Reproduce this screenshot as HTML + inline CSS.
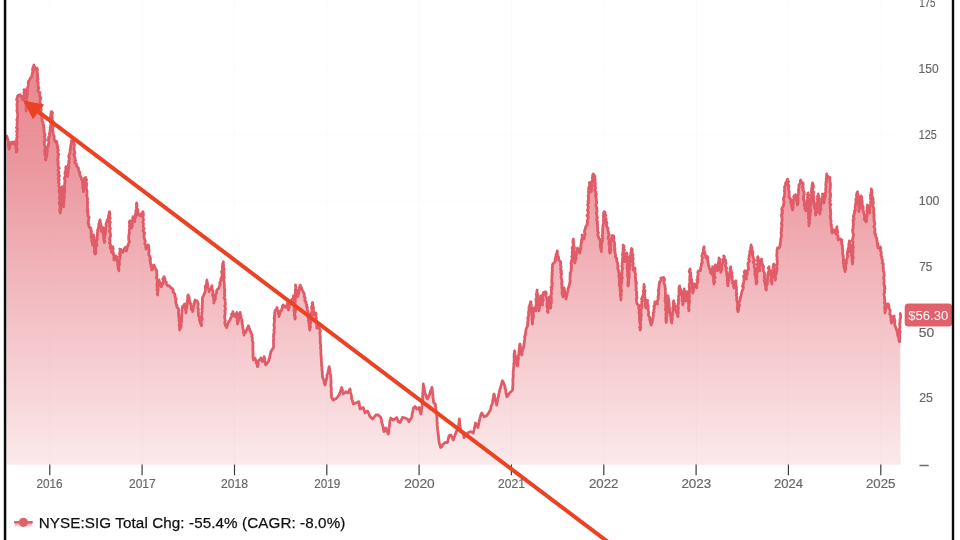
<!DOCTYPE html>
<html lang="en">
<head>
<meta charset="utf-8">
<title>NYSE:SIG Total Change</title>
<style>
html,body{margin:0;padding:0;background:#fff;}
body{width:960px;height:540px;overflow:hidden;position:relative;font-family:"Liberation Sans",sans-serif;}
svg{position:absolute;left:0;top:0;display:block;}
.grid line{stroke:#fbfbfb;stroke-width:1;}
.grid line.h{stroke:#fcfcfc;}
.ticks line{stroke:#3c3c3c;stroke-width:1.2;}
.ax text{font-family:"Liberation Sans",sans-serif;font-size:13px;fill:#686868;letter-spacing:0;stroke:#686868;stroke-width:0.2px;}
.legend{font-family:"Liberation Sans",sans-serif;font-size:15.2px;fill:#111;letter-spacing:0.1px;stroke:#111;stroke-width:0.25px;}
.tag{font-family:"Liberation Sans",sans-serif;font-size:12px;fill:#fff;}
</style>
</head>
<body>
<svg width="960" height="540" viewBox="0 0 960 540">
<defs>
<linearGradient id="g" gradientUnits="userSpaceOnUse" x1="0" y1="0" x2="0" y2="465">
<stop offset="0" stop-color="#e05a66" stop-opacity="0.72"/>
<stop offset="0.2" stop-color="#e05a66" stop-opacity="0.70"/>
<stop offset="0.344" stop-color="#e05a66" stop-opacity="0.64"/>
<stop offset="1" stop-color="#e05a66" stop-opacity="0.13"/>
</linearGradient>
<linearGradient id="lg" x1="0" y1="0" x2="0" y2="1">
<stop offset="0" stop-color="#e9828b"/>
<stop offset="1" stop-color="#fbeced"/>
</linearGradient>
</defs>
<rect x="0" y="0" width="960" height="540" fill="#ffffff"/>
<g class="grid"><line class="h" x1="6" y1="3.1" x2="900" y2="3.1" /><line class="h" x1="6" y1="69.1" x2="900" y2="69.1" /><line class="h" x1="6" y1="135.0" x2="900" y2="135.0" /><line class="h" x1="6" y1="200.9" x2="900" y2="200.9" /><line class="h" x1="6" y1="266.8" x2="900" y2="266.8" /><line class="h" x1="6" y1="332.8" x2="900" y2="332.8" /><line class="h" x1="6" y1="398.7" x2="900" y2="398.7" /><line x1="50" y1="0" x2="50" y2="465" /><line x1="142.3" y1="0" x2="142.3" y2="465" /><line x1="234.7" y1="0" x2="234.7" y2="465" /><line x1="327" y1="0" x2="327" y2="465" /><line x1="419.3" y1="0" x2="419.3" y2="465" /><line x1="511.6" y1="0" x2="511.6" y2="465" /><line x1="604" y1="0" x2="604" y2="465" /><line x1="696.3" y1="0" x2="696.3" y2="465" /><line x1="788.6" y1="0" x2="788.6" y2="465" /><line x1="881" y1="0" x2="881" y2="465" /></g>
<g style="filter:blur(0.5px)">
<path d="M6.7,136.0 L7.2,137.3 L7.4,138.7 L8.0,140.0 L8.3,141.3 L8.7,142.5 L8.6,143.8 L8.3,145.2 L8.7,146.4 L8.6,147.8 L9.2,149.0 L9.6,147.8 L9.8,146.6 L9.4,145.3 L10.6,144.3 L10.6,143.0 L11.7,142.1 L12.9,142.6 L13.2,143.9 L13.5,142.7 L14.4,141.7 L14.8,143.2 L15.4,144.6 L15.7,146.0 L16.2,147.2 L16.0,148.4 L16.2,149.6 L16.8,150.8 L16.4,152.0 L16.9,150.7 L17.2,149.4 L16.5,148.1 L16.5,146.9 L16.7,145.6 L16.8,144.3 L17.1,143.0 L17.0,141.7 L16.7,140.4 L16.6,139.1 L16.8,137.9 L17.4,136.6 L16.7,135.3 L17.1,134.0 L17.2,132.7 L16.5,131.4 L17.1,130.1 L17.6,128.9 L16.4,127.6 L17.1,126.3 L17.2,125.0 L16.9,123.7 L17.4,122.4 L17.2,121.0 L16.7,119.7 L17.6,118.4 L17.5,117.1 L17.6,115.8 L17.8,114.5 L17.4,113.1 L17.3,111.8 L16.8,110.5 L17.5,109.2 L17.1,107.9 L17.2,106.5 L16.9,105.2 L17.0,103.9 L17.2,102.6 L17.9,101.3 L16.6,99.9 L16.8,98.6 L17.5,97.3 L17.6,96.0 L18.3,95.1 L19.4,95.8 L20.2,94.7 L20.9,95.9 L21.8,96.6 L22.5,97.6 L22.2,99.0 L22.8,100.1 L23.2,98.7 L23.4,97.4 L23.6,96.1 L24.2,94.9 L24.0,93.5 L24.1,92.2 L24.3,90.9 L24.0,89.6 L25.0,89.8 L24.8,90.9 L25.0,92.2 L26.1,93.4 L25.7,94.8 L25.2,96.1 L26.4,97.3 L25.9,98.7 L25.7,100.0 L26.4,101.4 L25.4,102.8 L25.8,104.1 L26.2,105.5 L26.0,106.9 L26.0,108.3 L26.2,109.6 L26.1,111.0 L26.1,109.7 L26.2,108.4 L26.8,107.1 L26.5,105.8 L26.2,104.5 L27.0,103.2 L27.2,101.9 L26.5,100.6 L26.2,99.3 L26.8,98.0 L26.8,96.6 L26.9,95.2 L27.6,93.9 L26.8,92.4 L27.8,91.1 L26.9,89.7 L27.4,88.3 L27.9,87.0 L28.2,85.7 L28.3,84.4 L28.3,83.0 L28.3,81.7 L28.9,80.9 L29.6,80.1 L29.9,79.0 L30.5,78.0 L31.8,76.8 L31.9,75.4 L32.3,74.1 L32.4,72.7 L33.1,71.4 L32.5,70.0 L32.7,68.7 L33.0,67.5 L33.5,66.2 L33.9,65.0 L34.4,66.3 L34.7,67.7 L35.0,69.1 L36.9,68.0 L37.5,69.7 L37.1,71.1 L37.2,72.5 L37.4,73.9 L37.7,75.2 L37.4,76.6 L37.8,78.0 L38.0,79.2 L37.1,80.5 L37.8,81.7 L38.2,83.0 L38.1,84.2 L38.2,85.5 L38.1,86.7 L39.0,87.9 L38.4,89.2 L37.9,90.5 L38.5,91.7 L40.0,92.5 L39.7,93.8 L39.7,95.1 L39.5,96.3 L40.8,97.6 L40.3,98.9 L40.3,100.2 L40.0,101.5 L39.9,102.7 L40.6,104.0 L40.0,105.4 L41.0,106.8 L40.3,108.2 L41.3,109.6 L40.8,111.0 L40.6,112.3 L41.3,113.4 L41.4,114.6 L41.5,115.9 L42.0,117.0 L42.3,118.4 L41.9,119.9 L42.4,121.3 L43.1,122.6 L43.0,124.1 L43.9,125.1 L43.3,126.5 L43.9,127.6 L44.0,128.8 L44.1,130.0 L44.2,131.3 L44.1,132.7 L44.9,134.0 L45.0,135.3 L44.2,136.7 L44.9,138.0 L45.0,139.3 L45.2,140.6 L44.2,142.0 L44.4,143.3 L44.2,144.7 L45.2,146.0 L44.9,147.3 L45.4,148.6 L44.9,150.0 L44.5,151.3 L45.5,152.5 L44.7,153.8 L45.0,155.0 L45.6,156.2 L46.3,157.4 L45.2,158.8 L45.8,160.0 L45.7,158.7 L46.3,157.5 L46.4,156.3 L47.0,155.1 L46.2,153.7 L47.1,152.6 L47.4,151.3 L47.2,150.0 L47.3,148.7 L47.4,147.4 L48.3,146.3 L48.3,145.0 L48.5,143.8 L49.1,142.6 L48.7,141.2 L48.1,139.9 L48.9,138.7 L48.5,137.4 L49.7,136.3 L49.5,135.0 L49.4,133.7 L49.7,132.5 L50.2,131.3 L50.0,130.0 L50.6,128.8 L50.2,127.5 L50.8,126.3 L50.7,125.0 L51.2,123.7 L50.4,122.3 L51.1,121.0 L50.1,119.6 L50.5,118.3 L50.2,117.0 L51.5,115.7 L50.7,114.3 L51.2,113.0 L51.3,111.7 L52.2,112.0 L52.5,113.3 L52.2,114.6 L51.7,115.9 L52.4,117.1 L52.3,118.4 L52.2,119.7 L52.7,120.9 L53.2,122.2 L53.0,123.5 L52.4,124.8 L53.5,126.0 L53.2,127.3 L52.6,128.6 L52.8,129.9 L53.1,131.2 L52.9,132.5 L53.2,133.7 L53.5,135.0 L54.2,136.2 L54.2,137.6 L54.0,139.1 L54.9,140.3 L55.1,141.7 L55.9,140.9 L56.9,142.0 L56.6,143.3 L57.3,144.3 L57.1,145.6 L57.8,146.6 L57.4,148.0 L57.9,149.2 L58.4,150.4 L57.5,151.7 L57.9,153.0 L58.7,154.2 L58.3,155.5 L57.9,156.7 L58.2,158.0 L57.8,159.3 L57.9,160.5 L58.0,161.8 L58.3,163.0 L57.8,164.3 L58.2,165.6 L58.3,166.9 L59.3,168.1 L58.2,169.5 L58.1,170.8 L58.8,172.1 L58.9,173.3 L58.0,174.7 L59.5,175.9 L58.7,177.2 L58.1,178.6 L59.3,179.8 L58.8,181.1 L58.4,182.4 L59.2,183.7 L59.1,185.0 L58.9,186.3 L59.6,187.5 L59.4,188.8 L59.3,190.1 L59.1,191.4 L59.5,192.6 L59.6,193.9 L60.0,195.2 L59.8,196.4 L59.4,197.7 L59.7,199.0 L60.1,200.3 L60.2,201.5 L59.1,202.9 L59.5,204.1 L59.8,205.4 L60.9,206.6 L59.9,207.9 L60.0,209.2 L59.6,210.5 L60.1,211.7 L60.3,213.0 L60.6,211.7 L59.7,210.3 L61.0,209.1 L60.8,207.8 L60.5,206.5 L61.3,205.2 L61.6,203.9 L60.5,202.6 L60.9,201.3 L61.2,200.0 L61.3,198.7 L61.2,197.3 L61.1,196.0 L62.3,194.7 L62.0,193.4 L61.2,192.0 L61.2,190.7 L62.5,189.4 L62.3,188.1 L62.3,186.7 L61.8,188.1 L62.6,189.3 L62.2,190.7 L63.3,192.0 L62.8,193.3 L62.7,194.7 L62.6,196.1 L63.2,197.3 L63.1,198.7 L63.0,200.0 L63.1,201.4 L63.1,202.7 L63.4,204.0 L63.7,205.4 L63.6,206.7 L63.8,205.4 L63.5,204.1 L63.7,202.9 L64.0,201.6 L64.0,200.3 L64.1,199.0 L64.2,197.8 L64.3,196.5 L64.2,195.2 L63.9,193.9 L64.6,192.7 L64.9,191.4 L64.7,190.1 L64.5,188.8 L64.8,187.6 L64.4,186.3 L64.5,185.0 L64.9,183.7 L64.6,182.4 L65.3,181.1 L64.7,179.7 L64.3,178.4 L64.8,177.1 L65.9,175.9 L65.2,174.5 L64.9,173.2 L65.2,171.9 L65.8,170.6 L65.8,169.3 L65.8,168.0 L66.0,166.7 L65.7,168.0 L66.2,169.2 L66.2,170.5 L66.0,171.8 L66.5,173.0 L66.7,174.3 L67.7,175.4 L67.5,176.7 L67.9,175.4 L67.6,174.1 L68.2,172.9 L68.1,171.6 L68.3,170.3 L68.0,169.0 L69.0,167.8 L68.8,166.5 L68.3,165.2 L68.5,163.9 L69.4,162.7 L68.6,161.4 L69.1,160.1 L69.3,158.9 L69.0,157.6 L68.7,156.2 L69.2,155.0 L69.6,153.7 L70.1,152.4 L70.1,151.0 L70.1,149.7 L70.6,148.4 L70.6,147.0 L70.8,145.8 L71.0,144.7 L71.2,143.5 L71.8,142.4 L71.4,141.1 L71.9,140.0 L73.0,141.0 L73.8,142.3 L73.6,143.8 L74.5,145.1 L74.2,146.6 L74.1,148.0 L74.1,149.3 L74.4,150.5 L74.5,151.7 L75.0,153.0 L73.8,154.3 L74.4,155.5 L74.3,156.8 L75.1,158.0 L74.9,159.2 L75.6,160.5 L74.6,161.8 L74.9,163.0 L76.3,163.6 L76.5,165.0 L76.7,166.3 L78.0,167.3 L78.5,168.5 L78.5,169.9 L79.0,171.2 L79.7,172.3 L79.6,173.8 L80.0,175.0 L80.4,176.1 L80.9,177.1 L81.5,178.1 L81.4,179.3 L82.5,180.4 L82.3,181.7 L82.7,182.9 L82.8,184.2 L82.6,185.5 L82.7,186.7 L82.7,188.0 L83.6,189.1 L83.6,190.4 L83.3,191.7 L83.4,190.4 L83.4,189.1 L83.7,187.8 L83.5,186.5 L84.2,185.2 L84.2,183.9 L84.2,182.6 L84.1,181.3 L84.5,180.0 L84.4,178.4 L85.7,177.4 L85.9,178.8 L86.6,180.0 L86.0,181.3 L86.1,182.5 L86.8,183.7 L86.4,185.0 L86.5,186.2 L86.3,187.5 L86.4,188.8 L86.7,190.0 L87.1,191.3 L86.9,192.6 L86.9,193.9 L86.7,195.2 L86.9,196.4 L87.3,197.7 L87.6,199.0 L87.3,200.3 L87.5,201.5 L87.7,202.8 L87.4,204.1 L87.6,205.4 L87.5,206.7 L87.4,208.1 L87.9,209.4 L87.0,210.8 L88.1,212.0 L87.6,213.4 L88.1,214.7 L87.9,216.1 L89.2,217.3 L88.8,218.7 L88.5,220.0 L88.5,221.4 L88.0,222.8 L88.9,224.0 L88.6,225.4 L89.1,226.7 L89.8,227.6 L90.8,228.1 L91.0,229.3 L90.9,230.6 L91.6,231.9 L90.9,233.3 L91.8,234.5 L91.5,235.9 L90.9,237.2 L91.9,238.5 L92.0,239.8 L91.7,241.1 L92.2,242.4 L92.7,243.7 L92.5,245.0 L92.9,243.8 L93.1,242.5 L92.7,241.2 L93.8,240.1 L93.9,238.8 L93.4,237.5 L93.7,236.3 L93.6,235.0 L93.3,236.3 L94.1,237.5 L93.7,238.8 L94.2,240.1 L94.4,241.3 L93.9,242.6 L93.8,243.9 L94.4,245.1 L94.7,246.4 L94.3,247.7 L94.7,248.9 L94.6,250.2 L94.2,251.5 L94.5,252.8 L95.1,254.0 L96.0,252.9 L95.3,251.5 L95.8,250.4 L95.4,249.0 L95.8,247.8 L95.4,246.5 L96.9,245.5 L96.9,244.2 L96.1,242.9 L96.5,241.7 L96.2,240.4 L97.4,239.3 L97.0,237.9 L97.3,236.7 L97.3,235.5 L97.5,234.2 L97.3,232.9 L97.9,231.7 L97.5,230.4 L98.1,229.2 L98.3,228.0 L98.8,226.7 L98.8,225.3 L98.8,223.9 L99.5,222.7 L99.5,221.3 L100.2,220.0 L99.9,221.3 L100.4,222.6 L100.7,223.9 L101.0,225.2 L101.3,226.4 L101.3,227.8 L101.2,229.1 L101.3,230.4 L101.6,231.7 L102.8,230.5 L102.2,228.8 L102.8,227.5 L102.1,228.8 L103.7,229.9 L103.3,231.2 L103.2,232.5 L103.3,233.8 L103.3,235.0 L103.7,236.2 L103.6,237.5 L103.8,238.8 L103.7,240.0 L104.8,241.2 L104.3,242.5 L104.3,241.2 L104.1,239.9 L104.2,238.6 L105.0,237.3 L104.7,236.0 L105.3,234.7 L105.5,233.4 L105.4,232.1 L105.7,230.8 L105.6,229.5 L105.2,228.1 L105.9,226.9 L106.2,225.6 L106.0,224.3 L106.3,223.0 L107.1,221.8 L107.1,220.2 L108.1,219.0 L108.9,217.9 L108.3,216.5 L108.8,215.4 L108.9,214.1 L109.8,213.0 L109.5,211.7 L109.2,213.0 L109.8,214.3 L109.6,215.6 L109.6,216.9 L110.3,218.2 L109.1,219.5 L109.4,220.8 L110.4,222.1 L109.5,223.4 L109.8,224.7 L109.6,226.0 L109.7,227.3 L110.4,228.5 L110.0,229.8 L109.4,231.2 L110.2,232.4 L110.4,233.7 L110.5,235.0 L110.5,236.3 L109.9,237.6 L109.5,238.9 L110.0,240.2 L110.1,241.5 L109.3,242.8 L110.4,244.1 L110.5,245.4 L110.1,246.7 L110.2,248.0 L111.0,249.0 L111.4,250.1 L111.2,251.4 L111.7,252.5 L111.4,251.2 L112.1,250.2 L112.2,249.0 L112.8,247.9 L112.8,246.7 L113.0,248.0 L113.2,249.3 L112.8,250.7 L112.8,252.1 L113.6,253.3 L113.3,254.7 L114.1,256.0 L113.9,257.3 L113.8,258.7 L114.0,260.0 L114.6,258.5 L115.2,257.2 L115.8,255.8 L116.6,256.9 L116.4,258.2 L116.9,259.3 L116.8,260.6 L117.6,261.7 L117.8,262.9 L117.7,264.3 L117.8,265.6 L118.3,266.9 L118.1,268.3 L118.7,269.5 L118.9,270.8 L119.0,269.5 L118.4,268.2 L118.8,266.9 L119.1,265.7 L119.5,264.4 L119.2,263.1 L119.4,261.8 L119.1,260.5 L119.5,259.3 L120.1,258.0 L119.3,256.7 L120.5,255.5 L119.5,254.1 L119.8,252.8 L119.9,251.6 L120.3,250.3 L119.8,249.0 L121.5,249.7 L121.5,251.5 L122.4,252.6 L123.3,251.4 L124.5,250.4 L124.4,248.8 L125.0,247.5 L125.3,248.8 L126.0,249.8 L126.5,250.9 L126.6,249.4 L127.2,248.2 L126.9,246.7 L128.3,245.7 L128.2,244.3 L128.8,243.0 L129.6,241.7 L128.8,240.4 L128.8,239.1 L128.7,237.8 L128.7,236.5 L128.8,235.2 L129.4,233.9 L129.2,232.6 L129.3,231.2 L129.2,229.9 L129.7,228.7 L129.6,227.3 L129.4,226.0 L129.8,224.7 L129.5,223.4 L129.2,222.1 L129.9,220.8 L129.9,222.0 L130.7,223.1 L130.3,224.5 L130.9,225.6 L131.9,226.6 L131.5,228.1 L132.0,226.8 L132.3,225.5 L132.2,224.2 L132.2,223.0 L131.8,221.7 L132.9,220.5 L132.7,219.2 L132.7,217.9 L133.1,216.7 L133.4,218.0 L133.6,219.3 L134.4,220.4 L134.7,221.7 L134.0,220.3 L134.8,219.0 L135.4,217.7 L135.8,216.4 L135.3,215.0 L135.5,213.7 L136.3,212.4 L135.7,211.0 L136.3,209.7 L136.8,208.4 L136.3,207.0 L136.9,205.7 L136.3,204.3 L136.7,203.0 L136.9,204.3 L137.0,205.7 L136.8,207.1 L136.6,208.4 L137.8,209.6 L138.0,211.0 L137.8,212.4 L138.5,213.6 L138.2,215.0 L139.5,215.6 L140.8,215.8 L141.5,214.9 L141.4,213.5 L142.7,212.9 L142.8,211.6 L143.3,213.0 L143.3,214.4 L143.3,215.7 L142.9,217.0 L143.2,218.4 L143.5,219.7 L143.2,221.0 L142.8,222.4 L143.5,223.7 L143.4,225.0 L143.1,226.4 L143.5,227.7 L144.2,229.0 L142.9,230.4 L143.5,231.7 L144.7,232.9 L144.1,234.4 L144.1,235.7 L144.1,237.1 L144.3,238.4 L144.8,239.7 L145.3,241.0 L145.0,242.4 L144.8,243.7 L145.7,245.0 L145.9,246.3 L145.7,247.7 L146.1,249.0 L146.3,247.9 L146.9,246.9 L147.8,246.1 L148.2,244.9 L148.8,246.2 L148.7,247.5 L148.7,248.7 L149.1,250.0 L149.0,251.3 L148.9,252.5 L148.8,253.8 L148.8,255.1 L149.9,256.2 L149.9,257.5 L150.7,258.7 L149.7,260.0 L150.5,261.2 L150.4,262.5 L150.5,263.8 L151.3,264.9 L150.9,266.3 L151.3,267.5 L152.1,268.6 L151.7,270.0 L152.7,268.9 L152.2,267.2 L153.7,266.4 L154.0,265.0 L154.4,266.2 L154.9,267.4 L155.2,268.7 L156.2,269.6 L156.6,270.9 L156.9,272.1 L156.5,273.4 L157.1,274.6 L156.9,275.9 L156.3,277.2 L156.8,278.4 L157.0,279.7 L157.4,281.0 L157.3,282.3 L157.1,283.5 L156.9,284.8 L157.1,286.1 L157.1,287.4 L157.3,288.6 L156.9,289.9 L157.5,291.2 L157.6,292.4 L157.2,293.7 L157.5,295.0 L157.5,293.7 L157.6,292.5 L157.8,291.2 L158.2,290.0 L158.2,288.8 L157.9,287.5 L158.5,286.3 L158.6,285.0 L158.3,283.7 L159.0,282.5 L158.8,281.2 L159.0,280.0 L159.2,281.2 L159.5,282.4 L160.6,283.3 L160.7,284.5 L161.5,285.5 L161.4,286.8 L161.8,285.4 L162.7,284.3 L162.4,282.9 L163.1,281.8 L163.8,280.6 L162.7,279.0 L163.6,277.9 L164.1,276.7 L164.4,277.9 L165.0,279.0 L164.5,280.5 L165.5,281.5 L166.4,282.5 L166.0,283.9 L166.9,284.9 L167.7,285.8 L169.0,285.7 L169.9,286.6 L170.5,287.6 L171.7,288.0 L172.6,289.0 L173.3,290.1 L173.0,291.7 L173.7,292.8 L174.7,293.7 L174.9,295.0 L175.0,296.3 L175.2,297.6 L176.2,298.8 L175.8,300.2 L175.7,301.5 L175.9,302.8 L176.1,304.1 L177.1,305.3 L176.7,306.7 L177.4,307.5 L178.1,308.2 L178.6,309.3 L178.6,310.6 L178.5,311.9 L178.4,313.2 L178.8,314.5 L178.5,315.8 L179.1,317.0 L178.9,318.4 L179.2,319.6 L179.1,320.9 L179.4,322.2 L179.7,323.5 L179.1,324.8 L179.4,326.1 L179.7,327.4 L179.6,328.7 L179.6,330.0 L179.9,328.9 L180.5,328.0 L181.0,327.0 L181.2,325.7 L181.1,324.5 L180.7,323.2 L181.7,321.9 L181.6,320.7 L181.6,319.4 L181.6,318.1 L181.8,316.9 L181.7,315.6 L181.7,314.3 L181.8,313.0 L182.0,311.8 L182.0,310.5 L182.0,309.2 L182.6,308.0 L182.4,306.7 L183.5,305.9 L184.0,304.7 L185.0,304.0 L184.7,305.3 L185.2,306.6 L185.5,307.8 L185.4,309.1 L185.5,310.4 L186.2,311.7 L185.9,313.0 L186.0,311.7 L186.0,310.4 L186.4,309.1 L186.7,307.9 L186.9,306.6 L187.1,305.3 L187.2,304.0 L187.1,302.7 L187.4,301.4 L187.5,300.1 L187.7,298.8 L187.9,297.6 L187.6,296.2 L188.3,295.0 L188.6,296.2 L189.2,297.4 L189.2,298.7 L189.4,300.0 L189.9,301.2 L189.6,302.6 L191.1,303.6 L190.8,305.0 L191.6,306.2 L191.2,307.7 L191.2,309.2 L192.8,310.2 L192.5,311.7 L192.9,310.4 L193.0,309.1 L193.5,307.8 L193.0,306.4 L194.1,305.3 L194.3,303.9 L194.5,302.6 L194.6,301.3 L195.1,300.0 L196.3,300.7 L197.5,301.7 L197.8,302.9 L198.4,304.1 L197.9,305.4 L197.9,306.7 L197.9,308.0 L198.5,309.2 L198.4,310.4 L198.3,311.7 L198.6,313.0 L198.4,314.2 L198.3,315.5 L199.1,316.7 L199.8,317.9 L199.4,319.4 L199.6,320.7 L200.1,322.0 L200.4,323.3 L201.1,324.5 L201.4,325.8 L201.6,324.5 L201.2,323.2 L201.0,321.9 L201.3,320.6 L202.2,319.4 L202.2,318.1 L201.5,316.8 L201.6,315.5 L201.9,314.2 L201.7,312.9 L202.3,311.6 L202.0,310.3 L201.8,309.0 L202.5,307.8 L202.0,306.4 L202.3,305.2 L202.3,303.9 L202.3,302.6 L202.5,301.3 L202.4,300.0 L202.3,298.7 L202.6,297.4 L203.2,296.3 L203.7,295.2 L204.3,294.1 L204.7,292.9 L205.1,291.7 L205.3,290.4 L205.2,289.1 L205.4,287.8 L205.2,286.4 L206.1,285.2 L206.5,283.9 L206.7,282.6 L206.7,281.3 L207.0,280.0 L206.9,281.4 L207.4,282.6 L207.4,283.9 L207.7,285.2 L208.0,286.5 L207.9,287.9 L208.7,289.1 L208.9,290.4 L209.1,291.7 L209.4,290.4 L210.6,289.6 L211.3,288.4 L211.4,287.0 L212.1,285.8 L211.8,287.2 L212.1,288.5 L212.1,289.8 L213.0,291.0 L213.0,292.4 L212.8,293.8 L212.6,295.1 L213.2,296.4 L213.6,297.7 L213.6,299.0 L213.9,300.3 L214.1,301.6 L213.8,303.0 L214.1,301.7 L214.5,300.4 L215.4,299.2 L215.4,297.9 L215.4,296.5 L215.4,295.2 L216.0,293.9 L216.7,292.7 L216.6,291.3 L216.9,290.0 L217.9,289.0 L219.0,288.0 L219.2,286.7 L219.7,285.5 L220.3,284.3 L219.7,282.9 L220.4,281.7 L220.8,280.5 L220.8,279.2 L221.3,278.0 L221.7,276.8 L222.3,275.6 L222.0,274.3 L222.0,273.0 L221.5,271.7 L222.9,270.6 L222.4,269.2 L222.5,268.0 L222.3,266.7 L222.8,265.5 L222.6,264.2 L223.2,263.0 L223.4,261.7 L223.3,263.0 L223.3,264.3 L223.8,265.5 L223.0,266.9 L223.8,268.1 L224.3,269.4 L223.7,270.7 L224.0,272.0 L224.1,273.3 L224.0,274.6 L223.8,275.9 L224.4,277.1 L224.1,278.4 L223.6,279.7 L223.9,281.0 L224.2,282.3 L224.2,283.6 L224.3,284.9 L224.4,286.1 L224.2,287.4 L224.5,288.7 L224.8,290.0 L224.5,291.3 L224.8,292.6 L224.4,293.9 L224.8,295.2 L224.6,296.5 L224.0,297.8 L225.0,299.1 L225.1,300.4 L225.2,301.7 L225.4,302.9 L225.4,304.2 L224.8,305.6 L225.1,306.8 L225.4,308.1 L225.4,309.4 L224.8,310.7 L225.2,312.0 L225.1,313.3 L225.0,314.6 L224.7,315.9 L224.6,317.2 L224.9,318.5 L225.1,319.8 L225.2,321.1 L224.8,322.4 L224.9,323.7 L225.3,325.0 L225.9,326.3 L226.7,327.5 L227.1,326.4 L227.4,325.2 L227.6,324.0 L228.2,323.0 L228.6,321.6 L229.8,320.6 L230.3,319.3 L230.7,317.9 L231.6,316.9 L231.8,315.6 L231.5,314.1 L232.9,313.1 L232.9,311.7 L232.8,313.2 L234.2,314.1 L234.3,315.5 L235.0,316.7 L235.6,315.3 L236.2,313.9 L236.8,312.5 L237.2,313.7 L237.2,315.0 L237.3,316.3 L237.2,317.6 L237.3,318.9 L237.1,320.2 L237.3,321.4 L237.4,322.7 L237.6,324.0 L237.7,322.7 L238.3,321.5 L238.5,320.2 L238.6,318.9 L238.8,317.6 L239.6,316.4 L239.3,315.0 L239.9,313.8 L240.1,312.5 L240.4,313.7 L240.3,315.0 L241.1,316.2 L240.9,317.6 L241.4,318.8 L241.9,320.0 L241.7,321.3 L242.3,322.5 L242.0,323.8 L242.6,325.0 L242.7,326.2 L242.8,327.5 L243.1,328.7 L243.2,330.0 L243.6,331.2 L243.5,332.5 L243.8,333.8 L244.0,335.0 L244.2,333.5 L245.6,332.6 L246.0,331.3 L246.5,329.9 L247.3,328.6 L247.9,327.2 L248.4,325.8 L249.0,326.9 L248.9,328.3 L249.8,329.3 L249.8,330.7 L250.8,331.7 L251.0,333.0 L251.6,334.2 L252.1,335.4 L251.9,336.8 L252.4,338.0 L252.2,339.3 L252.4,340.6 L252.8,341.9 L253.1,343.2 L252.9,344.5 L252.9,345.8 L253.0,347.1 L252.8,348.4 L252.9,349.6 L253.0,350.9 L253.0,352.2 L253.1,353.5 L253.1,354.8 L253.0,356.1 L253.0,357.4 L253.4,358.7 L253.4,360.0 L254.4,359.2 L255.0,358.0 L255.2,359.3 L256.0,360.4 L256.1,361.7 L256.4,363.0 L257.0,364.1 L257.2,365.4 L257.5,366.7 L257.9,365.3 L258.3,363.9 L258.1,362.4 L258.4,361.0 L259.3,360.1 L260.2,359.1 L260.8,358.0 L261.6,359.1 L261.8,360.5 L262.4,361.7 L263.0,360.5 L263.2,359.2 L263.7,358.0 L264.1,356.7 L264.4,357.9 L264.9,359.0 L264.7,360.3 L264.9,361.5 L265.3,362.6 L265.4,363.8 L265.8,365.0 L266.6,363.9 L267.4,362.8 L268.3,361.7 L268.9,360.5 L268.9,359.2 L269.6,358.0 L269.8,356.8 L270.0,355.5 L270.3,354.2 L270.8,353.0 L270.8,351.7 L271.6,350.5 L272.3,349.1 L273.3,348.0 L273.6,346.7 L273.5,345.4 L273.5,344.1 L273.5,342.9 L273.6,341.6 L273.3,340.3 L273.9,339.0 L273.6,337.7 L273.5,336.4 L273.6,335.1 L273.7,333.8 L274.1,332.6 L274.2,331.3 L273.9,330.0 L274.3,328.7 L274.4,327.4 L274.1,326.1 L273.9,324.8 L274.2,323.5 L274.3,322.1 L274.6,320.9 L274.5,319.5 L274.1,318.2 L274.8,316.9 L274.4,315.6 L275.1,314.3 L274.6,313.0 L274.9,311.7 L275.3,310.5 L275.9,309.5 L276.8,308.7 L277.1,307.5 L277.1,308.9 L277.5,310.1 L278.3,311.4 L278.3,312.7 L278.6,314.0 L279.0,315.3 L278.9,316.7 L279.3,315.4 L279.7,314.1 L280.1,312.8 L280.3,311.4 L281.4,310.3 L281.8,309.0 L282.3,307.7 L282.5,306.2 L283.1,304.9 L284.1,305.9 L284.7,306.9 L285.8,307.5 L286.5,306.5 L287.0,305.4 L287.4,304.2 L287.5,303.0 L287.4,304.4 L287.6,305.8 L288.4,307.2 L288.3,308.6 L288.5,310.0 L288.6,308.8 L289.2,307.7 L289.1,306.4 L289.2,305.1 L290.4,304.2 L290.5,302.9 L291.0,301.7 L290.9,300.4 L292.1,299.5 L292.9,298.4 L293.4,297.2 L293.3,295.8 L293.3,297.1 L293.5,298.4 L293.3,299.7 L293.4,301.0 L293.7,302.2 L294.3,303.5 L293.7,304.8 L294.2,306.1 L294.0,307.4 L294.2,308.7 L293.9,310.0 L294.1,311.3 L294.7,312.5 L294.5,313.9 L294.2,315.2 L295.0,316.4 L294.8,317.7 L294.9,319.0 L295.4,317.7 L295.2,316.4 L294.7,315.1 L294.7,313.8 L295.2,312.5 L295.2,311.2 L295.7,309.9 L294.9,308.5 L295.5,307.2 L295.4,305.9 L294.7,304.6 L295.0,303.3 L295.3,302.0 L295.1,300.7 L295.2,299.4 L295.4,298.1 L295.1,296.8 L295.5,295.5 L295.2,294.2 L295.2,292.8 L295.6,291.5 L295.2,290.2 L295.5,288.9 L296.0,287.6 L295.5,286.3 L295.5,285.0 L295.5,286.3 L296.1,287.6 L295.8,289.0 L296.8,290.1 L296.4,291.5 L297.0,292.8 L297.3,294.1 L296.7,295.5 L297.6,296.7 L298.3,295.5 L298.3,294.1 L298.8,292.9 L298.3,291.4 L299.3,290.3 L299.6,289.0 L299.4,287.6 L299.7,286.3 L300.3,285.1 L300.4,286.2 L301.1,287.3 L301.7,288.4 L301.9,289.7 L302.5,290.8 L303.2,291.9 L303.8,293.1 L304.3,294.2 L304.3,295.5 L304.2,296.8 L305.2,297.9 L304.8,299.3 L304.8,300.6 L306.0,301.7 L305.9,303.0 L306.4,304.1 L306.9,305.2 L306.5,306.5 L307.4,307.5 L307.1,308.9 L307.3,310.0 L308.1,311.3 L307.9,312.7 L308.5,313.9 L307.9,315.4 L308.4,316.6 L308.4,318.0 L308.5,319.3 L308.5,320.7 L308.9,322.0 L309.0,323.3 L309.3,324.7 L309.2,326.0 L309.7,327.3 L309.5,328.7 L309.9,330.0 L309.8,328.6 L310.5,327.3 L310.3,325.9 L310.1,324.4 L310.7,323.1 L310.7,321.7 L310.5,320.4 L310.8,319.1 L311.3,317.9 L311.4,316.6 L311.3,315.3 L311.2,314.0 L311.3,312.7 L312.1,311.5 L311.9,310.2 L311.7,308.9 L311.5,307.6 L311.8,306.3 L312.9,305.1 L312.1,303.8 L312.5,302.5 L312.6,303.8 L312.8,305.0 L313.0,306.2 L313.5,307.5 L313.5,308.7 L312.9,310.1 L313.8,311.2 L313.5,312.5 L314.3,313.7 L314.0,315.0 L315.0,314.0 L315.9,313.1 L316.2,314.2 L315.8,315.5 L315.9,316.8 L316.3,318.0 L316.1,319.3 L316.5,320.5 L316.5,321.7 L316.4,323.0 L317.0,324.2 L316.6,325.5 L316.9,326.7 L316.8,328.0 L317.8,327.3 L319.0,326.8 L319.4,327.8 L319.4,329.0 L320.1,330.0 L320.4,331.3 L319.7,332.6 L320.0,333.8 L320.0,335.1 L320.4,336.4 L320.1,337.7 L320.3,338.9 L320.2,340.2 L320.4,341.5 L320.2,342.8 L320.6,344.1 L320.7,345.3 L320.9,346.6 L320.4,347.9 L320.8,349.2 L320.9,350.4 L320.9,351.7 L320.8,353.0 L321.1,354.2 L321.0,355.5 L321.2,356.7 L321.2,358.0 L321.4,359.2 L321.3,360.5 L321.5,361.7 L321.4,363.0 L321.5,364.2 L321.6,365.5 L321.9,366.7 L321.9,367.9 L322.0,369.2 L321.9,370.5 L322.4,371.7 L322.3,372.9 L322.3,374.2 L322.5,375.4 L322.4,376.7 L322.9,377.9 L323.1,379.1 L323.8,380.2 L324.2,381.4 L324.1,382.7 L324.6,383.8 L325.0,385.0 L325.3,383.8 L325.6,382.7 L325.7,381.5 L326.3,380.4 L326.3,379.1 L326.8,378.0 L327.0,376.7 L326.9,375.4 L327.3,374.2 L328.0,373.0 L328.1,371.7 L328.3,370.5 L328.7,369.2 L328.8,367.9 L329.2,366.7 L329.4,367.9 L329.6,369.1 L329.6,370.3 L330.1,371.4 L330.0,372.7 L330.3,373.9 L330.7,375.0 L330.7,376.3 L330.8,377.6 L330.9,378.8 L330.9,380.1 L331.1,381.4 L331.0,382.7 L331.1,383.9 L330.8,385.2 L331.0,386.5 L331.2,387.8 L331.4,389.0 L331.2,390.3 L331.2,391.6 L331.4,392.9 L331.4,394.1 L331.5,395.4 L331.3,396.7 L332.0,397.8 L332.4,399.0 L333.3,400.0 L334.4,399.3 L335.7,398.8 L336.7,398.0 L337.5,397.0 L338.2,396.0 L339.0,395.0 L339.6,393.8 L340.0,392.5 L340.6,391.3 L340.8,390.0 L341.3,388.8 L341.7,387.5 L341.9,388.8 L342.5,390.1 L342.6,391.4 L342.8,392.7 L343.2,394.0 L344.1,393.1 L345.1,392.6 L345.8,391.7 L346.7,392.3 L347.5,392.9 L348.3,392.1 L348.9,391.1 L349.3,390.0 L350.0,389.0 L350.3,390.3 L350.2,391.6 L350.6,392.9 L351.0,394.1 L351.4,395.4 L351.5,396.7 L351.6,398.0 L351.8,399.3 L352.4,400.4 L352.7,401.6 L353.0,402.8 L353.4,404.0 L354.6,403.6 L355.8,403.0 L356.8,402.7 L357.7,402.0 L358.8,401.6 L359.0,402.9 L359.3,404.1 L359.3,405.4 L359.6,406.6 L359.9,407.8 L360.0,409.0 L361.1,408.6 L362.1,407.8 L363.3,407.6 L363.7,408.9 L364.1,410.3 L364.7,411.6 L365.0,413.0 L366.2,412.0 L367.5,411.0 L368.1,412.1 L368.6,413.2 L369.2,414.3 L369.5,415.6 L370.0,416.7 L370.9,417.4 L371.7,418.2 L372.5,419.0 L373.4,418.1 L374.2,417.0 L375.0,416.0 L375.8,415.0 L377.1,414.9 L378.3,415.0 L379.1,415.8 L380.0,416.7 L380.8,417.5 L381.1,418.8 L381.5,420.0 L381.5,421.3 L381.9,422.5 L382.2,423.8 L382.5,425.0 L382.9,426.3 L383.2,427.7 L383.3,429.0 L383.7,430.3 L384.0,431.7 L384.6,430.5 L385.2,429.2 L385.8,428.0 L386.3,429.2 L386.7,430.4 L387.3,431.6 L387.7,432.8 L388.3,434.0 L388.5,432.7 L388.7,431.4 L388.8,430.0 L389.0,428.7 L389.1,427.4 L389.4,426.1 L389.6,424.8 L389.7,423.4 L389.8,422.1 L390.0,420.8 L390.4,419.4 L390.8,418.0 L392.1,419.0 L393.3,420.1 L394.5,419.2 L395.6,418.4 L396.7,417.5 L397.3,418.9 L397.8,420.3 L398.3,421.7 L400.0,422.5 L400.7,421.3 L401.2,420.0 L402.0,418.8 L402.4,417.5 L403.8,417.7 L405.0,418.0 L406.2,418.5 L407.5,419.0 L408.2,420.4 L409.0,421.7 L409.5,420.6 L410.3,419.6 L410.9,418.5 L411.7,417.5 L412.0,416.1 L412.1,414.8 L412.3,413.4 L412.6,412.1 L413.0,410.7 L413.2,409.4 L413.3,408.0 L414.2,407.5 L415.0,406.6 L416.0,407.7 L416.7,409.0 L417.8,408.2 L419.0,407.5 L419.3,408.8 L419.5,410.2 L420.1,411.4 L420.4,412.7 L420.8,414.0 L421.0,412.8 L421.3,411.6 L421.5,410.4 L421.4,409.1 L421.8,407.9 L421.9,406.7 L422.2,405.5 L422.1,404.2 L422.4,403.0 L422.3,401.7 L422.7,400.5 L422.7,399.2 L422.7,397.9 L422.5,396.7 L422.8,395.4 L422.8,394.1 L422.7,392.9 L422.9,391.6 L423.1,390.3 L423.2,389.1 L423.1,387.8 L423.3,386.5 L423.2,385.3 L423.3,384.0 L423.5,385.3 L423.7,386.6 L424.0,387.9 L424.3,389.1 L424.5,390.4 L424.8,391.7 L424.9,393.0 L425.4,394.2 L426.0,395.4 L426.2,396.7 L426.8,397.9 L427.6,399.0 L428.1,397.8 L428.6,396.6 L429.2,395.5 L429.7,394.3 L430.0,393.0 L430.3,391.8 L430.7,390.8 L431.2,389.7 L431.7,388.6 L431.9,387.5 L432.2,388.7 L432.3,390.0 L432.4,391.3 L432.5,392.5 L432.7,393.7 L433.0,395.0 L432.8,396.3 L432.9,397.5 L433.3,398.7 L433.3,400.0 L433.5,401.3 L433.7,402.5 L434.5,403.3 L435.3,404.0 L435.4,405.2 L435.5,406.5 L435.9,407.7 L435.7,408.9 L435.9,410.1 L436.1,411.4 L436.2,412.6 L436.5,413.8 L436.7,415.0 L436.8,416.3 L436.9,417.6 L436.9,418.9 L437.0,420.2 L437.0,421.5 L437.3,422.8 L437.1,424.1 L437.2,425.4 L437.4,426.7 L437.5,428.0 L437.6,429.2 L437.8,430.5 L437.9,431.7 L438.1,433.0 L438.2,434.2 L438.3,435.5 L438.5,436.7 L438.6,438.0 L438.8,439.2 L438.9,440.5 L439.0,441.7 L439.3,442.9 L439.6,444.0 L439.9,445.2 L440.2,446.3 L440.5,447.5 L441.7,446.7 L442.5,445.3 L443.3,444.0 L444.2,443.3 L445.0,442.5 L446.2,442.5 L447.5,442.5 L447.8,441.2 L448.1,439.8 L448.4,438.5 L448.7,437.1 L449.0,435.8 L449.9,435.4 L450.8,435.0 L451.4,436.0 L451.9,437.0 L452.5,438.0 L452.9,439.0 L453.3,440.0 L453.7,438.7 L454.1,437.5 L454.6,436.2 L455.0,435.0 L455.6,433.6 L456.1,432.2 L456.7,430.8 L457.4,429.3 L458.3,428.0 L458.4,426.7 L458.7,425.4 L458.7,424.1 L458.9,422.9 L459.0,421.6 L459.2,420.3 L459.4,419.0 L459.5,420.3 L459.6,421.6 L459.8,422.9 L459.8,424.2 L460.0,425.5 L460.2,426.8 L460.4,428.1 L460.5,429.4 L460.6,430.7 L460.8,432.0 L462.0,432.5 L463.3,433.0 L463.5,434.1 L463.6,435.3 L463.9,436.4 L464.0,437.5 L465.0,436.4 L465.8,435.2 L466.7,434.0 L467.5,433.2 L468.3,432.5 L469.5,432.1 L470.8,431.7 L472.1,432.3 L473.3,433.0 L473.6,431.7 L473.9,430.5 L474.2,429.3 L474.4,428.0 L474.8,426.8 L475.0,425.5 L475.2,424.3 L475.5,423.0 L476.2,424.1 L476.7,425.3 L477.4,426.4 L478.0,427.5 L478.2,426.2 L478.5,425.0 L478.7,423.7 L479.1,422.5 L479.2,421.2 L479.5,420.0 L479.8,418.8 L480.0,417.5 L480.4,416.4 L480.8,415.2 L481.3,414.1 L481.7,413.0 L482.4,414.2 L483.4,415.4 L484.0,416.7 L485.4,416.3 L486.7,415.8 L487.4,414.8 L488.0,413.8 L488.8,412.9 L489.2,411.7 L490.0,410.8 L490.4,409.6 L490.8,408.4 L491.0,407.2 L491.2,406.0 L491.9,404.9 L492.2,403.7 L492.5,402.5 L492.7,401.3 L493.0,400.1 L492.9,398.8 L493.5,397.7 L493.7,396.4 L493.5,395.2 L494.0,394.0 L494.5,395.2 L494.5,396.5 L494.9,397.7 L494.9,399.0 L495.6,400.1 L495.8,401.3 L496.0,402.6 L496.5,403.8 L496.7,405.0 L496.9,403.7 L497.2,402.3 L497.3,401.0 L497.8,399.7 L498.0,398.3 L498.2,397.0 L498.7,395.7 L498.7,394.3 L499.1,393.0 L499.3,391.8 L499.8,390.6 L499.8,389.3 L500.4,388.1 L500.7,386.9 L501.0,385.7 L501.4,384.4 L501.8,383.2 L502.0,382.0 L502.4,380.8 L503.1,381.9 L503.6,383.1 L504.1,384.3 L504.6,385.5 L505.0,386.7 L505.1,388.0 L505.5,389.2 L505.8,390.4 L505.8,391.7 L506.1,393.0 L506.4,394.2 L506.6,395.5 L507.0,396.7 L507.7,395.6 L508.6,394.7 L509.2,393.5 L510.0,392.5 L510.9,391.7 L511.7,390.9 L512.5,390.0 L512.7,388.7 L512.6,387.4 L512.8,386.1 L512.9,384.8 L512.9,383.5 L513.0,382.2 L512.8,380.8 L512.8,379.5 L513.0,378.2 L513.2,376.9 L513.4,375.6 L513.0,374.3 L513.3,373.0 L513.2,371.7 L513.3,370.5 L513.5,369.2 L513.7,368.0 L513.7,366.7 L514.0,365.5 L513.7,364.2 L514.1,363.0 L514.1,361.7 L514.1,360.3 L514.2,359.0 L514.1,357.6 L514.0,356.2 L514.2,354.9 L514.2,353.5 L514.9,352.2 L514.5,350.8 L514.4,352.2 L514.9,353.5 L515.1,354.9 L515.3,356.3 L515.8,357.6 L515.7,359.0 L516.0,360.3 L516.4,361.7 L516.6,363.2 L517.0,364.6 L517.5,366.0 L517.9,364.7 L517.7,363.4 L518.0,362.1 L518.2,360.8 L518.1,359.5 L518.6,358.3 L518.2,356.9 L518.4,355.6 L518.9,354.4 L518.8,353.0 L519.1,351.8 L518.9,350.4 L519.4,349.2 L519.3,347.9 L519.8,346.6 L519.5,345.3 L520.0,344.0 L520.2,345.2 L520.4,346.4 L520.6,347.7 L520.7,348.9 L521.2,350.1 L521.6,351.3 L521.3,352.6 L521.7,353.7 L521.7,355.0 L522.1,353.8 L521.9,352.4 L522.4,351.2 L522.7,350.0 L522.9,348.7 L523.5,347.5 L523.7,346.2 L523.9,345.0 L523.9,343.7 L524.5,342.5 L524.3,341.2 L524.7,340.0 L524.9,338.8 L524.5,337.4 L524.8,336.2 L525.2,335.0 L525.4,333.8 L525.7,332.5 L525.8,331.3 L525.9,330.0 L526.3,328.6 L526.9,327.2 L527.6,325.8 L527.5,324.5 L528.0,323.2 L527.5,321.8 L528.2,320.5 L528.1,319.2 L527.7,317.9 L528.6,316.6 L528.6,315.3 L528.6,314.0 L528.5,312.6 L528.7,311.3 L529.2,310.0 L529.0,308.8 L528.9,307.5 L529.5,306.4 L529.7,305.2 L530.2,304.1 L530.4,302.9 L530.7,301.7 L531.1,303.0 L530.7,304.3 L531.5,305.6 L530.6,307.0 L531.5,308.2 L531.7,309.5 L531.3,310.9 L531.4,312.2 L532.0,313.5 L531.6,314.8 L532.4,316.1 L532.2,317.4 L531.8,318.8 L532.3,320.1 L532.6,321.4 L532.3,322.7 L532.4,324.0 L532.6,322.7 L532.2,321.3 L532.7,320.0 L533.0,318.7 L533.2,317.3 L533.6,316.0 L533.1,314.7 L533.2,313.3 L533.4,312.0 L533.8,310.7 L533.3,309.3 L533.8,308.0 L534.9,308.6 L534.9,310.0 L535.9,310.8 L536.0,309.5 L536.1,308.2 L535.7,306.9 L536.1,305.6 L536.2,304.3 L536.4,303.0 L536.1,301.7 L536.1,300.4 L535.9,299.1 L537.2,297.8 L536.6,296.5 L536.6,295.2 L536.3,293.9 L537.1,292.6 L536.8,291.3 L537.2,290.0 L536.9,291.3 L537.2,292.6 L537.2,293.9 L537.8,295.2 L537.7,296.5 L537.9,297.8 L538.3,299.1 L538.0,300.4 L538.2,301.7 L537.8,303.0 L539.0,304.2 L538.7,305.6 L538.9,306.9 L538.9,308.2 L538.8,309.5 L539.0,310.8 L539.2,309.6 L539.2,308.3 L539.6,307.1 L539.7,305.8 L539.2,304.5 L539.8,303.3 L539.6,302.0 L539.9,300.8 L540.4,299.6 L540.5,298.3 L540.7,297.1 L540.7,295.8 L541.1,297.1 L541.6,298.4 L541.4,299.8 L541.6,301.1 L541.5,302.5 L541.9,303.8 L542.6,305.0 L542.4,303.7 L542.4,302.5 L542.8,301.3 L543.4,300.0 L543.1,298.8 L542.3,297.5 L542.7,296.2 L542.7,295.0 L543.4,293.8 L543.3,292.5 L544.6,292.2 L545.9,291.9 L546.2,293.0 L546.3,294.3 L545.6,295.7 L546.2,296.9 L546.7,298.2 L547.2,299.4 L547.1,300.8 L547.4,302.0 L546.9,303.4 L547.0,304.7 L546.9,306.0 L547.3,307.3 L547.6,308.6 L547.8,309.9 L547.2,311.3 L548.0,312.5 L547.9,311.3 L548.0,310.0 L548.3,308.8 L548.1,307.5 L548.4,306.3 L548.6,305.0 L548.5,303.7 L548.5,302.5 L548.6,301.2 L548.5,300.0 L548.8,298.7 L549.0,297.5 L549.2,298.8 L549.1,300.2 L549.3,301.5 L550.0,302.7 L550.0,304.1 L550.3,305.4 L550.4,306.7 L550.8,308.0 L550.9,306.7 L550.8,305.4 L550.7,304.2 L551.3,302.9 L551.4,301.6 L551.3,300.3 L551.3,299.1 L551.3,297.8 L551.1,296.5 L550.8,295.2 L551.6,294.0 L551.5,292.7 L551.3,291.4 L551.2,290.1 L552.0,288.8 L551.0,287.5 L552.2,286.3 L551.8,285.0 L552.5,283.7 L551.6,282.3 L551.9,281.0 L551.7,279.7 L552.0,278.3 L551.9,277.0 L551.8,275.7 L552.5,274.3 L551.9,273.0 L552.1,271.7 L552.5,270.3 L552.2,269.0 L552.2,267.7 L552.6,266.3 L552.4,265.0 L553.0,263.6 L554.1,262.8 L555.0,261.7 L555.8,260.6 L555.0,259.2 L556.0,258.1 L555.6,256.8 L556.0,255.6 L556.2,254.4 L556.7,253.2 L557.1,252.1 L557.3,250.8 L557.5,252.1 L557.1,253.5 L557.5,254.8 L557.8,256.1 L558.7,257.3 L558.4,258.8 L559.0,260.0 L559.8,261.1 L560.8,262.0 L560.6,263.3 L560.5,264.6 L560.6,265.8 L561.1,267.1 L560.7,268.4 L560.6,269.7 L561.5,270.9 L560.7,272.2 L561.8,273.4 L561.2,274.7 L561.2,276.0 L561.0,277.3 L561.4,278.5 L561.7,279.8 L561.9,281.1 L562.1,282.3 L561.5,283.6 L561.9,284.9 L562.1,286.2 L561.7,287.5 L562.2,288.7 L562.1,290.0 L562.3,291.4 L561.9,292.9 L562.2,294.3 L562.8,295.6 L563.2,297.0 L563.2,295.7 L563.3,294.4 L563.5,293.2 L563.7,291.9 L563.6,290.6 L564.1,289.3 L564.1,288.0 L564.2,289.2 L564.6,290.4 L564.8,291.6 L564.7,292.9 L565.4,294.1 L565.4,295.3 L565.8,296.5 L566.2,297.7 L565.9,299.0 L566.3,297.7 L566.6,296.4 L567.1,295.2 L566.7,293.8 L567.4,292.6 L567.8,291.3 L568.1,290.0 L567.9,288.7 L568.7,287.5 L568.8,286.3 L569.4,285.1 L569.6,283.8 L569.7,282.5 L570.4,281.4 L570.0,280.0 L570.0,278.7 L570.1,277.4 L570.0,276.0 L570.5,274.8 L570.0,273.4 L570.7,272.2 L571.0,270.9 L571.3,269.6 L571.0,268.2 L571.7,267.0 L571.1,265.6 L571.4,264.3 L570.9,262.9 L571.6,261.7 L571.5,260.4 L572.4,259.2 L572.2,257.9 L571.7,256.6 L572.3,255.4 L572.4,254.1 L572.2,252.9 L572.4,251.6 L572.4,250.3 L572.4,249.1 L572.0,247.8 L572.7,246.6 L573.3,245.3 L573.5,244.1 L572.9,242.8 L572.8,241.5 L573.1,240.3 L573.4,239.0 L573.3,240.3 L573.7,241.5 L573.4,242.8 L573.7,244.0 L573.6,245.3 L574.0,246.6 L574.5,247.8 L574.0,249.1 L573.8,250.4 L574.6,251.6 L574.3,252.9 L574.0,254.2 L574.6,255.4 L574.8,256.7 L573.9,258.0 L574.4,259.2 L574.5,260.5 L575.2,261.7 L574.8,263.0 L574.6,261.7 L575.2,260.5 L575.9,259.3 L576.3,258.1 L575.7,256.7 L576.0,255.5 L576.5,254.3 L576.0,252.9 L577.1,251.8 L577.3,250.5 L577.1,249.2 L577.6,248.0 L577.9,249.4 L578.6,250.6 L579.2,251.8 L579.8,253.1 L580.0,251.7 L580.3,250.4 L580.2,249.1 L581.0,247.9 L580.6,246.6 L581.0,245.3 L581.1,244.0 L581.2,242.7 L581.9,241.5 L581.4,240.1 L582.1,238.9 L582.0,237.6 L582.3,236.3 L582.0,235.0 L582.4,236.5 L583.1,237.8 L584.1,239.0 L584.3,237.8 L584.3,236.5 L584.5,235.3 L585.2,234.1 L584.6,232.8 L584.5,231.5 L584.6,230.3 L585.3,229.1 L585.4,227.9 L585.8,226.7 L586.4,225.6 L587.3,224.6 L587.2,223.2 L587.6,222.0 L587.3,220.7 L587.8,219.4 L588.1,218.1 L588.2,216.8 L587.0,215.5 L588.1,214.2 L588.4,213.0 L588.2,211.7 L587.4,210.3 L587.9,209.1 L588.2,207.8 L588.2,206.5 L587.8,205.2 L587.8,203.9 L588.6,202.6 L587.8,201.3 L588.5,200.0 L588.4,198.7 L588.6,197.3 L588.1,195.9 L588.5,194.6 L589.0,193.3 L588.3,191.9 L589.7,190.6 L588.5,189.2 L588.7,187.9 L589.2,186.5 L589.5,185.2 L589.7,183.9 L589.4,182.5 L589.8,183.8 L590.1,185.1 L590.5,186.4 L591.3,187.6 L590.4,189.1 L591.0,190.4 L591.3,191.7 L591.2,190.4 L591.6,189.2 L591.7,187.9 L591.8,186.6 L592.3,185.4 L591.4,184.1 L592.2,182.9 L591.9,181.5 L592.3,180.3 L593.1,179.1 L592.2,177.8 L592.7,176.5 L592.7,175.2 L593.1,174.0 L594.2,175.2 L594.9,176.6 L594.6,178.0 L595.0,179.2 L595.1,180.5 L594.6,181.7 L595.4,182.9 L595.3,184.2 L595.2,185.5 L595.2,186.7 L595.6,188.0 L595.2,189.3 L594.8,190.5 L595.9,191.7 L595.5,193.0 L596.6,194.3 L595.4,195.7 L596.1,196.9 L596.0,198.3 L596.3,199.6 L596.4,200.9 L596.7,202.2 L596.5,203.5 L595.9,204.9 L596.1,206.2 L596.7,207.5 L596.8,208.8 L596.9,210.1 L597.2,211.4 L596.1,212.8 L596.6,214.1 L596.9,215.4 L597.1,216.7 L597.4,217.9 L596.6,219.2 L596.9,220.5 L597.6,221.7 L597.0,223.0 L597.8,224.2 L597.2,225.5 L597.6,226.7 L597.8,227.9 L597.6,229.2 L597.7,230.5 L597.7,231.8 L598.5,232.9 L597.7,234.3 L597.9,235.5 L598.6,236.7 L598.6,238.0 L599.6,238.8 L600.0,240.0 L600.6,241.2 L600.3,242.6 L600.4,243.9 L600.1,245.3 L600.4,246.5 L600.6,247.8 L601.1,249.1 L601.2,250.4 L601.3,251.7 L601.5,250.4 L600.8,249.0 L601.8,247.7 L601.1,246.3 L601.5,245.0 L601.8,243.7 L601.7,242.3 L602.6,241.1 L602.0,239.7 L602.7,238.4 L602.7,237.0 L602.1,235.7 L602.6,234.3 L602.7,233.0 L602.5,231.7 L602.7,230.3 L602.6,229.0 L602.9,227.7 L602.8,226.3 L603.1,225.0 L603.5,223.7 L603.8,222.4 L603.4,221.0 L603.5,219.7 L603.8,218.4 L603.5,217.0 L603.3,215.7 L604.2,214.4 L603.6,213.0 L604.1,211.7 L605.1,212.4 L604.5,213.9 L605.7,215.2 L605.2,216.6 L605.1,218.0 L606.2,219.2 L605.5,220.7 L606.5,221.9 L607.0,223.2 L606.3,224.7 L606.6,226.0 L607.1,227.2 L608.1,228.2 L607.7,229.6 L608.1,230.8 L608.4,232.0 L608.5,233.3 L609.2,234.6 L608.8,235.9 L608.1,237.3 L608.3,238.6 L609.1,239.9 L609.3,241.2 L609.0,242.5 L608.9,243.8 L609.1,245.1 L609.9,246.4 L609.5,247.8 L609.6,249.1 L609.3,250.4 L609.5,251.7 L609.9,253.0 L610.6,251.8 L610.1,250.5 L611.0,249.3 L610.4,248.0 L610.8,246.7 L611.1,245.5 L610.6,244.2 L610.8,242.9 L610.5,241.6 L611.4,240.5 L611.4,239.2 L611.5,237.9 L611.8,236.7 L612.4,235.5 L613.7,235.8 L613.8,237.1 L614.0,238.4 L613.7,239.8 L613.5,241.2 L614.4,242.4 L614.7,243.7 L614.7,245.1 L614.5,246.4 L614.5,247.7 L615.1,249.0 L614.5,250.4 L615.1,251.7 L615.0,253.0 L615.4,254.2 L615.7,255.5 L615.4,256.9 L616.5,258.0 L616.7,259.2 L616.8,260.5 L616.9,261.8 L617.7,263.0 L617.6,264.3 L618.1,265.6 L617.8,267.0 L617.7,268.4 L618.3,269.7 L618.5,271.0 L618.6,272.3 L619.6,273.6 L618.9,275.0 L618.9,276.3 L619.1,277.6 L619.4,278.9 L619.6,280.2 L619.5,281.6 L619.2,282.9 L619.7,284.2 L619.3,285.6 L620.6,286.8 L620.1,288.1 L620.0,289.5 L620.1,290.8 L620.7,292.1 L620.5,293.4 L620.1,294.8 L620.9,296.0 L620.9,297.3 L621.0,298.7 L620.9,300.0 L621.0,298.7 L621.1,297.4 L620.4,296.1 L621.4,294.8 L620.9,293.5 L620.9,292.2 L621.7,290.9 L621.2,289.6 L620.9,288.2 L621.1,286.9 L621.1,285.6 L621.1,284.3 L621.4,283.0 L621.8,281.8 L621.7,280.4 L621.2,279.1 L622.4,277.9 L621.4,276.5 L621.8,275.2 L621.9,273.9 L622.1,272.6 L621.8,271.3 L622.1,270.0 L622.8,268.7 L622.2,267.4 L621.8,266.0 L622.4,264.7 L622.1,263.4 L622.3,262.1 L622.5,260.8 L622.7,259.5 L622.5,258.2 L623.0,256.9 L622.7,255.5 L622.3,254.2 L623.2,252.9 L622.8,251.6 L623.5,250.3 L622.9,248.9 L623.4,247.6 L623.3,246.3 L623.0,245.0 L624.0,246.2 L624.0,247.5 L623.2,248.9 L624.5,250.1 L623.6,251.5 L623.7,252.7 L624.0,254.0 L624.1,255.3 L624.7,256.5 L624.6,257.8 L624.7,259.1 L624.7,260.4 L624.9,261.7 L625.2,260.4 L625.2,259.2 L625.5,257.9 L626.1,256.8 L625.6,255.4 L626.0,254.2 L626.6,253.0 L627.0,254.3 L626.9,255.6 L627.7,256.9 L627.1,258.3 L627.1,259.6 L626.8,260.9 L627.8,262.2 L627.3,263.6 L627.1,264.9 L627.2,266.2 L627.0,267.5 L627.1,268.9 L627.9,270.1 L627.4,271.5 L627.8,272.8 L628.0,274.1 L627.3,275.5 L628.1,276.8 L628.2,278.1 L628.1,279.4 L628.3,280.7 L627.8,282.1 L628.1,283.4 L627.8,284.7 L628.2,286.0 L628.2,284.7 L628.8,283.5 L628.4,282.2 L628.5,280.9 L628.7,279.7 L628.8,278.4 L629.3,277.2 L628.8,275.9 L629.2,274.6 L629.2,273.4 L628.9,272.1 L629.0,270.8 L629.4,269.6 L629.7,268.3 L629.8,267.1 L629.9,265.8 L629.8,264.5 L629.8,263.3 L630.1,262.0 L629.8,260.6 L629.9,259.2 L630.4,257.9 L630.2,256.5 L630.7,255.2 L630.7,253.9 L631.0,252.5 L631.3,251.2 L631.2,249.8 L631.6,248.5 L632.4,249.7 L631.8,251.0 L632.3,252.3 L631.9,253.6 L633.0,254.8 L632.6,256.1 L632.3,257.4 L633.3,258.6 L632.7,259.9 L632.6,261.1 L632.7,262.4 L633.4,263.6 L632.8,264.9 L633.0,266.2 L633.4,267.4 L633.0,268.8 L633.3,270.0 L634.2,269.0 L635.0,268.0 L634.9,269.3 L635.1,270.5 L634.8,271.8 L635.1,273.0 L635.6,274.2 L635.5,275.5 L635.2,276.7 L635.7,278.0 L635.5,279.2 L635.6,280.5 L635.8,281.7 L636.6,283.0 L635.9,284.4 L636.0,285.7 L636.1,287.0 L636.4,288.3 L635.9,289.7 L636.4,291.0 L636.6,292.3 L636.7,293.7 L636.4,295.0 L636.9,296.3 L637.0,297.7 L636.2,299.0 L636.5,300.4 L636.6,301.7 L636.8,303.0 L637.5,304.3 L638.7,305.2 L638.9,306.8 L638.7,308.0 L639.0,309.3 L639.7,310.6 L639.0,311.9 L639.0,313.2 L639.6,314.5 L639.5,315.8 L639.4,317.1 L639.7,318.3 L639.4,319.7 L639.8,320.9 L639.7,322.2 L639.9,323.5 L640.4,324.8 L640.3,326.1 L639.6,327.4 L640.2,328.7 L640.2,330.0 L640.6,328.7 L640.8,327.4 L640.6,326.1 L640.4,324.8 L640.6,323.6 L640.2,322.3 L640.7,321.0 L641.1,319.7 L640.3,318.4 L641.0,317.1 L641.2,315.9 L641.4,314.6 L640.9,313.3 L641.1,312.0 L640.8,310.7 L641.1,309.4 L641.6,308.2 L642.1,306.9 L641.2,305.6 L642.0,304.3 L641.7,303.0 L641.7,301.7 L642.7,300.4 L641.5,299.0 L642.3,297.7 L642.6,296.4 L643.3,295.1 L643.4,293.8 L643.7,292.5 L643.2,291.1 L643.6,289.8 L643.9,288.5 L643.8,287.2 L643.9,285.8 L644.0,284.5 L644.2,285.8 L644.6,287.1 L643.7,288.5 L644.5,289.7 L645.1,291.0 L644.5,292.3 L644.7,293.6 L644.7,294.9 L644.4,296.3 L645.0,297.6 L645.2,298.9 L645.4,300.2 L645.3,301.5 L645.5,302.8 L645.4,304.1 L645.0,305.4 L645.6,306.7 L645.9,308.0 L646.6,306.9 L646.6,305.6 L646.9,304.3 L647.1,303.0 L647.4,301.8 L647.6,300.5 L647.2,301.8 L647.5,303.1 L647.5,304.4 L648.1,305.7 L648.1,307.0 L648.4,308.2 L648.1,309.6 L648.3,310.9 L648.7,312.1 L648.6,313.4 L648.3,314.8 L648.9,316.0 L649.6,317.2 L649.7,318.6 L649.8,319.9 L650.3,321.1 L650.5,322.5 L650.7,323.8 L651.3,325.0 L651.3,323.8 L652.0,322.7 L652.1,321.4 L652.5,320.3 L652.6,319.0 L652.7,317.8 L653.2,316.7 L653.3,315.4 L653.3,314.2 L653.1,312.9 L654.2,311.7 L653.7,310.4 L654.0,309.2 L654.4,308.0 L653.8,306.6 L654.9,305.5 L654.5,304.2 L655.0,303.0 L654.9,301.7 L655.8,302.5 L656.6,303.3 L657.5,304.0 L657.1,302.6 L657.3,301.3 L657.8,300.0 L658.4,298.7 L657.9,297.3 L658.3,296.0 L658.4,294.7 L658.6,293.4 L658.8,292.0 L658.2,290.7 L658.9,289.4 L658.8,288.0 L659.0,286.7 L659.0,285.4 L659.3,284.2 L659.4,282.9 L659.7,281.7 L661.0,280.6 L661.1,279.4 L660.8,278.0 L662.2,278.0 L663.5,277.4 L664.4,278.7 L664.5,280.0 L664.0,281.4 L663.8,282.8 L664.5,284.1 L664.9,285.3 L664.9,286.7 L665.1,288.0 L665.5,289.3 L665.2,290.6 L665.3,291.8 L665.4,293.1 L665.5,294.4 L665.6,295.7 L665.3,296.9 L665.0,298.2 L665.5,299.5 L664.8,300.8 L666.0,302.0 L665.5,303.3 L666.0,304.6 L665.7,305.9 L665.7,307.2 L665.6,308.5 L665.5,309.7 L666.0,311.0 L666.2,312.3 L666.0,313.6 L665.9,314.8 L666.2,316.1 L665.9,317.4 L665.7,318.7 L666.6,319.9 L666.2,321.2 L666.2,322.5 L665.9,321.2 L666.5,320.0 L666.5,318.7 L666.3,317.4 L667.0,316.2 L666.8,314.9 L666.7,313.6 L667.1,312.3 L667.2,311.1 L667.3,309.8 L667.3,308.5 L667.4,307.3 L667.0,306.0 L667.3,304.7 L667.6,303.4 L667.0,302.1 L668.3,300.9 L667.6,299.6 L667.5,298.3 L667.4,297.0 L668.0,295.8 L668.1,297.1 L668.5,298.4 L668.6,299.8 L668.9,301.1 L669.0,302.4 L669.0,303.7 L669.3,305.0 L669.0,306.4 L669.4,307.7 L669.5,309.0 L669.6,310.4 L669.5,311.7 L669.9,313.0 L670.2,314.3 L670.5,315.5 L670.8,316.7 L670.9,318.0 L670.9,319.3 L671.2,320.5 L671.6,321.7 L671.8,323.0 L671.4,321.7 L672.0,320.4 L672.3,319.1 L672.3,317.8 L671.9,316.4 L672.4,315.2 L672.6,313.9 L672.4,312.5 L672.9,311.3 L672.8,309.9 L672.8,308.6 L672.8,307.3 L673.5,306.0 L673.4,304.7 L673.2,303.4 L673.3,302.1 L673.8,300.8 L673.8,302.2 L674.4,303.4 L674.2,304.8 L675.0,306.0 L675.5,307.3 L675.2,308.8 L675.8,310.0 L676.1,311.4 L676.6,312.7 L677.3,313.9 L677.7,315.3 L677.8,316.7 L678.2,315.4 L677.7,314.1 L678.4,312.9 L678.1,311.6 L677.9,310.2 L678.3,309.0 L678.5,307.7 L678.1,306.4 L677.8,305.1 L678.6,303.8 L678.3,302.5 L678.8,301.3 L678.2,299.9 L678.8,298.7 L678.6,297.4 L678.5,296.1 L678.9,294.8 L679.1,293.5 L679.0,292.2 L678.9,290.9 L679.4,289.7 L678.8,288.3 L679.6,287.1 L679.6,285.8 L679.4,287.2 L680.0,288.3 L680.5,289.4 L680.9,290.6 L681.3,291.8 L681.9,293.0 L681.4,294.4 L681.8,295.7 L682.2,297.0 L682.6,298.3 L682.0,299.7 L682.4,301.0 L683.0,302.3 L682.7,303.7 L682.8,305.0 L683.1,303.7 L683.3,302.3 L683.1,301.0 L683.2,299.7 L683.7,298.4 L684.2,297.0 L683.6,295.7 L683.6,294.3 L684.0,293.0 L683.7,291.7 L684.1,290.3 L684.1,289.0 L684.5,290.3 L684.7,291.6 L684.6,293.0 L684.6,294.4 L684.9,295.7 L684.8,297.1 L685.8,298.3 L685.5,299.7 L685.9,301.0 L686.1,299.7 L686.4,298.4 L686.2,297.0 L686.7,295.7 L686.7,294.3 L687.3,293.0 L687.4,291.7 L687.7,293.0 L687.6,294.3 L688.0,295.5 L687.6,296.8 L688.2,298.1 L687.9,299.4 L688.1,300.6 L688.6,301.9 L688.5,303.2 L688.7,304.4 L688.7,305.7 L688.8,307.0 L688.3,308.3 L689.0,309.5 L688.8,310.8 L689.2,309.5 L688.7,308.2 L688.5,306.9 L689.3,305.6 L688.6,304.3 L689.4,303.0 L689.5,301.7 L689.4,300.4 L689.2,299.0 L689.2,297.7 L689.4,296.4 L689.3,295.1 L689.2,293.8 L689.3,292.5 L689.8,291.2 L689.3,289.9 L689.6,288.6 L689.2,287.3 L689.4,286.0 L689.2,284.7 L689.6,283.4 L689.9,282.1 L689.8,280.8 L689.6,279.4 L690.0,278.1 L689.7,276.8 L690.0,275.5 L690.0,274.2 L690.1,272.9 L689.2,271.6 L689.5,270.3 L690.1,269.0 L690.2,270.2 L689.6,271.6 L690.6,272.7 L690.9,273.9 L690.5,275.2 L691.0,276.4 L690.7,277.7 L691.3,278.8 L691.7,280.0 L691.6,281.3 L692.2,282.6 L692.2,283.9 L692.4,285.2 L692.4,286.5 L692.2,287.8 L692.8,289.1 L692.6,290.4 L693.0,291.7 L692.9,293.0 L692.5,291.6 L693.4,290.4 L693.7,289.2 L693.5,287.8 L694.4,286.6 L694.4,285.3 L694.7,284.0 L694.8,285.1 L695.4,286.1 L696.2,287.0 L696.8,287.9 L696.8,286.7 L696.8,285.3 L697.1,284.0 L697.0,282.7 L698.0,281.5 L696.9,280.0 L697.9,278.8 L697.5,277.4 L697.7,276.1 L698.2,274.8 L698.1,273.4 L697.8,272.1 L698.4,270.8 L699.4,270.8 L700.5,270.7 L700.7,269.8 L700.5,268.5 L700.7,267.3 L701.3,266.1 L701.4,264.9 L701.4,263.7 L702.4,262.5 L702.0,261.2 L701.9,260.0 L702.3,258.7 L702.4,257.3 L701.8,255.9 L702.2,254.6 L702.5,253.3 L703.9,252.1 L703.3,250.7 L703.5,249.3 L703.6,248.0 L704.1,246.7 L704.2,248.0 L703.8,249.3 L704.3,250.5 L704.2,251.8 L705.0,253.0 L705.1,254.3 L705.6,255.5 L705.7,256.7 L706.0,258.0 L706.5,257.1 L707.4,256.4 L707.9,257.7 L707.4,259.1 L708.0,260.3 L707.8,261.7 L708.1,262.9 L708.3,264.2 L708.5,265.5 L709.1,266.7 L709.2,268.0 L710.0,269.1 L710.5,270.3 L710.4,271.7 L710.6,273.0 L711.8,274.0 L712.4,272.8 L712.2,271.6 L711.8,270.3 L712.3,269.1 L712.5,267.9 L712.6,266.7 L712.7,268.0 L713.2,269.3 L712.8,270.7 L712.7,272.0 L712.8,273.4 L713.0,274.7 L712.9,276.0 L713.7,277.3 L713.6,278.7 L713.5,280.0 L713.5,281.4 L713.8,282.7 L713.9,284.0 L714.1,282.7 L714.8,281.5 L713.6,280.2 L714.3,278.9 L715.2,277.7 L714.6,276.4 L714.0,275.1 L714.7,273.9 L714.3,272.6 L714.6,271.3 L715.0,270.1 L715.6,268.8 L715.3,267.5 L715.4,266.3 L715.4,265.0 L715.7,266.2 L716.5,267.2 L716.7,268.5 L717.0,269.7 L717.5,270.8 L717.4,269.5 L717.7,268.2 L717.4,266.9 L717.7,265.6 L718.2,264.4 L718.3,263.1 L718.6,261.8 L719.2,260.6 L719.0,259.3 L719.0,258.0 L719.6,259.3 L719.7,260.6 L719.4,262.0 L720.0,263.2 L719.7,264.6 L720.3,265.9 L720.1,267.2 L720.3,268.5 L720.1,269.9 L720.8,271.2 L720.8,272.5 L721.1,271.2 L721.3,269.9 L722.0,268.7 L721.6,267.3 L721.7,266.0 L722.0,264.8 L722.5,263.5 L722.7,262.2 L723.0,261.0 L722.5,259.6 L724.1,258.5 L724.1,257.2 L723.7,255.8 L724.4,256.9 L724.3,258.2 L724.5,259.4 L725.7,260.3 L725.3,261.7 L726.0,263.0 L725.5,264.4 L725.3,265.8 L725.6,267.1 L726.7,268.3 L725.9,269.7 L726.2,271.0 L726.8,272.3 L726.7,273.7 L726.8,275.0 L727.2,276.3 L727.3,277.7 L727.6,279.0 L727.1,280.4 L728.3,281.7 L727.3,283.1 L728.2,284.4 L727.9,285.8 L727.7,284.5 L728.0,283.2 L728.3,282.0 L728.9,280.7 L728.3,279.4 L729.2,278.2 L729.0,276.9 L729.7,275.7 L729.4,274.3 L729.8,273.1 L729.8,271.8 L730.6,270.6 L730.0,269.2 L730.3,268.0 L730.8,266.7 L730.6,268.0 L730.6,269.2 L731.2,270.4 L731.1,271.7 L732.1,272.9 L731.5,274.2 L731.9,275.5 L732.3,276.7 L732.2,278.0 L731.9,279.3 L732.4,280.5 L733.2,281.7 L732.4,283.1 L733.5,284.2 L733.6,285.5 L733.7,286.8 L734.1,288.0 L733.8,286.7 L734.4,285.5 L735.3,284.5 L735.5,283.3 L735.0,281.9 L735.9,280.8 L735.9,282.1 L735.8,283.5 L736.0,284.8 L735.9,286.1 L736.5,287.4 L736.5,288.7 L736.5,290.1 L736.5,291.4 L736.2,292.7 L736.9,294.0 L736.1,295.4 L736.8,296.7 L736.8,298.0 L736.6,299.3 L736.8,300.5 L737.1,301.7 L737.5,303.0 L737.6,304.2 L737.8,305.4 L737.2,306.7 L737.4,308.0 L737.3,309.3 L737.7,310.5 L738.0,311.7 L738.4,310.5 L738.7,309.2 L738.5,307.9 L738.9,306.6 L739.6,305.4 L738.7,304.0 L739.0,302.7 L739.3,301.5 L740.0,300.3 L740.1,299.0 L740.3,297.7 L740.9,296.5 L741.1,295.1 L741.5,293.9 L741.6,292.5 L742.1,291.3 L742.5,290.0 L743.0,288.8 L743.5,287.5 L742.4,286.1 L743.3,284.9 L743.2,283.6 L743.7,282.4 L743.9,281.1 L743.9,279.8 L744.1,278.5 L743.7,277.2 L743.6,275.9 L744.8,274.7 L744.8,273.4 L744.2,272.0 L744.9,270.8 L744.7,272.2 L746.0,273.4 L745.2,275.0 L746.1,276.2 L745.7,277.7 L746.4,279.0 L746.3,277.6 L746.2,276.3 L746.8,275.0 L747.4,273.8 L747.1,272.4 L746.9,271.0 L748.4,269.9 L748.5,268.5 L748.3,267.2 L748.2,265.8 L748.0,264.5 L748.0,263.2 L748.9,262.0 L749.3,260.7 L748.6,259.4 L749.1,258.1 L749.1,256.8 L749.2,255.5 L749.6,254.3 L750.3,253.1 L749.6,251.7 L750.3,250.4 L750.7,249.1 L750.6,247.7 L750.9,246.3 L751.1,245.0 L751.1,246.4 L751.9,247.6 L752.1,248.9 L752.1,250.2 L752.6,251.5 L752.9,252.7 L752.8,254.1 L752.4,255.5 L753.2,256.7 L753.2,258.0 L754.0,259.2 L754.3,260.5 L753.1,262.0 L754.0,263.2 L754.6,264.4 L754.2,265.8 L754.1,267.1 L755.1,268.3 L754.9,269.7 L754.7,271.0 L755.3,272.3 L754.8,273.6 L754.9,274.9 L755.3,276.2 L755.7,277.5 L755.7,278.8 L756.1,280.1 L756.0,281.4 L756.0,282.7 L756.3,284.0 L756.7,282.7 L757.2,281.4 L756.4,280.1 L756.7,278.8 L757.0,277.5 L757.0,276.2 L756.8,274.9 L756.8,273.6 L757.4,272.3 L757.3,271.0 L757.4,269.7 L757.0,268.4 L757.6,267.1 L757.7,265.8 L757.4,264.5 L757.8,263.2 L758.4,261.9 L757.1,260.6 L758.1,259.3 L757.5,258.0 L757.8,256.7 L758.2,258.0 L758.1,259.3 L758.4,260.5 L759.0,261.8 L759.3,263.0 L759.1,264.4 L759.1,265.7 L759.5,266.9 L759.9,268.2 L759.0,269.6 L759.8,270.8 L759.8,269.5 L759.9,268.2 L760.0,266.8 L760.4,265.6 L760.5,264.2 L761.0,263.0 L760.5,261.6 L760.6,260.2 L761.6,259.0 L761.6,260.2 L761.6,261.5 L761.8,262.7 L762.3,263.9 L762.7,265.1 L763.5,266.2 L763.5,267.4 L763.1,268.8 L763.3,270.1 L763.5,271.4 L764.4,272.6 L764.6,273.9 L764.4,275.2 L764.6,276.5 L764.3,277.8 L764.8,279.1 L764.1,280.5 L764.8,281.7 L765.1,282.9 L764.9,284.1 L765.3,285.3 L765.9,286.4 L765.6,287.7 L765.5,288.9 L766.4,290.0 L766.4,288.7 L766.3,287.5 L766.1,286.2 L767.1,285.0 L767.3,283.8 L767.5,282.5 L767.5,281.3 L767.2,280.0 L767.6,278.7 L767.6,277.3 L767.6,276.0 L767.7,274.6 L768.5,273.4 L768.3,272.0 L769.2,270.8 L768.9,269.4 L768.2,268.0 L769.1,266.7 L768.8,268.1 L769.4,269.4 L770.0,270.6 L769.2,272.1 L770.5,273.3 L770.3,274.7 L771.1,275.9 L771.1,277.3 L771.4,278.6 L770.7,280.1 L770.9,281.4 L771.6,282.6 L771.9,284.0 L771.8,282.7 L772.1,281.3 L771.6,280.0 L771.9,278.6 L772.3,277.3 L772.7,276.0 L772.7,274.7 L772.9,273.3 L772.5,272.0 L772.3,270.6 L773.3,269.3 L773.0,268.0 L773.4,266.7 L773.4,265.3 L773.8,264.0 L774.1,265.3 L773.5,266.7 L774.1,268.0 L774.1,269.4 L774.2,270.7 L774.2,272.0 L774.5,273.3 L775.3,274.6 L775.1,276.0 L774.4,277.4 L775.0,278.7 L775.2,280.0 L775.6,278.7 L775.4,277.3 L775.5,276.0 L775.6,274.7 L776.4,273.4 L776.3,272.0 L776.9,270.8 L776.6,269.4 L777.2,268.1 L776.8,266.7 L776.3,265.3 L777.4,264.1 L777.0,262.7 L777.4,261.4 L777.1,260.0 L776.9,258.7 L777.2,257.4 L776.7,256.0 L776.8,254.7 L776.9,253.3 L777.1,252.0 L776.9,250.6 L777.4,249.3 L777.5,248.0 L779.0,248.0 L779.8,246.9 L779.9,245.4 L780.4,244.3 L780.2,242.9 L780.6,241.7 L780.7,240.4 L780.7,239.2 L781.1,238.0 L781.1,236.7 L781.5,235.4 L781.3,234.1 L781.0,232.8 L781.3,231.5 L781.7,230.2 L781.2,228.9 L781.7,227.6 L781.8,226.3 L782.2,225.0 L781.2,223.6 L781.6,222.3 L781.9,221.1 L782.3,219.8 L781.8,218.4 L782.1,217.1 L781.3,215.8 L781.6,214.5 L782.5,213.2 L781.8,211.9 L782.7,210.6 L781.7,209.3 L782.0,208.0 L783.1,206.5 L783.6,205.4 L783.6,204.0 L784.3,202.8 L783.7,201.4 L783.7,200.0 L783.3,198.7 L783.9,197.4 L784.4,196.1 L784.4,194.7 L784.7,193.4 L784.7,192.1 L784.4,190.7 L784.7,189.4 L784.7,188.0 L784.5,186.7 L785.7,185.6 L785.6,184.3 L785.6,183.0 L786.5,181.7 L787.0,180.4 L787.6,179.1 L787.1,180.3 L788.6,181.5 L787.7,182.8 L787.5,184.2 L788.5,185.3 L789.0,186.6 L788.4,187.9 L788.5,189.2 L788.6,190.5 L789.3,191.7 L789.1,193.0 L789.2,194.3 L789.2,195.5 L789.0,196.9 L789.9,198.0 L790.5,199.2 L791.4,200.3 L790.6,201.7 L791.1,202.9 L791.3,204.1 L791.9,205.2 L791.5,206.5 L792.7,207.5 L792.2,208.8 L792.5,210.0 L792.7,208.7 L793.3,207.5 L792.9,206.1 L793.1,204.8 L793.5,203.6 L792.7,202.2 L793.3,201.0 L793.6,199.7 L794.1,198.4 L793.6,197.1 L794.1,195.8 L795.0,195.5 L795.7,194.8 L796.6,196.2 L796.8,197.4 L796.4,198.8 L796.6,200.0 L796.6,201.3 L796.8,202.6 L797.5,203.7 L797.3,205.0 L797.9,203.7 L797.9,202.4 L798.0,201.1 L797.4,199.7 L798.2,198.5 L797.8,197.1 L797.8,195.8 L798.2,194.5 L798.5,193.2 L798.6,191.9 L798.6,190.6 L798.4,189.3 L799.0,188.0 L798.9,186.7 L798.8,185.2 L799.8,184.0 L800.6,182.8 L800.3,181.3 L800.6,180.0 L801.1,181.3 L801.7,182.4 L803.0,183.0 L803.2,184.3 L803.1,185.6 L802.4,187.0 L803.3,188.2 L803.0,189.6 L803.3,190.9 L804.2,192.1 L804.0,193.4 L804.2,194.7 L803.6,196.1 L803.8,197.4 L803.2,198.7 L804.0,200.0 L804.1,201.4 L804.4,202.7 L804.6,204.1 L804.1,205.5 L805.0,206.8 L804.8,208.2 L805.1,209.5 L805.9,210.8 L806.2,209.6 L806.0,208.2 L806.3,207.0 L806.5,205.7 L806.6,204.4 L806.6,203.1 L807.5,202.0 L807.0,200.6 L807.5,199.4 L808.0,198.2 L807.8,196.8 L808.1,195.6 L808.4,194.3 L808.2,193.0 L807.4,194.3 L808.6,195.6 L807.4,197.0 L808.1,198.2 L808.8,199.5 L808.4,200.9 L808.8,202.2 L808.3,203.5 L808.9,204.8 L808.7,206.1 L808.2,207.4 L808.3,208.7 L808.7,210.0 L808.5,211.4 L808.5,212.7 L808.5,214.0 L808.5,215.3 L808.7,216.6 L808.3,217.9 L809.2,219.2 L808.9,220.5 L808.7,221.9 L808.9,223.2 L809.0,224.5 L808.9,225.8 L809.0,224.5 L809.6,223.3 L809.2,221.9 L809.3,220.7 L809.7,219.4 L809.6,218.1 L809.2,216.7 L810.1,215.6 L810.0,214.2 L810.1,213.0 L810.6,211.7 L810.6,210.4 L810.5,209.1 L809.9,207.7 L810.2,206.4 L811.0,205.2 L811.0,203.9 L811.3,202.6 L811.3,201.3 L811.1,199.9 L810.9,198.6 L811.1,197.3 L811.5,196.0 L811.2,194.7 L812.1,193.5 L811.4,192.1 L811.3,190.8 L812.0,189.5 L811.5,188.2 L812.8,187.0 L811.9,185.6 L812.4,184.3 L812.5,183.0 L812.9,184.3 L813.4,185.6 L813.6,186.9 L812.6,188.3 L812.7,189.6 L812.4,190.9 L813.9,192.1 L813.2,193.5 L813.5,194.8 L813.3,196.1 L814.0,197.4 L813.6,198.7 L813.9,200.0 L813.9,201.3 L813.8,202.6 L814.5,203.7 L814.0,205.1 L815.0,206.2 L814.3,207.6 L815.9,208.7 L815.2,210.0 L815.7,211.2 L815.5,212.5 L815.3,213.8 L815.7,215.0 L816.0,213.7 L816.7,212.4 L815.7,211.0 L816.0,209.7 L817.1,208.5 L816.7,207.1 L816.0,205.7 L817.0,204.5 L816.6,203.1 L817.7,201.9 L817.7,200.6 L817.2,199.2 L818.1,198.0 L817.4,196.6 L818.2,195.3 L818.1,194.0 L818.2,195.3 L818.8,196.6 L818.5,198.0 L819.4,199.3 L818.9,200.6 L819.5,201.9 L818.5,203.4 L819.4,204.6 L820.0,205.9 L819.1,207.4 L819.3,208.7 L819.8,210.0 L818.9,211.4 L819.6,212.7 L820.0,214.0 L819.9,212.7 L819.5,211.4 L820.6,210.3 L821.0,209.0 L820.6,207.7 L820.4,206.4 L821.1,205.2 L820.6,203.9 L821.4,202.8 L821.9,201.5 L822.3,200.3 L822.0,199.0 L822.1,197.8 L822.5,196.5 L822.9,195.3 L822.5,194.0 L823.2,195.2 L823.2,196.5 L823.6,197.8 L823.7,199.1 L823.6,200.4 L823.7,201.7 L824.0,203.0 L824.2,201.8 L824.2,200.5 L824.6,199.3 L824.9,198.0 L825.0,196.8 L825.5,195.6 L824.9,194.2 L825.1,193.0 L826.0,191.8 L825.6,190.5 L825.8,189.3 L825.7,188.0 L826.2,186.8 L825.8,185.4 L825.7,184.2 L826.1,182.9 L826.0,181.6 L826.6,180.4 L826.2,179.1 L826.5,177.8 L826.5,176.5 L826.7,175.3 L826.6,174.0 L826.8,175.5 L828.3,176.5 L828.4,178.0 L830.0,177.4 L829.8,178.8 L830.0,180.1 L829.9,181.4 L830.2,182.6 L830.4,183.9 L830.6,185.2 L830.3,186.5 L830.4,187.8 L830.1,189.1 L830.1,190.4 L829.9,191.7 L830.3,193.0 L830.6,194.2 L830.7,195.5 L830.3,196.8 L830.3,198.1 L829.7,199.4 L830.4,200.7 L829.8,202.0 L829.8,203.3 L830.9,204.5 L830.1,205.8 L830.1,207.1 L830.1,208.4 L830.6,209.7 L830.3,211.0 L830.8,212.3 L830.7,213.6 L830.7,214.8 L830.0,216.1 L830.8,217.4 L830.4,218.7 L830.8,220.0 L831.2,221.3 L830.9,222.6 L830.9,223.9 L831.5,225.2 L831.2,226.5 L831.8,227.8 L832.0,229.1 L831.7,230.4 L832.0,231.7 L832.1,233.0 L832.2,231.7 L833.3,231.0 L834.0,230.0 L834.8,231.3 L835.1,232.7 L836.0,233.9 L836.1,232.8 L836.4,231.6 L836.5,230.4 L836.4,229.1 L836.8,227.9 L837.0,226.7 L836.7,228.1 L837.2,229.4 L837.3,230.7 L837.8,232.0 L837.3,233.4 L837.3,234.7 L838.1,236.0 L837.8,237.4 L838.1,238.7 L838.3,240.0 L839.4,239.0 L840.9,239.2 L841.8,240.1 L841.3,241.6 L841.8,242.8 L841.5,244.2 L842.4,245.4 L842.5,246.7 L842.4,248.0 L842.5,249.3 L842.9,250.5 L842.6,251.8 L842.8,253.1 L842.6,254.4 L843.3,255.6 L843.2,256.9 L843.4,258.2 L843.6,259.4 L843.3,260.7 L843.4,262.0 L843.2,263.3 L844.0,264.4 L843.9,265.7 L843.8,266.9 L844.5,268.1 L844.6,269.3 L844.8,270.5 L845.1,271.7 L844.8,270.4 L845.7,269.1 L845.6,267.8 L845.6,266.5 L845.4,265.1 L846.0,263.9 L846.6,262.7 L845.9,261.2 L846.4,260.0 L847.1,258.7 L847.4,257.3 L847.7,255.9 L847.1,254.4 L847.6,253.0 L847.4,251.7 L848.1,250.6 L848.0,249.3 L848.4,248.1 L849.0,247.0 L848.8,245.7 L848.8,244.4 L849.1,243.2 L849.4,242.0 L849.4,240.8 L849.6,242.2 L849.7,243.5 L849.5,245.0 L851.1,246.1 L850.9,247.5 L851.2,248.9 L850.6,250.3 L850.3,251.8 L851.3,253.0 L851.4,254.2 L851.1,255.5 L852.5,256.6 L851.9,257.9 L852.8,259.0 L852.0,260.3 L852.4,261.5 L852.5,262.8 L852.5,264.0 L852.3,262.7 L852.9,261.4 L852.5,260.1 L852.7,258.8 L853.4,257.5 L852.4,256.2 L852.9,255.0 L852.3,253.7 L853.1,252.4 L853.0,251.1 L852.7,249.8 L853.0,248.5 L853.3,247.2 L853.2,245.9 L852.7,244.6 L852.7,243.3 L853.1,242.0 L852.2,240.7 L852.5,239.4 L852.9,238.2 L853.0,236.9 L853.5,235.6 L853.4,234.3 L852.9,233.0 L852.9,231.7 L852.4,230.4 L852.9,229.1 L853.2,227.9 L853.1,226.6 L853.3,225.3 L853.6,224.0 L853.1,222.7 L853.3,221.4 L853.0,220.1 L854.2,218.9 L853.4,217.5 L853.3,216.2 L854.1,215.0 L854.1,213.7 L854.7,212.4 L854.4,211.0 L855.5,209.8 L855.2,208.4 L855.1,207.0 L855.3,205.7 L855.4,204.3 L855.9,203.1 L856.1,201.7 L855.9,200.4 L855.8,199.1 L856.7,198.0 L857.0,196.8 L856.3,195.4 L856.8,194.2 L856.9,192.9 L857.6,191.7 L857.4,193.0 L858.0,194.3 L858.2,195.7 L857.6,197.1 L858.8,198.3 L857.9,199.7 L858.3,201.0 L857.6,202.4 L858.0,203.7 L858.7,205.0 L858.7,206.4 L858.8,207.7 L859.1,209.0 L858.9,210.4 L858.9,211.7 L858.6,210.3 L859.3,209.0 L860.1,207.8 L860.0,206.4 L859.7,205.0 L859.9,203.7 L860.0,202.4 L859.9,201.0 L861.2,199.8 L860.9,198.5 L860.8,197.1 L861.1,195.8 L861.6,197.1 L861.9,198.5 L861.2,200.0 L862.2,201.2 L862.2,202.6 L862.0,204.0 L862.4,205.3 L862.9,206.6 L863.3,208.0 L862.7,209.4 L863.2,210.7 L863.7,212.0 L863.8,213.3 L864.3,214.6 L864.5,216.0 L864.9,217.3 L864.3,218.7 L864.6,220.0 L865.5,220.9 L866.2,221.8 L866.6,220.4 L866.5,219.1 L866.2,217.8 L866.9,216.6 L867.2,215.3 L867.1,214.0 L867.4,212.7 L866.9,211.4 L866.8,210.1 L867.7,208.9 L867.1,207.6 L867.5,206.3 L867.5,205.0 L867.9,206.3 L868.4,207.6 L868.9,208.9 L869.8,210.1 L868.9,211.9 L870.0,213.0 L869.4,211.6 L869.8,210.3 L869.8,209.0 L870.0,207.7 L869.5,206.3 L870.6,205.0 L871.1,203.7 L870.5,202.3 L870.9,201.0 L870.9,199.7 L870.3,198.3 L871.3,197.0 L870.3,195.6 L870.8,194.3 L870.9,193.0 L871.6,191.7 L871.3,190.3 L871.3,189.0 L871.8,190.3 L871.7,191.6 L872.0,192.9 L871.9,194.3 L871.9,195.6 L872.4,196.9 L872.8,198.2 L873.1,199.5 L873.1,200.8 L873.3,202.1 L873.4,203.4 L872.8,204.7 L873.0,206.0 L873.4,207.2 L873.7,208.5 L873.9,209.8 L873.4,211.1 L874.0,212.4 L873.5,213.7 L874.2,214.9 L874.0,216.3 L873.9,217.5 L874.1,218.8 L874.1,220.1 L874.1,221.4 L874.7,222.7 L874.8,224.0 L874.5,225.3 L873.8,226.6 L874.6,227.8 L874.9,229.1 L874.9,230.4 L874.7,231.7 L874.6,233.0 L875.5,234.0 L875.4,235.3 L875.8,236.5 L876.3,237.6 L876.8,238.7 L876.7,240.0 L877.2,241.3 L877.0,242.7 L878.1,243.9 L877.4,245.4 L877.8,246.7 L878.2,248.0 L879.5,247.8 L880.1,246.8 L880.8,247.9 L880.4,249.2 L880.4,250.5 L881.0,251.7 L881.4,252.9 L881.0,254.3 L881.1,255.5 L881.7,256.7 L881.7,258.0 L882.1,259.2 L882.4,260.4 L882.4,261.7 L882.2,263.0 L883.4,264.1 L883.2,265.4 L883.1,266.7 L883.3,268.0 L883.4,269.3 L883.2,270.6 L883.9,271.9 L884.0,273.2 L884.2,274.5 L884.2,275.8 L883.7,277.2 L883.6,278.5 L884.1,279.8 L884.2,281.1 L883.9,282.4 L883.9,283.7 L884.2,285.0 L884.8,286.3 L884.4,287.5 L885.0,288.8 L884.3,290.1 L884.6,291.4 L884.6,292.6 L884.0,293.9 L884.1,295.2 L884.4,296.5 L884.5,297.7 L884.5,299.0 L884.8,300.3 L884.7,301.5 L884.2,302.8 L885.0,304.1 L885.0,305.4 L884.8,306.6 L884.6,307.9 L884.7,309.2 L885.2,310.4 L885.0,311.7 L885.0,313.0 L884.9,311.7 L885.5,310.4 L885.6,309.1 L886.2,307.9 L886.3,306.6 L886.2,305.2 L886.7,304.0 L888.3,304.0 L888.8,305.2 L889.0,306.5 L888.9,307.9 L889.5,309.1 L890.2,310.3 L890.1,311.7 L889.9,313.0 L889.7,314.3 L890.7,315.4 L890.7,316.7 L890.8,318.0 L891.2,319.2 L890.9,320.5 L891.2,321.7 L891.3,323.0 L892.2,321.9 L891.9,320.5 L892.5,319.3 L892.9,318.0 L892.9,316.7 L894.2,315.9 L893.9,317.3 L894.3,318.5 L894.6,319.7 L895.0,320.9 L894.7,322.1 L894.9,323.4 L894.6,324.6 L895.2,325.8 L895.5,327.1 L896.0,328.2 L896.4,329.4 L896.9,330.6 L897.1,331.8 L897.5,333.0 L897.6,334.3 L897.8,335.5 L898.3,336.7 L898.8,337.9 L898.8,339.3 L898.9,340.5 L899.6,341.7 L899.6,340.4 L899.7,339.1 L899.7,337.9 L899.7,336.6 L899.6,335.3 L899.7,334.0 L900.1,332.7 L900.2,331.5 L899.5,330.2 L899.3,328.9 L900.0,327.6 L899.7,326.3 L899.8,325.0 L899.6,323.7 L900.1,322.5 L900.0,321.2 L899.9,319.9 L900.3,318.6 L900.7,317.4 L900.5,316.1 L900.5,314.8 L900.2,313.5 L900.5,464.7 L6.7,464.7 Z" fill="url(#g)" stroke="none"/>
<path d="M6.7,136.0 L7.2,137.3 L7.4,138.7 L8.0,140.0 L8.3,141.3 L8.7,142.5 L8.6,143.8 L8.3,145.2 L8.7,146.4 L8.6,147.8 L9.2,149.0 L9.6,147.8 L9.8,146.6 L9.4,145.3 L10.6,144.3 L10.6,143.0 L11.7,142.1 L12.9,142.6 L13.2,143.9 L13.5,142.7 L14.4,141.7 L14.8,143.2 L15.4,144.6 L15.7,146.0 L16.2,147.2 L16.0,148.4 L16.2,149.6 L16.8,150.8 L16.4,152.0 L16.9,150.7 L17.2,149.4 L16.5,148.1 L16.5,146.9 L16.7,145.6 L16.8,144.3 L17.1,143.0 L17.0,141.7 L16.7,140.4 L16.6,139.1 L16.8,137.9 L17.4,136.6 L16.7,135.3 L17.1,134.0 L17.2,132.7 L16.5,131.4 L17.1,130.1 L17.6,128.9 L16.4,127.6 L17.1,126.3 L17.2,125.0 L16.9,123.7 L17.4,122.4 L17.2,121.0 L16.7,119.7 L17.6,118.4 L17.5,117.1 L17.6,115.8 L17.8,114.5 L17.4,113.1 L17.3,111.8 L16.8,110.5 L17.5,109.2 L17.1,107.9 L17.2,106.5 L16.9,105.2 L17.0,103.9 L17.2,102.6 L17.9,101.3 L16.6,99.9 L16.8,98.6 L17.5,97.3 L17.6,96.0 L18.3,95.1 L19.4,95.8 L20.2,94.7 L20.9,95.9 L21.8,96.6 L22.5,97.6 L22.2,99.0 L22.8,100.1 L23.2,98.7 L23.4,97.4 L23.6,96.1 L24.2,94.9 L24.0,93.5 L24.1,92.2 L24.3,90.9 L24.0,89.6 L25.0,89.8 L24.8,90.9 L25.0,92.2 L26.1,93.4 L25.7,94.8 L25.2,96.1 L26.4,97.3 L25.9,98.7 L25.7,100.0 L26.4,101.4 L25.4,102.8 L25.8,104.1 L26.2,105.5 L26.0,106.9 L26.0,108.3 L26.2,109.6 L26.1,111.0 L26.1,109.7 L26.2,108.4 L26.8,107.1 L26.5,105.8 L26.2,104.5 L27.0,103.2 L27.2,101.9 L26.5,100.6 L26.2,99.3 L26.8,98.0 L26.8,96.6 L26.9,95.2 L27.6,93.9 L26.8,92.4 L27.8,91.1 L26.9,89.7 L27.4,88.3 L27.9,87.0 L28.2,85.7 L28.3,84.4 L28.3,83.0 L28.3,81.7 L28.9,80.9 L29.6,80.1 L29.9,79.0 L30.5,78.0 L31.8,76.8 L31.9,75.4 L32.3,74.1 L32.4,72.7 L33.1,71.4 L32.5,70.0 L32.7,68.7 L33.0,67.5 L33.5,66.2 L33.9,65.0 L34.4,66.3 L34.7,67.7 L35.0,69.1 L36.9,68.0 L37.5,69.7 L37.1,71.1 L37.2,72.5 L37.4,73.9 L37.7,75.2 L37.4,76.6 L37.8,78.0 L38.0,79.2 L37.1,80.5 L37.8,81.7 L38.2,83.0 L38.1,84.2 L38.2,85.5 L38.1,86.7 L39.0,87.9 L38.4,89.2 L37.9,90.5 L38.5,91.7 L40.0,92.5 L39.7,93.8 L39.7,95.1 L39.5,96.3 L40.8,97.6 L40.3,98.9 L40.3,100.2 L40.0,101.5 L39.9,102.7 L40.6,104.0 L40.0,105.4 L41.0,106.8 L40.3,108.2 L41.3,109.6 L40.8,111.0 L40.6,112.3 L41.3,113.4 L41.4,114.6 L41.5,115.9 L42.0,117.0 L42.3,118.4 L41.9,119.9 L42.4,121.3 L43.1,122.6 L43.0,124.1 L43.9,125.1 L43.3,126.5 L43.9,127.6 L44.0,128.8 L44.1,130.0 L44.2,131.3 L44.1,132.7 L44.9,134.0 L45.0,135.3 L44.2,136.7 L44.9,138.0 L45.0,139.3 L45.2,140.6 L44.2,142.0 L44.4,143.3 L44.2,144.7 L45.2,146.0 L44.9,147.3 L45.4,148.6 L44.9,150.0 L44.5,151.3 L45.5,152.5 L44.7,153.8 L45.0,155.0 L45.6,156.2 L46.3,157.4 L45.2,158.8 L45.8,160.0 L45.7,158.7 L46.3,157.5 L46.4,156.3 L47.0,155.1 L46.2,153.7 L47.1,152.6 L47.4,151.3 L47.2,150.0 L47.3,148.7 L47.4,147.4 L48.3,146.3 L48.3,145.0 L48.5,143.8 L49.1,142.6 L48.7,141.2 L48.1,139.9 L48.9,138.7 L48.5,137.4 L49.7,136.3 L49.5,135.0 L49.4,133.7 L49.7,132.5 L50.2,131.3 L50.0,130.0 L50.6,128.8 L50.2,127.5 L50.8,126.3 L50.7,125.0 L51.2,123.7 L50.4,122.3 L51.1,121.0 L50.1,119.6 L50.5,118.3 L50.2,117.0 L51.5,115.7 L50.7,114.3 L51.2,113.0 L51.3,111.7 L52.2,112.0 L52.5,113.3 L52.2,114.6 L51.7,115.9 L52.4,117.1 L52.3,118.4 L52.2,119.7 L52.7,120.9 L53.2,122.2 L53.0,123.5 L52.4,124.8 L53.5,126.0 L53.2,127.3 L52.6,128.6 L52.8,129.9 L53.1,131.2 L52.9,132.5 L53.2,133.7 L53.5,135.0 L54.2,136.2 L54.2,137.6 L54.0,139.1 L54.9,140.3 L55.1,141.7 L55.9,140.9 L56.9,142.0 L56.6,143.3 L57.3,144.3 L57.1,145.6 L57.8,146.6 L57.4,148.0 L57.9,149.2 L58.4,150.4 L57.5,151.7 L57.9,153.0 L58.7,154.2 L58.3,155.5 L57.9,156.7 L58.2,158.0 L57.8,159.3 L57.9,160.5 L58.0,161.8 L58.3,163.0 L57.8,164.3 L58.2,165.6 L58.3,166.9 L59.3,168.1 L58.2,169.5 L58.1,170.8 L58.8,172.1 L58.9,173.3 L58.0,174.7 L59.5,175.9 L58.7,177.2 L58.1,178.6 L59.3,179.8 L58.8,181.1 L58.4,182.4 L59.2,183.7 L59.1,185.0 L58.9,186.3 L59.6,187.5 L59.4,188.8 L59.3,190.1 L59.1,191.4 L59.5,192.6 L59.6,193.9 L60.0,195.2 L59.8,196.4 L59.4,197.7 L59.7,199.0 L60.1,200.3 L60.2,201.5 L59.1,202.9 L59.5,204.1 L59.8,205.4 L60.9,206.6 L59.9,207.9 L60.0,209.2 L59.6,210.5 L60.1,211.7 L60.3,213.0 L60.6,211.7 L59.7,210.3 L61.0,209.1 L60.8,207.8 L60.5,206.5 L61.3,205.2 L61.6,203.9 L60.5,202.6 L60.9,201.3 L61.2,200.0 L61.3,198.7 L61.2,197.3 L61.1,196.0 L62.3,194.7 L62.0,193.4 L61.2,192.0 L61.2,190.7 L62.5,189.4 L62.3,188.1 L62.3,186.7 L61.8,188.1 L62.6,189.3 L62.2,190.7 L63.3,192.0 L62.8,193.3 L62.7,194.7 L62.6,196.1 L63.2,197.3 L63.1,198.7 L63.0,200.0 L63.1,201.4 L63.1,202.7 L63.4,204.0 L63.7,205.4 L63.6,206.7 L63.8,205.4 L63.5,204.1 L63.7,202.9 L64.0,201.6 L64.0,200.3 L64.1,199.0 L64.2,197.8 L64.3,196.5 L64.2,195.2 L63.9,193.9 L64.6,192.7 L64.9,191.4 L64.7,190.1 L64.5,188.8 L64.8,187.6 L64.4,186.3 L64.5,185.0 L64.9,183.7 L64.6,182.4 L65.3,181.1 L64.7,179.7 L64.3,178.4 L64.8,177.1 L65.9,175.9 L65.2,174.5 L64.9,173.2 L65.2,171.9 L65.8,170.6 L65.8,169.3 L65.8,168.0 L66.0,166.7 L65.7,168.0 L66.2,169.2 L66.2,170.5 L66.0,171.8 L66.5,173.0 L66.7,174.3 L67.7,175.4 L67.5,176.7 L67.9,175.4 L67.6,174.1 L68.2,172.9 L68.1,171.6 L68.3,170.3 L68.0,169.0 L69.0,167.8 L68.8,166.5 L68.3,165.2 L68.5,163.9 L69.4,162.7 L68.6,161.4 L69.1,160.1 L69.3,158.9 L69.0,157.6 L68.7,156.2 L69.2,155.0 L69.6,153.7 L70.1,152.4 L70.1,151.0 L70.1,149.7 L70.6,148.4 L70.6,147.0 L70.8,145.8 L71.0,144.7 L71.2,143.5 L71.8,142.4 L71.4,141.1 L71.9,140.0 L73.0,141.0 L73.8,142.3 L73.6,143.8 L74.5,145.1 L74.2,146.6 L74.1,148.0 L74.1,149.3 L74.4,150.5 L74.5,151.7 L75.0,153.0 L73.8,154.3 L74.4,155.5 L74.3,156.8 L75.1,158.0 L74.9,159.2 L75.6,160.5 L74.6,161.8 L74.9,163.0 L76.3,163.6 L76.5,165.0 L76.7,166.3 L78.0,167.3 L78.5,168.5 L78.5,169.9 L79.0,171.2 L79.7,172.3 L79.6,173.8 L80.0,175.0 L80.4,176.1 L80.9,177.1 L81.5,178.1 L81.4,179.3 L82.5,180.4 L82.3,181.7 L82.7,182.9 L82.8,184.2 L82.6,185.5 L82.7,186.7 L82.7,188.0 L83.6,189.1 L83.6,190.4 L83.3,191.7 L83.4,190.4 L83.4,189.1 L83.7,187.8 L83.5,186.5 L84.2,185.2 L84.2,183.9 L84.2,182.6 L84.1,181.3 L84.5,180.0 L84.4,178.4 L85.7,177.4 L85.9,178.8 L86.6,180.0 L86.0,181.3 L86.1,182.5 L86.8,183.7 L86.4,185.0 L86.5,186.2 L86.3,187.5 L86.4,188.8 L86.7,190.0 L87.1,191.3 L86.9,192.6 L86.9,193.9 L86.7,195.2 L86.9,196.4 L87.3,197.7 L87.6,199.0 L87.3,200.3 L87.5,201.5 L87.7,202.8 L87.4,204.1 L87.6,205.4 L87.5,206.7 L87.4,208.1 L87.9,209.4 L87.0,210.8 L88.1,212.0 L87.6,213.4 L88.1,214.7 L87.9,216.1 L89.2,217.3 L88.8,218.7 L88.5,220.0 L88.5,221.4 L88.0,222.8 L88.9,224.0 L88.6,225.4 L89.1,226.7 L89.8,227.6 L90.8,228.1 L91.0,229.3 L90.9,230.6 L91.6,231.9 L90.9,233.3 L91.8,234.5 L91.5,235.9 L90.9,237.2 L91.9,238.5 L92.0,239.8 L91.7,241.1 L92.2,242.4 L92.7,243.7 L92.5,245.0 L92.9,243.8 L93.1,242.5 L92.7,241.2 L93.8,240.1 L93.9,238.8 L93.4,237.5 L93.7,236.3 L93.6,235.0 L93.3,236.3 L94.1,237.5 L93.7,238.8 L94.2,240.1 L94.4,241.3 L93.9,242.6 L93.8,243.9 L94.4,245.1 L94.7,246.4 L94.3,247.7 L94.7,248.9 L94.6,250.2 L94.2,251.5 L94.5,252.8 L95.1,254.0 L96.0,252.9 L95.3,251.5 L95.8,250.4 L95.4,249.0 L95.8,247.8 L95.4,246.5 L96.9,245.5 L96.9,244.2 L96.1,242.9 L96.5,241.7 L96.2,240.4 L97.4,239.3 L97.0,237.9 L97.3,236.7 L97.3,235.5 L97.5,234.2 L97.3,232.9 L97.9,231.7 L97.5,230.4 L98.1,229.2 L98.3,228.0 L98.8,226.7 L98.8,225.3 L98.8,223.9 L99.5,222.7 L99.5,221.3 L100.2,220.0 L99.9,221.3 L100.4,222.6 L100.7,223.9 L101.0,225.2 L101.3,226.4 L101.3,227.8 L101.2,229.1 L101.3,230.4 L101.6,231.7 L102.8,230.5 L102.2,228.8 L102.8,227.5 L102.1,228.8 L103.7,229.9 L103.3,231.2 L103.2,232.5 L103.3,233.8 L103.3,235.0 L103.7,236.2 L103.6,237.5 L103.8,238.8 L103.7,240.0 L104.8,241.2 L104.3,242.5 L104.3,241.2 L104.1,239.9 L104.2,238.6 L105.0,237.3 L104.7,236.0 L105.3,234.7 L105.5,233.4 L105.4,232.1 L105.7,230.8 L105.6,229.5 L105.2,228.1 L105.9,226.9 L106.2,225.6 L106.0,224.3 L106.3,223.0 L107.1,221.8 L107.1,220.2 L108.1,219.0 L108.9,217.9 L108.3,216.5 L108.8,215.4 L108.9,214.1 L109.8,213.0 L109.5,211.7 L109.2,213.0 L109.8,214.3 L109.6,215.6 L109.6,216.9 L110.3,218.2 L109.1,219.5 L109.4,220.8 L110.4,222.1 L109.5,223.4 L109.8,224.7 L109.6,226.0 L109.7,227.3 L110.4,228.5 L110.0,229.8 L109.4,231.2 L110.2,232.4 L110.4,233.7 L110.5,235.0 L110.5,236.3 L109.9,237.6 L109.5,238.9 L110.0,240.2 L110.1,241.5 L109.3,242.8 L110.4,244.1 L110.5,245.4 L110.1,246.7 L110.2,248.0 L111.0,249.0 L111.4,250.1 L111.2,251.4 L111.7,252.5 L111.4,251.2 L112.1,250.2 L112.2,249.0 L112.8,247.9 L112.8,246.7 L113.0,248.0 L113.2,249.3 L112.8,250.7 L112.8,252.1 L113.6,253.3 L113.3,254.7 L114.1,256.0 L113.9,257.3 L113.8,258.7 L114.0,260.0 L114.6,258.5 L115.2,257.2 L115.8,255.8 L116.6,256.9 L116.4,258.2 L116.9,259.3 L116.8,260.6 L117.6,261.7 L117.8,262.9 L117.7,264.3 L117.8,265.6 L118.3,266.9 L118.1,268.3 L118.7,269.5 L118.9,270.8 L119.0,269.5 L118.4,268.2 L118.8,266.9 L119.1,265.7 L119.5,264.4 L119.2,263.1 L119.4,261.8 L119.1,260.5 L119.5,259.3 L120.1,258.0 L119.3,256.7 L120.5,255.5 L119.5,254.1 L119.8,252.8 L119.9,251.6 L120.3,250.3 L119.8,249.0 L121.5,249.7 L121.5,251.5 L122.4,252.6 L123.3,251.4 L124.5,250.4 L124.4,248.8 L125.0,247.5 L125.3,248.8 L126.0,249.8 L126.5,250.9 L126.6,249.4 L127.2,248.2 L126.9,246.7 L128.3,245.7 L128.2,244.3 L128.8,243.0 L129.6,241.7 L128.8,240.4 L128.8,239.1 L128.7,237.8 L128.7,236.5 L128.8,235.2 L129.4,233.9 L129.2,232.6 L129.3,231.2 L129.2,229.9 L129.7,228.7 L129.6,227.3 L129.4,226.0 L129.8,224.7 L129.5,223.4 L129.2,222.1 L129.9,220.8 L129.9,222.0 L130.7,223.1 L130.3,224.5 L130.9,225.6 L131.9,226.6 L131.5,228.1 L132.0,226.8 L132.3,225.5 L132.2,224.2 L132.2,223.0 L131.8,221.7 L132.9,220.5 L132.7,219.2 L132.7,217.9 L133.1,216.7 L133.4,218.0 L133.6,219.3 L134.4,220.4 L134.7,221.7 L134.0,220.3 L134.8,219.0 L135.4,217.7 L135.8,216.4 L135.3,215.0 L135.5,213.7 L136.3,212.4 L135.7,211.0 L136.3,209.7 L136.8,208.4 L136.3,207.0 L136.9,205.7 L136.3,204.3 L136.7,203.0 L136.9,204.3 L137.0,205.7 L136.8,207.1 L136.6,208.4 L137.8,209.6 L138.0,211.0 L137.8,212.4 L138.5,213.6 L138.2,215.0 L139.5,215.6 L140.8,215.8 L141.5,214.9 L141.4,213.5 L142.7,212.9 L142.8,211.6 L143.3,213.0 L143.3,214.4 L143.3,215.7 L142.9,217.0 L143.2,218.4 L143.5,219.7 L143.2,221.0 L142.8,222.4 L143.5,223.7 L143.4,225.0 L143.1,226.4 L143.5,227.7 L144.2,229.0 L142.9,230.4 L143.5,231.7 L144.7,232.9 L144.1,234.4 L144.1,235.7 L144.1,237.1 L144.3,238.4 L144.8,239.7 L145.3,241.0 L145.0,242.4 L144.8,243.7 L145.7,245.0 L145.9,246.3 L145.7,247.7 L146.1,249.0 L146.3,247.9 L146.9,246.9 L147.8,246.1 L148.2,244.9 L148.8,246.2 L148.7,247.5 L148.7,248.7 L149.1,250.0 L149.0,251.3 L148.9,252.5 L148.8,253.8 L148.8,255.1 L149.9,256.2 L149.9,257.5 L150.7,258.7 L149.7,260.0 L150.5,261.2 L150.4,262.5 L150.5,263.8 L151.3,264.9 L150.9,266.3 L151.3,267.5 L152.1,268.6 L151.7,270.0 L152.7,268.9 L152.2,267.2 L153.7,266.4 L154.0,265.0 L154.4,266.2 L154.9,267.4 L155.2,268.7 L156.2,269.6 L156.6,270.9 L156.9,272.1 L156.5,273.4 L157.1,274.6 L156.9,275.9 L156.3,277.2 L156.8,278.4 L157.0,279.7 L157.4,281.0 L157.3,282.3 L157.1,283.5 L156.9,284.8 L157.1,286.1 L157.1,287.4 L157.3,288.6 L156.9,289.9 L157.5,291.2 L157.6,292.4 L157.2,293.7 L157.5,295.0 L157.5,293.7 L157.6,292.5 L157.8,291.2 L158.2,290.0 L158.2,288.8 L157.9,287.5 L158.5,286.3 L158.6,285.0 L158.3,283.7 L159.0,282.5 L158.8,281.2 L159.0,280.0 L159.2,281.2 L159.5,282.4 L160.6,283.3 L160.7,284.5 L161.5,285.5 L161.4,286.8 L161.8,285.4 L162.7,284.3 L162.4,282.9 L163.1,281.8 L163.8,280.6 L162.7,279.0 L163.6,277.9 L164.1,276.7 L164.4,277.9 L165.0,279.0 L164.5,280.5 L165.5,281.5 L166.4,282.5 L166.0,283.9 L166.9,284.9 L167.7,285.8 L169.0,285.7 L169.9,286.6 L170.5,287.6 L171.7,288.0 L172.6,289.0 L173.3,290.1 L173.0,291.7 L173.7,292.8 L174.7,293.7 L174.9,295.0 L175.0,296.3 L175.2,297.6 L176.2,298.8 L175.8,300.2 L175.7,301.5 L175.9,302.8 L176.1,304.1 L177.1,305.3 L176.7,306.7 L177.4,307.5 L178.1,308.2 L178.6,309.3 L178.6,310.6 L178.5,311.9 L178.4,313.2 L178.8,314.5 L178.5,315.8 L179.1,317.0 L178.9,318.4 L179.2,319.6 L179.1,320.9 L179.4,322.2 L179.7,323.5 L179.1,324.8 L179.4,326.1 L179.7,327.4 L179.6,328.7 L179.6,330.0 L179.9,328.9 L180.5,328.0 L181.0,327.0 L181.2,325.7 L181.1,324.5 L180.7,323.2 L181.7,321.9 L181.6,320.7 L181.6,319.4 L181.6,318.1 L181.8,316.9 L181.7,315.6 L181.7,314.3 L181.8,313.0 L182.0,311.8 L182.0,310.5 L182.0,309.2 L182.6,308.0 L182.4,306.7 L183.5,305.9 L184.0,304.7 L185.0,304.0 L184.7,305.3 L185.2,306.6 L185.5,307.8 L185.4,309.1 L185.5,310.4 L186.2,311.7 L185.9,313.0 L186.0,311.7 L186.0,310.4 L186.4,309.1 L186.7,307.9 L186.9,306.6 L187.1,305.3 L187.2,304.0 L187.1,302.7 L187.4,301.4 L187.5,300.1 L187.7,298.8 L187.9,297.6 L187.6,296.2 L188.3,295.0 L188.6,296.2 L189.2,297.4 L189.2,298.7 L189.4,300.0 L189.9,301.2 L189.6,302.6 L191.1,303.6 L190.8,305.0 L191.6,306.2 L191.2,307.7 L191.2,309.2 L192.8,310.2 L192.5,311.7 L192.9,310.4 L193.0,309.1 L193.5,307.8 L193.0,306.4 L194.1,305.3 L194.3,303.9 L194.5,302.6 L194.6,301.3 L195.1,300.0 L196.3,300.7 L197.5,301.7 L197.8,302.9 L198.4,304.1 L197.9,305.4 L197.9,306.7 L197.9,308.0 L198.5,309.2 L198.4,310.4 L198.3,311.7 L198.6,313.0 L198.4,314.2 L198.3,315.5 L199.1,316.7 L199.8,317.9 L199.4,319.4 L199.6,320.7 L200.1,322.0 L200.4,323.3 L201.1,324.5 L201.4,325.8 L201.6,324.5 L201.2,323.2 L201.0,321.9 L201.3,320.6 L202.2,319.4 L202.2,318.1 L201.5,316.8 L201.6,315.5 L201.9,314.2 L201.7,312.9 L202.3,311.6 L202.0,310.3 L201.8,309.0 L202.5,307.8 L202.0,306.4 L202.3,305.2 L202.3,303.9 L202.3,302.6 L202.5,301.3 L202.4,300.0 L202.3,298.7 L202.6,297.4 L203.2,296.3 L203.7,295.2 L204.3,294.1 L204.7,292.9 L205.1,291.7 L205.3,290.4 L205.2,289.1 L205.4,287.8 L205.2,286.4 L206.1,285.2 L206.5,283.9 L206.7,282.6 L206.7,281.3 L207.0,280.0 L206.9,281.4 L207.4,282.6 L207.4,283.9 L207.7,285.2 L208.0,286.5 L207.9,287.9 L208.7,289.1 L208.9,290.4 L209.1,291.7 L209.4,290.4 L210.6,289.6 L211.3,288.4 L211.4,287.0 L212.1,285.8 L211.8,287.2 L212.1,288.5 L212.1,289.8 L213.0,291.0 L213.0,292.4 L212.8,293.8 L212.6,295.1 L213.2,296.4 L213.6,297.7 L213.6,299.0 L213.9,300.3 L214.1,301.6 L213.8,303.0 L214.1,301.7 L214.5,300.4 L215.4,299.2 L215.4,297.9 L215.4,296.5 L215.4,295.2 L216.0,293.9 L216.7,292.7 L216.6,291.3 L216.9,290.0 L217.9,289.0 L219.0,288.0 L219.2,286.7 L219.7,285.5 L220.3,284.3 L219.7,282.9 L220.4,281.7 L220.8,280.5 L220.8,279.2 L221.3,278.0 L221.7,276.8 L222.3,275.6 L222.0,274.3 L222.0,273.0 L221.5,271.7 L222.9,270.6 L222.4,269.2 L222.5,268.0 L222.3,266.7 L222.8,265.5 L222.6,264.2 L223.2,263.0 L223.4,261.7 L223.3,263.0 L223.3,264.3 L223.8,265.5 L223.0,266.9 L223.8,268.1 L224.3,269.4 L223.7,270.7 L224.0,272.0 L224.1,273.3 L224.0,274.6 L223.8,275.9 L224.4,277.1 L224.1,278.4 L223.6,279.7 L223.9,281.0 L224.2,282.3 L224.2,283.6 L224.3,284.9 L224.4,286.1 L224.2,287.4 L224.5,288.7 L224.8,290.0 L224.5,291.3 L224.8,292.6 L224.4,293.9 L224.8,295.2 L224.6,296.5 L224.0,297.8 L225.0,299.1 L225.1,300.4 L225.2,301.7 L225.4,302.9 L225.4,304.2 L224.8,305.6 L225.1,306.8 L225.4,308.1 L225.4,309.4 L224.8,310.7 L225.2,312.0 L225.1,313.3 L225.0,314.6 L224.7,315.9 L224.6,317.2 L224.9,318.5 L225.1,319.8 L225.2,321.1 L224.8,322.4 L224.9,323.7 L225.3,325.0 L225.9,326.3 L226.7,327.5 L227.1,326.4 L227.4,325.2 L227.6,324.0 L228.2,323.0 L228.6,321.6 L229.8,320.6 L230.3,319.3 L230.7,317.9 L231.6,316.9 L231.8,315.6 L231.5,314.1 L232.9,313.1 L232.9,311.7 L232.8,313.2 L234.2,314.1 L234.3,315.5 L235.0,316.7 L235.6,315.3 L236.2,313.9 L236.8,312.5 L237.2,313.7 L237.2,315.0 L237.3,316.3 L237.2,317.6 L237.3,318.9 L237.1,320.2 L237.3,321.4 L237.4,322.7 L237.6,324.0 L237.7,322.7 L238.3,321.5 L238.5,320.2 L238.6,318.9 L238.8,317.6 L239.6,316.4 L239.3,315.0 L239.9,313.8 L240.1,312.5 L240.4,313.7 L240.3,315.0 L241.1,316.2 L240.9,317.6 L241.4,318.8 L241.9,320.0 L241.7,321.3 L242.3,322.5 L242.0,323.8 L242.6,325.0 L242.7,326.2 L242.8,327.5 L243.1,328.7 L243.2,330.0 L243.6,331.2 L243.5,332.5 L243.8,333.8 L244.0,335.0 L244.2,333.5 L245.6,332.6 L246.0,331.3 L246.5,329.9 L247.3,328.6 L247.9,327.2 L248.4,325.8 L249.0,326.9 L248.9,328.3 L249.8,329.3 L249.8,330.7 L250.8,331.7 L251.0,333.0 L251.6,334.2 L252.1,335.4 L251.9,336.8 L252.4,338.0 L252.2,339.3 L252.4,340.6 L252.8,341.9 L253.1,343.2 L252.9,344.5 L252.9,345.8 L253.0,347.1 L252.8,348.4 L252.9,349.6 L253.0,350.9 L253.0,352.2 L253.1,353.5 L253.1,354.8 L253.0,356.1 L253.0,357.4 L253.4,358.7 L253.4,360.0 L254.4,359.2 L255.0,358.0 L255.2,359.3 L256.0,360.4 L256.1,361.7 L256.4,363.0 L257.0,364.1 L257.2,365.4 L257.5,366.7 L257.9,365.3 L258.3,363.9 L258.1,362.4 L258.4,361.0 L259.3,360.1 L260.2,359.1 L260.8,358.0 L261.6,359.1 L261.8,360.5 L262.4,361.7 L263.0,360.5 L263.2,359.2 L263.7,358.0 L264.1,356.7 L264.4,357.9 L264.9,359.0 L264.7,360.3 L264.9,361.5 L265.3,362.6 L265.4,363.8 L265.8,365.0 L266.6,363.9 L267.4,362.8 L268.3,361.7 L268.9,360.5 L268.9,359.2 L269.6,358.0 L269.8,356.8 L270.0,355.5 L270.3,354.2 L270.8,353.0 L270.8,351.7 L271.6,350.5 L272.3,349.1 L273.3,348.0 L273.6,346.7 L273.5,345.4 L273.5,344.1 L273.5,342.9 L273.6,341.6 L273.3,340.3 L273.9,339.0 L273.6,337.7 L273.5,336.4 L273.6,335.1 L273.7,333.8 L274.1,332.6 L274.2,331.3 L273.9,330.0 L274.3,328.7 L274.4,327.4 L274.1,326.1 L273.9,324.8 L274.2,323.5 L274.3,322.1 L274.6,320.9 L274.5,319.5 L274.1,318.2 L274.8,316.9 L274.4,315.6 L275.1,314.3 L274.6,313.0 L274.9,311.7 L275.3,310.5 L275.9,309.5 L276.8,308.7 L277.1,307.5 L277.1,308.9 L277.5,310.1 L278.3,311.4 L278.3,312.7 L278.6,314.0 L279.0,315.3 L278.9,316.7 L279.3,315.4 L279.7,314.1 L280.1,312.8 L280.3,311.4 L281.4,310.3 L281.8,309.0 L282.3,307.7 L282.5,306.2 L283.1,304.9 L284.1,305.9 L284.7,306.9 L285.8,307.5 L286.5,306.5 L287.0,305.4 L287.4,304.2 L287.5,303.0 L287.4,304.4 L287.6,305.8 L288.4,307.2 L288.3,308.6 L288.5,310.0 L288.6,308.8 L289.2,307.7 L289.1,306.4 L289.2,305.1 L290.4,304.2 L290.5,302.9 L291.0,301.7 L290.9,300.4 L292.1,299.5 L292.9,298.4 L293.4,297.2 L293.3,295.8 L293.3,297.1 L293.5,298.4 L293.3,299.7 L293.4,301.0 L293.7,302.2 L294.3,303.5 L293.7,304.8 L294.2,306.1 L294.0,307.4 L294.2,308.7 L293.9,310.0 L294.1,311.3 L294.7,312.5 L294.5,313.9 L294.2,315.2 L295.0,316.4 L294.8,317.7 L294.9,319.0 L295.4,317.7 L295.2,316.4 L294.7,315.1 L294.7,313.8 L295.2,312.5 L295.2,311.2 L295.7,309.9 L294.9,308.5 L295.5,307.2 L295.4,305.9 L294.7,304.6 L295.0,303.3 L295.3,302.0 L295.1,300.7 L295.2,299.4 L295.4,298.1 L295.1,296.8 L295.5,295.5 L295.2,294.2 L295.2,292.8 L295.6,291.5 L295.2,290.2 L295.5,288.9 L296.0,287.6 L295.5,286.3 L295.5,285.0 L295.5,286.3 L296.1,287.6 L295.8,289.0 L296.8,290.1 L296.4,291.5 L297.0,292.8 L297.3,294.1 L296.7,295.5 L297.6,296.7 L298.3,295.5 L298.3,294.1 L298.8,292.9 L298.3,291.4 L299.3,290.3 L299.6,289.0 L299.4,287.6 L299.7,286.3 L300.3,285.1 L300.4,286.2 L301.1,287.3 L301.7,288.4 L301.9,289.7 L302.5,290.8 L303.2,291.9 L303.8,293.1 L304.3,294.2 L304.3,295.5 L304.2,296.8 L305.2,297.9 L304.8,299.3 L304.8,300.6 L306.0,301.7 L305.9,303.0 L306.4,304.1 L306.9,305.2 L306.5,306.5 L307.4,307.5 L307.1,308.9 L307.3,310.0 L308.1,311.3 L307.9,312.7 L308.5,313.9 L307.9,315.4 L308.4,316.6 L308.4,318.0 L308.5,319.3 L308.5,320.7 L308.9,322.0 L309.0,323.3 L309.3,324.7 L309.2,326.0 L309.7,327.3 L309.5,328.7 L309.9,330.0 L309.8,328.6 L310.5,327.3 L310.3,325.9 L310.1,324.4 L310.7,323.1 L310.7,321.7 L310.5,320.4 L310.8,319.1 L311.3,317.9 L311.4,316.6 L311.3,315.3 L311.2,314.0 L311.3,312.7 L312.1,311.5 L311.9,310.2 L311.7,308.9 L311.5,307.6 L311.8,306.3 L312.9,305.1 L312.1,303.8 L312.5,302.5 L312.6,303.8 L312.8,305.0 L313.0,306.2 L313.5,307.5 L313.5,308.7 L312.9,310.1 L313.8,311.2 L313.5,312.5 L314.3,313.7 L314.0,315.0 L315.0,314.0 L315.9,313.1 L316.2,314.2 L315.8,315.5 L315.9,316.8 L316.3,318.0 L316.1,319.3 L316.5,320.5 L316.5,321.7 L316.4,323.0 L317.0,324.2 L316.6,325.5 L316.9,326.7 L316.8,328.0 L317.8,327.3 L319.0,326.8 L319.4,327.8 L319.4,329.0 L320.1,330.0 L320.4,331.3 L319.7,332.6 L320.0,333.8 L320.0,335.1 L320.4,336.4 L320.1,337.7 L320.3,338.9 L320.2,340.2 L320.4,341.5 L320.2,342.8 L320.6,344.1 L320.7,345.3 L320.9,346.6 L320.4,347.9 L320.8,349.2 L320.9,350.4 L320.9,351.7 L320.8,353.0 L321.1,354.2 L321.0,355.5 L321.2,356.7 L321.2,358.0 L321.4,359.2 L321.3,360.5 L321.5,361.7 L321.4,363.0 L321.5,364.2 L321.6,365.5 L321.9,366.7 L321.9,367.9 L322.0,369.2 L321.9,370.5 L322.4,371.7 L322.3,372.9 L322.3,374.2 L322.5,375.4 L322.4,376.7 L322.9,377.9 L323.1,379.1 L323.8,380.2 L324.2,381.4 L324.1,382.7 L324.6,383.8 L325.0,385.0 L325.3,383.8 L325.6,382.7 L325.7,381.5 L326.3,380.4 L326.3,379.1 L326.8,378.0 L327.0,376.7 L326.9,375.4 L327.3,374.2 L328.0,373.0 L328.1,371.7 L328.3,370.5 L328.7,369.2 L328.8,367.9 L329.2,366.7 L329.4,367.9 L329.6,369.1 L329.6,370.3 L330.1,371.4 L330.0,372.7 L330.3,373.9 L330.7,375.0 L330.7,376.3 L330.8,377.6 L330.9,378.8 L330.9,380.1 L331.1,381.4 L331.0,382.7 L331.1,383.9 L330.8,385.2 L331.0,386.5 L331.2,387.8 L331.4,389.0 L331.2,390.3 L331.2,391.6 L331.4,392.9 L331.4,394.1 L331.5,395.4 L331.3,396.7 L332.0,397.8 L332.4,399.0 L333.3,400.0 L334.4,399.3 L335.7,398.8 L336.7,398.0 L337.5,397.0 L338.2,396.0 L339.0,395.0 L339.6,393.8 L340.0,392.5 L340.6,391.3 L340.8,390.0 L341.3,388.8 L341.7,387.5 L341.9,388.8 L342.5,390.1 L342.6,391.4 L342.8,392.7 L343.2,394.0 L344.1,393.1 L345.1,392.6 L345.8,391.7 L346.7,392.3 L347.5,392.9 L348.3,392.1 L348.9,391.1 L349.3,390.0 L350.0,389.0 L350.3,390.3 L350.2,391.6 L350.6,392.9 L351.0,394.1 L351.4,395.4 L351.5,396.7 L351.6,398.0 L351.8,399.3 L352.4,400.4 L352.7,401.6 L353.0,402.8 L353.4,404.0 L354.6,403.6 L355.8,403.0 L356.8,402.7 L357.7,402.0 L358.8,401.6 L359.0,402.9 L359.3,404.1 L359.3,405.4 L359.6,406.6 L359.9,407.8 L360.0,409.0 L361.1,408.6 L362.1,407.8 L363.3,407.6 L363.7,408.9 L364.1,410.3 L364.7,411.6 L365.0,413.0 L366.2,412.0 L367.5,411.0 L368.1,412.1 L368.6,413.2 L369.2,414.3 L369.5,415.6 L370.0,416.7 L370.9,417.4 L371.7,418.2 L372.5,419.0 L373.4,418.1 L374.2,417.0 L375.0,416.0 L375.8,415.0 L377.1,414.9 L378.3,415.0 L379.1,415.8 L380.0,416.7 L380.8,417.5 L381.1,418.8 L381.5,420.0 L381.5,421.3 L381.9,422.5 L382.2,423.8 L382.5,425.0 L382.9,426.3 L383.2,427.7 L383.3,429.0 L383.7,430.3 L384.0,431.7 L384.6,430.5 L385.2,429.2 L385.8,428.0 L386.3,429.2 L386.7,430.4 L387.3,431.6 L387.7,432.8 L388.3,434.0 L388.5,432.7 L388.7,431.4 L388.8,430.0 L389.0,428.7 L389.1,427.4 L389.4,426.1 L389.6,424.8 L389.7,423.4 L389.8,422.1 L390.0,420.8 L390.4,419.4 L390.8,418.0 L392.1,419.0 L393.3,420.1 L394.5,419.2 L395.6,418.4 L396.7,417.5 L397.3,418.9 L397.8,420.3 L398.3,421.7 L400.0,422.5 L400.7,421.3 L401.2,420.0 L402.0,418.8 L402.4,417.5 L403.8,417.7 L405.0,418.0 L406.2,418.5 L407.5,419.0 L408.2,420.4 L409.0,421.7 L409.5,420.6 L410.3,419.6 L410.9,418.5 L411.7,417.5 L412.0,416.1 L412.1,414.8 L412.3,413.4 L412.6,412.1 L413.0,410.7 L413.2,409.4 L413.3,408.0 L414.2,407.5 L415.0,406.6 L416.0,407.7 L416.7,409.0 L417.8,408.2 L419.0,407.5 L419.3,408.8 L419.5,410.2 L420.1,411.4 L420.4,412.7 L420.8,414.0 L421.0,412.8 L421.3,411.6 L421.5,410.4 L421.4,409.1 L421.8,407.9 L421.9,406.7 L422.2,405.5 L422.1,404.2 L422.4,403.0 L422.3,401.7 L422.7,400.5 L422.7,399.2 L422.7,397.9 L422.5,396.7 L422.8,395.4 L422.8,394.1 L422.7,392.9 L422.9,391.6 L423.1,390.3 L423.2,389.1 L423.1,387.8 L423.3,386.5 L423.2,385.3 L423.3,384.0 L423.5,385.3 L423.7,386.6 L424.0,387.9 L424.3,389.1 L424.5,390.4 L424.8,391.7 L424.9,393.0 L425.4,394.2 L426.0,395.4 L426.2,396.7 L426.8,397.9 L427.6,399.0 L428.1,397.8 L428.6,396.6 L429.2,395.5 L429.7,394.3 L430.0,393.0 L430.3,391.8 L430.7,390.8 L431.2,389.7 L431.7,388.6 L431.9,387.5 L432.2,388.7 L432.3,390.0 L432.4,391.3 L432.5,392.5 L432.7,393.7 L433.0,395.0 L432.8,396.3 L432.9,397.5 L433.3,398.7 L433.3,400.0 L433.5,401.3 L433.7,402.5 L434.5,403.3 L435.3,404.0 L435.4,405.2 L435.5,406.5 L435.9,407.7 L435.7,408.9 L435.9,410.1 L436.1,411.4 L436.2,412.6 L436.5,413.8 L436.7,415.0 L436.8,416.3 L436.9,417.6 L436.9,418.9 L437.0,420.2 L437.0,421.5 L437.3,422.8 L437.1,424.1 L437.2,425.4 L437.4,426.7 L437.5,428.0 L437.6,429.2 L437.8,430.5 L437.9,431.7 L438.1,433.0 L438.2,434.2 L438.3,435.5 L438.5,436.7 L438.6,438.0 L438.8,439.2 L438.9,440.5 L439.0,441.7 L439.3,442.9 L439.6,444.0 L439.9,445.2 L440.2,446.3 L440.5,447.5 L441.7,446.7 L442.5,445.3 L443.3,444.0 L444.2,443.3 L445.0,442.5 L446.2,442.5 L447.5,442.5 L447.8,441.2 L448.1,439.8 L448.4,438.5 L448.7,437.1 L449.0,435.8 L449.9,435.4 L450.8,435.0 L451.4,436.0 L451.9,437.0 L452.5,438.0 L452.9,439.0 L453.3,440.0 L453.7,438.7 L454.1,437.5 L454.6,436.2 L455.0,435.0 L455.6,433.6 L456.1,432.2 L456.7,430.8 L457.4,429.3 L458.3,428.0 L458.4,426.7 L458.7,425.4 L458.7,424.1 L458.9,422.9 L459.0,421.6 L459.2,420.3 L459.4,419.0 L459.5,420.3 L459.6,421.6 L459.8,422.9 L459.8,424.2 L460.0,425.5 L460.2,426.8 L460.4,428.1 L460.5,429.4 L460.6,430.7 L460.8,432.0 L462.0,432.5 L463.3,433.0 L463.5,434.1 L463.6,435.3 L463.9,436.4 L464.0,437.5 L465.0,436.4 L465.8,435.2 L466.7,434.0 L467.5,433.2 L468.3,432.5 L469.5,432.1 L470.8,431.7 L472.1,432.3 L473.3,433.0 L473.6,431.7 L473.9,430.5 L474.2,429.3 L474.4,428.0 L474.8,426.8 L475.0,425.5 L475.2,424.3 L475.5,423.0 L476.2,424.1 L476.7,425.3 L477.4,426.4 L478.0,427.5 L478.2,426.2 L478.5,425.0 L478.7,423.7 L479.1,422.5 L479.2,421.2 L479.5,420.0 L479.8,418.8 L480.0,417.5 L480.4,416.4 L480.8,415.2 L481.3,414.1 L481.7,413.0 L482.4,414.2 L483.4,415.4 L484.0,416.7 L485.4,416.3 L486.7,415.8 L487.4,414.8 L488.0,413.8 L488.8,412.9 L489.2,411.7 L490.0,410.8 L490.4,409.6 L490.8,408.4 L491.0,407.2 L491.2,406.0 L491.9,404.9 L492.2,403.7 L492.5,402.5 L492.7,401.3 L493.0,400.1 L492.9,398.8 L493.5,397.7 L493.7,396.4 L493.5,395.2 L494.0,394.0 L494.5,395.2 L494.5,396.5 L494.9,397.7 L494.9,399.0 L495.6,400.1 L495.8,401.3 L496.0,402.6 L496.5,403.8 L496.7,405.0 L496.9,403.7 L497.2,402.3 L497.3,401.0 L497.8,399.7 L498.0,398.3 L498.2,397.0 L498.7,395.7 L498.7,394.3 L499.1,393.0 L499.3,391.8 L499.8,390.6 L499.8,389.3 L500.4,388.1 L500.7,386.9 L501.0,385.7 L501.4,384.4 L501.8,383.2 L502.0,382.0 L502.4,380.8 L503.1,381.9 L503.6,383.1 L504.1,384.3 L504.6,385.5 L505.0,386.7 L505.1,388.0 L505.5,389.2 L505.8,390.4 L505.8,391.7 L506.1,393.0 L506.4,394.2 L506.6,395.5 L507.0,396.7 L507.7,395.6 L508.6,394.7 L509.2,393.5 L510.0,392.5 L510.9,391.7 L511.7,390.9 L512.5,390.0 L512.7,388.7 L512.6,387.4 L512.8,386.1 L512.9,384.8 L512.9,383.5 L513.0,382.2 L512.8,380.8 L512.8,379.5 L513.0,378.2 L513.2,376.9 L513.4,375.6 L513.0,374.3 L513.3,373.0 L513.2,371.7 L513.3,370.5 L513.5,369.2 L513.7,368.0 L513.7,366.7 L514.0,365.5 L513.7,364.2 L514.1,363.0 L514.1,361.7 L514.1,360.3 L514.2,359.0 L514.1,357.6 L514.0,356.2 L514.2,354.9 L514.2,353.5 L514.9,352.2 L514.5,350.8 L514.4,352.2 L514.9,353.5 L515.1,354.9 L515.3,356.3 L515.8,357.6 L515.7,359.0 L516.0,360.3 L516.4,361.7 L516.6,363.2 L517.0,364.6 L517.5,366.0 L517.9,364.7 L517.7,363.4 L518.0,362.1 L518.2,360.8 L518.1,359.5 L518.6,358.3 L518.2,356.9 L518.4,355.6 L518.9,354.4 L518.8,353.0 L519.1,351.8 L518.9,350.4 L519.4,349.2 L519.3,347.9 L519.8,346.6 L519.5,345.3 L520.0,344.0 L520.2,345.2 L520.4,346.4 L520.6,347.7 L520.7,348.9 L521.2,350.1 L521.6,351.3 L521.3,352.6 L521.7,353.7 L521.7,355.0 L522.1,353.8 L521.9,352.4 L522.4,351.2 L522.7,350.0 L522.9,348.7 L523.5,347.5 L523.7,346.2 L523.9,345.0 L523.9,343.7 L524.5,342.5 L524.3,341.2 L524.7,340.0 L524.9,338.8 L524.5,337.4 L524.8,336.2 L525.2,335.0 L525.4,333.8 L525.7,332.5 L525.8,331.3 L525.9,330.0 L526.3,328.6 L526.9,327.2 L527.6,325.8 L527.5,324.5 L528.0,323.2 L527.5,321.8 L528.2,320.5 L528.1,319.2 L527.7,317.9 L528.6,316.6 L528.6,315.3 L528.6,314.0 L528.5,312.6 L528.7,311.3 L529.2,310.0 L529.0,308.8 L528.9,307.5 L529.5,306.4 L529.7,305.2 L530.2,304.1 L530.4,302.9 L530.7,301.7 L531.1,303.0 L530.7,304.3 L531.5,305.6 L530.6,307.0 L531.5,308.2 L531.7,309.5 L531.3,310.9 L531.4,312.2 L532.0,313.5 L531.6,314.8 L532.4,316.1 L532.2,317.4 L531.8,318.8 L532.3,320.1 L532.6,321.4 L532.3,322.7 L532.4,324.0 L532.6,322.7 L532.2,321.3 L532.7,320.0 L533.0,318.7 L533.2,317.3 L533.6,316.0 L533.1,314.7 L533.2,313.3 L533.4,312.0 L533.8,310.7 L533.3,309.3 L533.8,308.0 L534.9,308.6 L534.9,310.0 L535.9,310.8 L536.0,309.5 L536.1,308.2 L535.7,306.9 L536.1,305.6 L536.2,304.3 L536.4,303.0 L536.1,301.7 L536.1,300.4 L535.9,299.1 L537.2,297.8 L536.6,296.5 L536.6,295.2 L536.3,293.9 L537.1,292.6 L536.8,291.3 L537.2,290.0 L536.9,291.3 L537.2,292.6 L537.2,293.9 L537.8,295.2 L537.7,296.5 L537.9,297.8 L538.3,299.1 L538.0,300.4 L538.2,301.7 L537.8,303.0 L539.0,304.2 L538.7,305.6 L538.9,306.9 L538.9,308.2 L538.8,309.5 L539.0,310.8 L539.2,309.6 L539.2,308.3 L539.6,307.1 L539.7,305.8 L539.2,304.5 L539.8,303.3 L539.6,302.0 L539.9,300.8 L540.4,299.6 L540.5,298.3 L540.7,297.1 L540.7,295.8 L541.1,297.1 L541.6,298.4 L541.4,299.8 L541.6,301.1 L541.5,302.5 L541.9,303.8 L542.6,305.0 L542.4,303.7 L542.4,302.5 L542.8,301.3 L543.4,300.0 L543.1,298.8 L542.3,297.5 L542.7,296.2 L542.7,295.0 L543.4,293.8 L543.3,292.5 L544.6,292.2 L545.9,291.9 L546.2,293.0 L546.3,294.3 L545.6,295.7 L546.2,296.9 L546.7,298.2 L547.2,299.4 L547.1,300.8 L547.4,302.0 L546.9,303.4 L547.0,304.7 L546.9,306.0 L547.3,307.3 L547.6,308.6 L547.8,309.9 L547.2,311.3 L548.0,312.5 L547.9,311.3 L548.0,310.0 L548.3,308.8 L548.1,307.5 L548.4,306.3 L548.6,305.0 L548.5,303.7 L548.5,302.5 L548.6,301.2 L548.5,300.0 L548.8,298.7 L549.0,297.5 L549.2,298.8 L549.1,300.2 L549.3,301.5 L550.0,302.7 L550.0,304.1 L550.3,305.4 L550.4,306.7 L550.8,308.0 L550.9,306.7 L550.8,305.4 L550.7,304.2 L551.3,302.9 L551.4,301.6 L551.3,300.3 L551.3,299.1 L551.3,297.8 L551.1,296.5 L550.8,295.2 L551.6,294.0 L551.5,292.7 L551.3,291.4 L551.2,290.1 L552.0,288.8 L551.0,287.5 L552.2,286.3 L551.8,285.0 L552.5,283.7 L551.6,282.3 L551.9,281.0 L551.7,279.7 L552.0,278.3 L551.9,277.0 L551.8,275.7 L552.5,274.3 L551.9,273.0 L552.1,271.7 L552.5,270.3 L552.2,269.0 L552.2,267.7 L552.6,266.3 L552.4,265.0 L553.0,263.6 L554.1,262.8 L555.0,261.7 L555.8,260.6 L555.0,259.2 L556.0,258.1 L555.6,256.8 L556.0,255.6 L556.2,254.4 L556.7,253.2 L557.1,252.1 L557.3,250.8 L557.5,252.1 L557.1,253.5 L557.5,254.8 L557.8,256.1 L558.7,257.3 L558.4,258.8 L559.0,260.0 L559.8,261.1 L560.8,262.0 L560.6,263.3 L560.5,264.6 L560.6,265.8 L561.1,267.1 L560.7,268.4 L560.6,269.7 L561.5,270.9 L560.7,272.2 L561.8,273.4 L561.2,274.7 L561.2,276.0 L561.0,277.3 L561.4,278.5 L561.7,279.8 L561.9,281.1 L562.1,282.3 L561.5,283.6 L561.9,284.9 L562.1,286.2 L561.7,287.5 L562.2,288.7 L562.1,290.0 L562.3,291.4 L561.9,292.9 L562.2,294.3 L562.8,295.6 L563.2,297.0 L563.2,295.7 L563.3,294.4 L563.5,293.2 L563.7,291.9 L563.6,290.6 L564.1,289.3 L564.1,288.0 L564.2,289.2 L564.6,290.4 L564.8,291.6 L564.7,292.9 L565.4,294.1 L565.4,295.3 L565.8,296.5 L566.2,297.7 L565.9,299.0 L566.3,297.7 L566.6,296.4 L567.1,295.2 L566.7,293.8 L567.4,292.6 L567.8,291.3 L568.1,290.0 L567.9,288.7 L568.7,287.5 L568.8,286.3 L569.4,285.1 L569.6,283.8 L569.7,282.5 L570.4,281.4 L570.0,280.0 L570.0,278.7 L570.1,277.4 L570.0,276.0 L570.5,274.8 L570.0,273.4 L570.7,272.2 L571.0,270.9 L571.3,269.6 L571.0,268.2 L571.7,267.0 L571.1,265.6 L571.4,264.3 L570.9,262.9 L571.6,261.7 L571.5,260.4 L572.4,259.2 L572.2,257.9 L571.7,256.6 L572.3,255.4 L572.4,254.1 L572.2,252.9 L572.4,251.6 L572.4,250.3 L572.4,249.1 L572.0,247.8 L572.7,246.6 L573.3,245.3 L573.5,244.1 L572.9,242.8 L572.8,241.5 L573.1,240.3 L573.4,239.0 L573.3,240.3 L573.7,241.5 L573.4,242.8 L573.7,244.0 L573.6,245.3 L574.0,246.6 L574.5,247.8 L574.0,249.1 L573.8,250.4 L574.6,251.6 L574.3,252.9 L574.0,254.2 L574.6,255.4 L574.8,256.7 L573.9,258.0 L574.4,259.2 L574.5,260.5 L575.2,261.7 L574.8,263.0 L574.6,261.7 L575.2,260.5 L575.9,259.3 L576.3,258.1 L575.7,256.7 L576.0,255.5 L576.5,254.3 L576.0,252.9 L577.1,251.8 L577.3,250.5 L577.1,249.2 L577.6,248.0 L577.9,249.4 L578.6,250.6 L579.2,251.8 L579.8,253.1 L580.0,251.7 L580.3,250.4 L580.2,249.1 L581.0,247.9 L580.6,246.6 L581.0,245.3 L581.1,244.0 L581.2,242.7 L581.9,241.5 L581.4,240.1 L582.1,238.9 L582.0,237.6 L582.3,236.3 L582.0,235.0 L582.4,236.5 L583.1,237.8 L584.1,239.0 L584.3,237.8 L584.3,236.5 L584.5,235.3 L585.2,234.1 L584.6,232.8 L584.5,231.5 L584.6,230.3 L585.3,229.1 L585.4,227.9 L585.8,226.7 L586.4,225.6 L587.3,224.6 L587.2,223.2 L587.6,222.0 L587.3,220.7 L587.8,219.4 L588.1,218.1 L588.2,216.8 L587.0,215.5 L588.1,214.2 L588.4,213.0 L588.2,211.7 L587.4,210.3 L587.9,209.1 L588.2,207.8 L588.2,206.5 L587.8,205.2 L587.8,203.9 L588.6,202.6 L587.8,201.3 L588.5,200.0 L588.4,198.7 L588.6,197.3 L588.1,195.9 L588.5,194.6 L589.0,193.3 L588.3,191.9 L589.7,190.6 L588.5,189.2 L588.7,187.9 L589.2,186.5 L589.5,185.2 L589.7,183.9 L589.4,182.5 L589.8,183.8 L590.1,185.1 L590.5,186.4 L591.3,187.6 L590.4,189.1 L591.0,190.4 L591.3,191.7 L591.2,190.4 L591.6,189.2 L591.7,187.9 L591.8,186.6 L592.3,185.4 L591.4,184.1 L592.2,182.9 L591.9,181.5 L592.3,180.3 L593.1,179.1 L592.2,177.8 L592.7,176.5 L592.7,175.2 L593.1,174.0 L594.2,175.2 L594.9,176.6 L594.6,178.0 L595.0,179.2 L595.1,180.5 L594.6,181.7 L595.4,182.9 L595.3,184.2 L595.2,185.5 L595.2,186.7 L595.6,188.0 L595.2,189.3 L594.8,190.5 L595.9,191.7 L595.5,193.0 L596.6,194.3 L595.4,195.7 L596.1,196.9 L596.0,198.3 L596.3,199.6 L596.4,200.9 L596.7,202.2 L596.5,203.5 L595.9,204.9 L596.1,206.2 L596.7,207.5 L596.8,208.8 L596.9,210.1 L597.2,211.4 L596.1,212.8 L596.6,214.1 L596.9,215.4 L597.1,216.7 L597.4,217.9 L596.6,219.2 L596.9,220.5 L597.6,221.7 L597.0,223.0 L597.8,224.2 L597.2,225.5 L597.6,226.7 L597.8,227.9 L597.6,229.2 L597.7,230.5 L597.7,231.8 L598.5,232.9 L597.7,234.3 L597.9,235.5 L598.6,236.7 L598.6,238.0 L599.6,238.8 L600.0,240.0 L600.6,241.2 L600.3,242.6 L600.4,243.9 L600.1,245.3 L600.4,246.5 L600.6,247.8 L601.1,249.1 L601.2,250.4 L601.3,251.7 L601.5,250.4 L600.8,249.0 L601.8,247.7 L601.1,246.3 L601.5,245.0 L601.8,243.7 L601.7,242.3 L602.6,241.1 L602.0,239.7 L602.7,238.4 L602.7,237.0 L602.1,235.7 L602.6,234.3 L602.7,233.0 L602.5,231.7 L602.7,230.3 L602.6,229.0 L602.9,227.7 L602.8,226.3 L603.1,225.0 L603.5,223.7 L603.8,222.4 L603.4,221.0 L603.5,219.7 L603.8,218.4 L603.5,217.0 L603.3,215.7 L604.2,214.4 L603.6,213.0 L604.1,211.7 L605.1,212.4 L604.5,213.9 L605.7,215.2 L605.2,216.6 L605.1,218.0 L606.2,219.2 L605.5,220.7 L606.5,221.9 L607.0,223.2 L606.3,224.7 L606.6,226.0 L607.1,227.2 L608.1,228.2 L607.7,229.6 L608.1,230.8 L608.4,232.0 L608.5,233.3 L609.2,234.6 L608.8,235.9 L608.1,237.3 L608.3,238.6 L609.1,239.9 L609.3,241.2 L609.0,242.5 L608.9,243.8 L609.1,245.1 L609.9,246.4 L609.5,247.8 L609.6,249.1 L609.3,250.4 L609.5,251.7 L609.9,253.0 L610.6,251.8 L610.1,250.5 L611.0,249.3 L610.4,248.0 L610.8,246.7 L611.1,245.5 L610.6,244.2 L610.8,242.9 L610.5,241.6 L611.4,240.5 L611.4,239.2 L611.5,237.9 L611.8,236.7 L612.4,235.5 L613.7,235.8 L613.8,237.1 L614.0,238.4 L613.7,239.8 L613.5,241.2 L614.4,242.4 L614.7,243.7 L614.7,245.1 L614.5,246.4 L614.5,247.7 L615.1,249.0 L614.5,250.4 L615.1,251.7 L615.0,253.0 L615.4,254.2 L615.7,255.5 L615.4,256.9 L616.5,258.0 L616.7,259.2 L616.8,260.5 L616.9,261.8 L617.7,263.0 L617.6,264.3 L618.1,265.6 L617.8,267.0 L617.7,268.4 L618.3,269.7 L618.5,271.0 L618.6,272.3 L619.6,273.6 L618.9,275.0 L618.9,276.3 L619.1,277.6 L619.4,278.9 L619.6,280.2 L619.5,281.6 L619.2,282.9 L619.7,284.2 L619.3,285.6 L620.6,286.8 L620.1,288.1 L620.0,289.5 L620.1,290.8 L620.7,292.1 L620.5,293.4 L620.1,294.8 L620.9,296.0 L620.9,297.3 L621.0,298.7 L620.9,300.0 L621.0,298.7 L621.1,297.4 L620.4,296.1 L621.4,294.8 L620.9,293.5 L620.9,292.2 L621.7,290.9 L621.2,289.6 L620.9,288.2 L621.1,286.9 L621.1,285.6 L621.1,284.3 L621.4,283.0 L621.8,281.8 L621.7,280.4 L621.2,279.1 L622.4,277.9 L621.4,276.5 L621.8,275.2 L621.9,273.9 L622.1,272.6 L621.8,271.3 L622.1,270.0 L622.8,268.7 L622.2,267.4 L621.8,266.0 L622.4,264.7 L622.1,263.4 L622.3,262.1 L622.5,260.8 L622.7,259.5 L622.5,258.2 L623.0,256.9 L622.7,255.5 L622.3,254.2 L623.2,252.9 L622.8,251.6 L623.5,250.3 L622.9,248.9 L623.4,247.6 L623.3,246.3 L623.0,245.0 L624.0,246.2 L624.0,247.5 L623.2,248.9 L624.5,250.1 L623.6,251.5 L623.7,252.7 L624.0,254.0 L624.1,255.3 L624.7,256.5 L624.6,257.8 L624.7,259.1 L624.7,260.4 L624.9,261.7 L625.2,260.4 L625.2,259.2 L625.5,257.9 L626.1,256.8 L625.6,255.4 L626.0,254.2 L626.6,253.0 L627.0,254.3 L626.9,255.6 L627.7,256.9 L627.1,258.3 L627.1,259.6 L626.8,260.9 L627.8,262.2 L627.3,263.6 L627.1,264.9 L627.2,266.2 L627.0,267.5 L627.1,268.9 L627.9,270.1 L627.4,271.5 L627.8,272.8 L628.0,274.1 L627.3,275.5 L628.1,276.8 L628.2,278.1 L628.1,279.4 L628.3,280.7 L627.8,282.1 L628.1,283.4 L627.8,284.7 L628.2,286.0 L628.2,284.7 L628.8,283.5 L628.4,282.2 L628.5,280.9 L628.7,279.7 L628.8,278.4 L629.3,277.2 L628.8,275.9 L629.2,274.6 L629.2,273.4 L628.9,272.1 L629.0,270.8 L629.4,269.6 L629.7,268.3 L629.8,267.1 L629.9,265.8 L629.8,264.5 L629.8,263.3 L630.1,262.0 L629.8,260.6 L629.9,259.2 L630.4,257.9 L630.2,256.5 L630.7,255.2 L630.7,253.9 L631.0,252.5 L631.3,251.2 L631.2,249.8 L631.6,248.5 L632.4,249.7 L631.8,251.0 L632.3,252.3 L631.9,253.6 L633.0,254.8 L632.6,256.1 L632.3,257.4 L633.3,258.6 L632.7,259.9 L632.6,261.1 L632.7,262.4 L633.4,263.6 L632.8,264.9 L633.0,266.2 L633.4,267.4 L633.0,268.8 L633.3,270.0 L634.2,269.0 L635.0,268.0 L634.9,269.3 L635.1,270.5 L634.8,271.8 L635.1,273.0 L635.6,274.2 L635.5,275.5 L635.2,276.7 L635.7,278.0 L635.5,279.2 L635.6,280.5 L635.8,281.7 L636.6,283.0 L635.9,284.4 L636.0,285.7 L636.1,287.0 L636.4,288.3 L635.9,289.7 L636.4,291.0 L636.6,292.3 L636.7,293.7 L636.4,295.0 L636.9,296.3 L637.0,297.7 L636.2,299.0 L636.5,300.4 L636.6,301.7 L636.8,303.0 L637.5,304.3 L638.7,305.2 L638.9,306.8 L638.7,308.0 L639.0,309.3 L639.7,310.6 L639.0,311.9 L639.0,313.2 L639.6,314.5 L639.5,315.8 L639.4,317.1 L639.7,318.3 L639.4,319.7 L639.8,320.9 L639.7,322.2 L639.9,323.5 L640.4,324.8 L640.3,326.1 L639.6,327.4 L640.2,328.7 L640.2,330.0 L640.6,328.7 L640.8,327.4 L640.6,326.1 L640.4,324.8 L640.6,323.6 L640.2,322.3 L640.7,321.0 L641.1,319.7 L640.3,318.4 L641.0,317.1 L641.2,315.9 L641.4,314.6 L640.9,313.3 L641.1,312.0 L640.8,310.7 L641.1,309.4 L641.6,308.2 L642.1,306.9 L641.2,305.6 L642.0,304.3 L641.7,303.0 L641.7,301.7 L642.7,300.4 L641.5,299.0 L642.3,297.7 L642.6,296.4 L643.3,295.1 L643.4,293.8 L643.7,292.5 L643.2,291.1 L643.6,289.8 L643.9,288.5 L643.8,287.2 L643.9,285.8 L644.0,284.5 L644.2,285.8 L644.6,287.1 L643.7,288.5 L644.5,289.7 L645.1,291.0 L644.5,292.3 L644.7,293.6 L644.7,294.9 L644.4,296.3 L645.0,297.6 L645.2,298.9 L645.4,300.2 L645.3,301.5 L645.5,302.8 L645.4,304.1 L645.0,305.4 L645.6,306.7 L645.9,308.0 L646.6,306.9 L646.6,305.6 L646.9,304.3 L647.1,303.0 L647.4,301.8 L647.6,300.5 L647.2,301.8 L647.5,303.1 L647.5,304.4 L648.1,305.7 L648.1,307.0 L648.4,308.2 L648.1,309.6 L648.3,310.9 L648.7,312.1 L648.6,313.4 L648.3,314.8 L648.9,316.0 L649.6,317.2 L649.7,318.6 L649.8,319.9 L650.3,321.1 L650.5,322.5 L650.7,323.8 L651.3,325.0 L651.3,323.8 L652.0,322.7 L652.1,321.4 L652.5,320.3 L652.6,319.0 L652.7,317.8 L653.2,316.7 L653.3,315.4 L653.3,314.2 L653.1,312.9 L654.2,311.7 L653.7,310.4 L654.0,309.2 L654.4,308.0 L653.8,306.6 L654.9,305.5 L654.5,304.2 L655.0,303.0 L654.9,301.7 L655.8,302.5 L656.6,303.3 L657.5,304.0 L657.1,302.6 L657.3,301.3 L657.8,300.0 L658.4,298.7 L657.9,297.3 L658.3,296.0 L658.4,294.7 L658.6,293.4 L658.8,292.0 L658.2,290.7 L658.9,289.4 L658.8,288.0 L659.0,286.7 L659.0,285.4 L659.3,284.2 L659.4,282.9 L659.7,281.7 L661.0,280.6 L661.1,279.4 L660.8,278.0 L662.2,278.0 L663.5,277.4 L664.4,278.7 L664.5,280.0 L664.0,281.4 L663.8,282.8 L664.5,284.1 L664.9,285.3 L664.9,286.7 L665.1,288.0 L665.5,289.3 L665.2,290.6 L665.3,291.8 L665.4,293.1 L665.5,294.4 L665.6,295.7 L665.3,296.9 L665.0,298.2 L665.5,299.5 L664.8,300.8 L666.0,302.0 L665.5,303.3 L666.0,304.6 L665.7,305.9 L665.7,307.2 L665.6,308.5 L665.5,309.7 L666.0,311.0 L666.2,312.3 L666.0,313.6 L665.9,314.8 L666.2,316.1 L665.9,317.4 L665.7,318.7 L666.6,319.9 L666.2,321.2 L666.2,322.5 L665.9,321.2 L666.5,320.0 L666.5,318.7 L666.3,317.4 L667.0,316.2 L666.8,314.9 L666.7,313.6 L667.1,312.3 L667.2,311.1 L667.3,309.8 L667.3,308.5 L667.4,307.3 L667.0,306.0 L667.3,304.7 L667.6,303.4 L667.0,302.1 L668.3,300.9 L667.6,299.6 L667.5,298.3 L667.4,297.0 L668.0,295.8 L668.1,297.1 L668.5,298.4 L668.6,299.8 L668.9,301.1 L669.0,302.4 L669.0,303.7 L669.3,305.0 L669.0,306.4 L669.4,307.7 L669.5,309.0 L669.6,310.4 L669.5,311.7 L669.9,313.0 L670.2,314.3 L670.5,315.5 L670.8,316.7 L670.9,318.0 L670.9,319.3 L671.2,320.5 L671.6,321.7 L671.8,323.0 L671.4,321.7 L672.0,320.4 L672.3,319.1 L672.3,317.8 L671.9,316.4 L672.4,315.2 L672.6,313.9 L672.4,312.5 L672.9,311.3 L672.8,309.9 L672.8,308.6 L672.8,307.3 L673.5,306.0 L673.4,304.7 L673.2,303.4 L673.3,302.1 L673.8,300.8 L673.8,302.2 L674.4,303.4 L674.2,304.8 L675.0,306.0 L675.5,307.3 L675.2,308.8 L675.8,310.0 L676.1,311.4 L676.6,312.7 L677.3,313.9 L677.7,315.3 L677.8,316.7 L678.2,315.4 L677.7,314.1 L678.4,312.9 L678.1,311.6 L677.9,310.2 L678.3,309.0 L678.5,307.7 L678.1,306.4 L677.8,305.1 L678.6,303.8 L678.3,302.5 L678.8,301.3 L678.2,299.9 L678.8,298.7 L678.6,297.4 L678.5,296.1 L678.9,294.8 L679.1,293.5 L679.0,292.2 L678.9,290.9 L679.4,289.7 L678.8,288.3 L679.6,287.1 L679.6,285.8 L679.4,287.2 L680.0,288.3 L680.5,289.4 L680.9,290.6 L681.3,291.8 L681.9,293.0 L681.4,294.4 L681.8,295.7 L682.2,297.0 L682.6,298.3 L682.0,299.7 L682.4,301.0 L683.0,302.3 L682.7,303.7 L682.8,305.0 L683.1,303.7 L683.3,302.3 L683.1,301.0 L683.2,299.7 L683.7,298.4 L684.2,297.0 L683.6,295.7 L683.6,294.3 L684.0,293.0 L683.7,291.7 L684.1,290.3 L684.1,289.0 L684.5,290.3 L684.7,291.6 L684.6,293.0 L684.6,294.4 L684.9,295.7 L684.8,297.1 L685.8,298.3 L685.5,299.7 L685.9,301.0 L686.1,299.7 L686.4,298.4 L686.2,297.0 L686.7,295.7 L686.7,294.3 L687.3,293.0 L687.4,291.7 L687.7,293.0 L687.6,294.3 L688.0,295.5 L687.6,296.8 L688.2,298.1 L687.9,299.4 L688.1,300.6 L688.6,301.9 L688.5,303.2 L688.7,304.4 L688.7,305.7 L688.8,307.0 L688.3,308.3 L689.0,309.5 L688.8,310.8 L689.2,309.5 L688.7,308.2 L688.5,306.9 L689.3,305.6 L688.6,304.3 L689.4,303.0 L689.5,301.7 L689.4,300.4 L689.2,299.0 L689.2,297.7 L689.4,296.4 L689.3,295.1 L689.2,293.8 L689.3,292.5 L689.8,291.2 L689.3,289.9 L689.6,288.6 L689.2,287.3 L689.4,286.0 L689.2,284.7 L689.6,283.4 L689.9,282.1 L689.8,280.8 L689.6,279.4 L690.0,278.1 L689.7,276.8 L690.0,275.5 L690.0,274.2 L690.1,272.9 L689.2,271.6 L689.5,270.3 L690.1,269.0 L690.2,270.2 L689.6,271.6 L690.6,272.7 L690.9,273.9 L690.5,275.2 L691.0,276.4 L690.7,277.7 L691.3,278.8 L691.7,280.0 L691.6,281.3 L692.2,282.6 L692.2,283.9 L692.4,285.2 L692.4,286.5 L692.2,287.8 L692.8,289.1 L692.6,290.4 L693.0,291.7 L692.9,293.0 L692.5,291.6 L693.4,290.4 L693.7,289.2 L693.5,287.8 L694.4,286.6 L694.4,285.3 L694.7,284.0 L694.8,285.1 L695.4,286.1 L696.2,287.0 L696.8,287.9 L696.8,286.7 L696.8,285.3 L697.1,284.0 L697.0,282.7 L698.0,281.5 L696.9,280.0 L697.9,278.8 L697.5,277.4 L697.7,276.1 L698.2,274.8 L698.1,273.4 L697.8,272.1 L698.4,270.8 L699.4,270.8 L700.5,270.7 L700.7,269.8 L700.5,268.5 L700.7,267.3 L701.3,266.1 L701.4,264.9 L701.4,263.7 L702.4,262.5 L702.0,261.2 L701.9,260.0 L702.3,258.7 L702.4,257.3 L701.8,255.9 L702.2,254.6 L702.5,253.3 L703.9,252.1 L703.3,250.7 L703.5,249.3 L703.6,248.0 L704.1,246.7 L704.2,248.0 L703.8,249.3 L704.3,250.5 L704.2,251.8 L705.0,253.0 L705.1,254.3 L705.6,255.5 L705.7,256.7 L706.0,258.0 L706.5,257.1 L707.4,256.4 L707.9,257.7 L707.4,259.1 L708.0,260.3 L707.8,261.7 L708.1,262.9 L708.3,264.2 L708.5,265.5 L709.1,266.7 L709.2,268.0 L710.0,269.1 L710.5,270.3 L710.4,271.7 L710.6,273.0 L711.8,274.0 L712.4,272.8 L712.2,271.6 L711.8,270.3 L712.3,269.1 L712.5,267.9 L712.6,266.7 L712.7,268.0 L713.2,269.3 L712.8,270.7 L712.7,272.0 L712.8,273.4 L713.0,274.7 L712.9,276.0 L713.7,277.3 L713.6,278.7 L713.5,280.0 L713.5,281.4 L713.8,282.7 L713.9,284.0 L714.1,282.7 L714.8,281.5 L713.6,280.2 L714.3,278.9 L715.2,277.7 L714.6,276.4 L714.0,275.1 L714.7,273.9 L714.3,272.6 L714.6,271.3 L715.0,270.1 L715.6,268.8 L715.3,267.5 L715.4,266.3 L715.4,265.0 L715.7,266.2 L716.5,267.2 L716.7,268.5 L717.0,269.7 L717.5,270.8 L717.4,269.5 L717.7,268.2 L717.4,266.9 L717.7,265.6 L718.2,264.4 L718.3,263.1 L718.6,261.8 L719.2,260.6 L719.0,259.3 L719.0,258.0 L719.6,259.3 L719.7,260.6 L719.4,262.0 L720.0,263.2 L719.7,264.6 L720.3,265.9 L720.1,267.2 L720.3,268.5 L720.1,269.9 L720.8,271.2 L720.8,272.5 L721.1,271.2 L721.3,269.9 L722.0,268.7 L721.6,267.3 L721.7,266.0 L722.0,264.8 L722.5,263.5 L722.7,262.2 L723.0,261.0 L722.5,259.6 L724.1,258.5 L724.1,257.2 L723.7,255.8 L724.4,256.9 L724.3,258.2 L724.5,259.4 L725.7,260.3 L725.3,261.7 L726.0,263.0 L725.5,264.4 L725.3,265.8 L725.6,267.1 L726.7,268.3 L725.9,269.7 L726.2,271.0 L726.8,272.3 L726.7,273.7 L726.8,275.0 L727.2,276.3 L727.3,277.7 L727.6,279.0 L727.1,280.4 L728.3,281.7 L727.3,283.1 L728.2,284.4 L727.9,285.8 L727.7,284.5 L728.0,283.2 L728.3,282.0 L728.9,280.7 L728.3,279.4 L729.2,278.2 L729.0,276.9 L729.7,275.7 L729.4,274.3 L729.8,273.1 L729.8,271.8 L730.6,270.6 L730.0,269.2 L730.3,268.0 L730.8,266.7 L730.6,268.0 L730.6,269.2 L731.2,270.4 L731.1,271.7 L732.1,272.9 L731.5,274.2 L731.9,275.5 L732.3,276.7 L732.2,278.0 L731.9,279.3 L732.4,280.5 L733.2,281.7 L732.4,283.1 L733.5,284.2 L733.6,285.5 L733.7,286.8 L734.1,288.0 L733.8,286.7 L734.4,285.5 L735.3,284.5 L735.5,283.3 L735.0,281.9 L735.9,280.8 L735.9,282.1 L735.8,283.5 L736.0,284.8 L735.9,286.1 L736.5,287.4 L736.5,288.7 L736.5,290.1 L736.5,291.4 L736.2,292.7 L736.9,294.0 L736.1,295.4 L736.8,296.7 L736.8,298.0 L736.6,299.3 L736.8,300.5 L737.1,301.7 L737.5,303.0 L737.6,304.2 L737.8,305.4 L737.2,306.7 L737.4,308.0 L737.3,309.3 L737.7,310.5 L738.0,311.7 L738.4,310.5 L738.7,309.2 L738.5,307.9 L738.9,306.6 L739.6,305.4 L738.7,304.0 L739.0,302.7 L739.3,301.5 L740.0,300.3 L740.1,299.0 L740.3,297.7 L740.9,296.5 L741.1,295.1 L741.5,293.9 L741.6,292.5 L742.1,291.3 L742.5,290.0 L743.0,288.8 L743.5,287.5 L742.4,286.1 L743.3,284.9 L743.2,283.6 L743.7,282.4 L743.9,281.1 L743.9,279.8 L744.1,278.5 L743.7,277.2 L743.6,275.9 L744.8,274.7 L744.8,273.4 L744.2,272.0 L744.9,270.8 L744.7,272.2 L746.0,273.4 L745.2,275.0 L746.1,276.2 L745.7,277.7 L746.4,279.0 L746.3,277.6 L746.2,276.3 L746.8,275.0 L747.4,273.8 L747.1,272.4 L746.9,271.0 L748.4,269.9 L748.5,268.5 L748.3,267.2 L748.2,265.8 L748.0,264.5 L748.0,263.2 L748.9,262.0 L749.3,260.7 L748.6,259.4 L749.1,258.1 L749.1,256.8 L749.2,255.5 L749.6,254.3 L750.3,253.1 L749.6,251.7 L750.3,250.4 L750.7,249.1 L750.6,247.7 L750.9,246.3 L751.1,245.0 L751.1,246.4 L751.9,247.6 L752.1,248.9 L752.1,250.2 L752.6,251.5 L752.9,252.7 L752.8,254.1 L752.4,255.5 L753.2,256.7 L753.2,258.0 L754.0,259.2 L754.3,260.5 L753.1,262.0 L754.0,263.2 L754.6,264.4 L754.2,265.8 L754.1,267.1 L755.1,268.3 L754.9,269.7 L754.7,271.0 L755.3,272.3 L754.8,273.6 L754.9,274.9 L755.3,276.2 L755.7,277.5 L755.7,278.8 L756.1,280.1 L756.0,281.4 L756.0,282.7 L756.3,284.0 L756.7,282.7 L757.2,281.4 L756.4,280.1 L756.7,278.8 L757.0,277.5 L757.0,276.2 L756.8,274.9 L756.8,273.6 L757.4,272.3 L757.3,271.0 L757.4,269.7 L757.0,268.4 L757.6,267.1 L757.7,265.8 L757.4,264.5 L757.8,263.2 L758.4,261.9 L757.1,260.6 L758.1,259.3 L757.5,258.0 L757.8,256.7 L758.2,258.0 L758.1,259.3 L758.4,260.5 L759.0,261.8 L759.3,263.0 L759.1,264.4 L759.1,265.7 L759.5,266.9 L759.9,268.2 L759.0,269.6 L759.8,270.8 L759.8,269.5 L759.9,268.2 L760.0,266.8 L760.4,265.6 L760.5,264.2 L761.0,263.0 L760.5,261.6 L760.6,260.2 L761.6,259.0 L761.6,260.2 L761.6,261.5 L761.8,262.7 L762.3,263.9 L762.7,265.1 L763.5,266.2 L763.5,267.4 L763.1,268.8 L763.3,270.1 L763.5,271.4 L764.4,272.6 L764.6,273.9 L764.4,275.2 L764.6,276.5 L764.3,277.8 L764.8,279.1 L764.1,280.5 L764.8,281.7 L765.1,282.9 L764.9,284.1 L765.3,285.3 L765.9,286.4 L765.6,287.7 L765.5,288.9 L766.4,290.0 L766.4,288.7 L766.3,287.5 L766.1,286.2 L767.1,285.0 L767.3,283.8 L767.5,282.5 L767.5,281.3 L767.2,280.0 L767.6,278.7 L767.6,277.3 L767.6,276.0 L767.7,274.6 L768.5,273.4 L768.3,272.0 L769.2,270.8 L768.9,269.4 L768.2,268.0 L769.1,266.7 L768.8,268.1 L769.4,269.4 L770.0,270.6 L769.2,272.1 L770.5,273.3 L770.3,274.7 L771.1,275.9 L771.1,277.3 L771.4,278.6 L770.7,280.1 L770.9,281.4 L771.6,282.6 L771.9,284.0 L771.8,282.7 L772.1,281.3 L771.6,280.0 L771.9,278.6 L772.3,277.3 L772.7,276.0 L772.7,274.7 L772.9,273.3 L772.5,272.0 L772.3,270.6 L773.3,269.3 L773.0,268.0 L773.4,266.7 L773.4,265.3 L773.8,264.0 L774.1,265.3 L773.5,266.7 L774.1,268.0 L774.1,269.4 L774.2,270.7 L774.2,272.0 L774.5,273.3 L775.3,274.6 L775.1,276.0 L774.4,277.4 L775.0,278.7 L775.2,280.0 L775.6,278.7 L775.4,277.3 L775.5,276.0 L775.6,274.7 L776.4,273.4 L776.3,272.0 L776.9,270.8 L776.6,269.4 L777.2,268.1 L776.8,266.7 L776.3,265.3 L777.4,264.1 L777.0,262.7 L777.4,261.4 L777.1,260.0 L776.9,258.7 L777.2,257.4 L776.7,256.0 L776.8,254.7 L776.9,253.3 L777.1,252.0 L776.9,250.6 L777.4,249.3 L777.5,248.0 L779.0,248.0 L779.8,246.9 L779.9,245.4 L780.4,244.3 L780.2,242.9 L780.6,241.7 L780.7,240.4 L780.7,239.2 L781.1,238.0 L781.1,236.7 L781.5,235.4 L781.3,234.1 L781.0,232.8 L781.3,231.5 L781.7,230.2 L781.2,228.9 L781.7,227.6 L781.8,226.3 L782.2,225.0 L781.2,223.6 L781.6,222.3 L781.9,221.1 L782.3,219.8 L781.8,218.4 L782.1,217.1 L781.3,215.8 L781.6,214.5 L782.5,213.2 L781.8,211.9 L782.7,210.6 L781.7,209.3 L782.0,208.0 L783.1,206.5 L783.6,205.4 L783.6,204.0 L784.3,202.8 L783.7,201.4 L783.7,200.0 L783.3,198.7 L783.9,197.4 L784.4,196.1 L784.4,194.7 L784.7,193.4 L784.7,192.1 L784.4,190.7 L784.7,189.4 L784.7,188.0 L784.5,186.7 L785.7,185.6 L785.6,184.3 L785.6,183.0 L786.5,181.7 L787.0,180.4 L787.6,179.1 L787.1,180.3 L788.6,181.5 L787.7,182.8 L787.5,184.2 L788.5,185.3 L789.0,186.6 L788.4,187.9 L788.5,189.2 L788.6,190.5 L789.3,191.7 L789.1,193.0 L789.2,194.3 L789.2,195.5 L789.0,196.9 L789.9,198.0 L790.5,199.2 L791.4,200.3 L790.6,201.7 L791.1,202.9 L791.3,204.1 L791.9,205.2 L791.5,206.5 L792.7,207.5 L792.2,208.8 L792.5,210.0 L792.7,208.7 L793.3,207.5 L792.9,206.1 L793.1,204.8 L793.5,203.6 L792.7,202.2 L793.3,201.0 L793.6,199.7 L794.1,198.4 L793.6,197.1 L794.1,195.8 L795.0,195.5 L795.7,194.8 L796.6,196.2 L796.8,197.4 L796.4,198.8 L796.6,200.0 L796.6,201.3 L796.8,202.6 L797.5,203.7 L797.3,205.0 L797.9,203.7 L797.9,202.4 L798.0,201.1 L797.4,199.7 L798.2,198.5 L797.8,197.1 L797.8,195.8 L798.2,194.5 L798.5,193.2 L798.6,191.9 L798.6,190.6 L798.4,189.3 L799.0,188.0 L798.9,186.7 L798.8,185.2 L799.8,184.0 L800.6,182.8 L800.3,181.3 L800.6,180.0 L801.1,181.3 L801.7,182.4 L803.0,183.0 L803.2,184.3 L803.1,185.6 L802.4,187.0 L803.3,188.2 L803.0,189.6 L803.3,190.9 L804.2,192.1 L804.0,193.4 L804.2,194.7 L803.6,196.1 L803.8,197.4 L803.2,198.7 L804.0,200.0 L804.1,201.4 L804.4,202.7 L804.6,204.1 L804.1,205.5 L805.0,206.8 L804.8,208.2 L805.1,209.5 L805.9,210.8 L806.2,209.6 L806.0,208.2 L806.3,207.0 L806.5,205.7 L806.6,204.4 L806.6,203.1 L807.5,202.0 L807.0,200.6 L807.5,199.4 L808.0,198.2 L807.8,196.8 L808.1,195.6 L808.4,194.3 L808.2,193.0 L807.4,194.3 L808.6,195.6 L807.4,197.0 L808.1,198.2 L808.8,199.5 L808.4,200.9 L808.8,202.2 L808.3,203.5 L808.9,204.8 L808.7,206.1 L808.2,207.4 L808.3,208.7 L808.7,210.0 L808.5,211.4 L808.5,212.7 L808.5,214.0 L808.5,215.3 L808.7,216.6 L808.3,217.9 L809.2,219.2 L808.9,220.5 L808.7,221.9 L808.9,223.2 L809.0,224.5 L808.9,225.8 L809.0,224.5 L809.6,223.3 L809.2,221.9 L809.3,220.7 L809.7,219.4 L809.6,218.1 L809.2,216.7 L810.1,215.6 L810.0,214.2 L810.1,213.0 L810.6,211.7 L810.6,210.4 L810.5,209.1 L809.9,207.7 L810.2,206.4 L811.0,205.2 L811.0,203.9 L811.3,202.6 L811.3,201.3 L811.1,199.9 L810.9,198.6 L811.1,197.3 L811.5,196.0 L811.2,194.7 L812.1,193.5 L811.4,192.1 L811.3,190.8 L812.0,189.5 L811.5,188.2 L812.8,187.0 L811.9,185.6 L812.4,184.3 L812.5,183.0 L812.9,184.3 L813.4,185.6 L813.6,186.9 L812.6,188.3 L812.7,189.6 L812.4,190.9 L813.9,192.1 L813.2,193.5 L813.5,194.8 L813.3,196.1 L814.0,197.4 L813.6,198.7 L813.9,200.0 L813.9,201.3 L813.8,202.6 L814.5,203.7 L814.0,205.1 L815.0,206.2 L814.3,207.6 L815.9,208.7 L815.2,210.0 L815.7,211.2 L815.5,212.5 L815.3,213.8 L815.7,215.0 L816.0,213.7 L816.7,212.4 L815.7,211.0 L816.0,209.7 L817.1,208.5 L816.7,207.1 L816.0,205.7 L817.0,204.5 L816.6,203.1 L817.7,201.9 L817.7,200.6 L817.2,199.2 L818.1,198.0 L817.4,196.6 L818.2,195.3 L818.1,194.0 L818.2,195.3 L818.8,196.6 L818.5,198.0 L819.4,199.3 L818.9,200.6 L819.5,201.9 L818.5,203.4 L819.4,204.6 L820.0,205.9 L819.1,207.4 L819.3,208.7 L819.8,210.0 L818.9,211.4 L819.6,212.7 L820.0,214.0 L819.9,212.7 L819.5,211.4 L820.6,210.3 L821.0,209.0 L820.6,207.7 L820.4,206.4 L821.1,205.2 L820.6,203.9 L821.4,202.8 L821.9,201.5 L822.3,200.3 L822.0,199.0 L822.1,197.8 L822.5,196.5 L822.9,195.3 L822.5,194.0 L823.2,195.2 L823.2,196.5 L823.6,197.8 L823.7,199.1 L823.6,200.4 L823.7,201.7 L824.0,203.0 L824.2,201.8 L824.2,200.5 L824.6,199.3 L824.9,198.0 L825.0,196.8 L825.5,195.6 L824.9,194.2 L825.1,193.0 L826.0,191.8 L825.6,190.5 L825.8,189.3 L825.7,188.0 L826.2,186.8 L825.8,185.4 L825.7,184.2 L826.1,182.9 L826.0,181.6 L826.6,180.4 L826.2,179.1 L826.5,177.8 L826.5,176.5 L826.7,175.3 L826.6,174.0 L826.8,175.5 L828.3,176.5 L828.4,178.0 L830.0,177.4 L829.8,178.8 L830.0,180.1 L829.9,181.4 L830.2,182.6 L830.4,183.9 L830.6,185.2 L830.3,186.5 L830.4,187.8 L830.1,189.1 L830.1,190.4 L829.9,191.7 L830.3,193.0 L830.6,194.2 L830.7,195.5 L830.3,196.8 L830.3,198.1 L829.7,199.4 L830.4,200.7 L829.8,202.0 L829.8,203.3 L830.9,204.5 L830.1,205.8 L830.1,207.1 L830.1,208.4 L830.6,209.7 L830.3,211.0 L830.8,212.3 L830.7,213.6 L830.7,214.8 L830.0,216.1 L830.8,217.4 L830.4,218.7 L830.8,220.0 L831.2,221.3 L830.9,222.6 L830.9,223.9 L831.5,225.2 L831.2,226.5 L831.8,227.8 L832.0,229.1 L831.7,230.4 L832.0,231.7 L832.1,233.0 L832.2,231.7 L833.3,231.0 L834.0,230.0 L834.8,231.3 L835.1,232.7 L836.0,233.9 L836.1,232.8 L836.4,231.6 L836.5,230.4 L836.4,229.1 L836.8,227.9 L837.0,226.7 L836.7,228.1 L837.2,229.4 L837.3,230.7 L837.8,232.0 L837.3,233.4 L837.3,234.7 L838.1,236.0 L837.8,237.4 L838.1,238.7 L838.3,240.0 L839.4,239.0 L840.9,239.2 L841.8,240.1 L841.3,241.6 L841.8,242.8 L841.5,244.2 L842.4,245.4 L842.5,246.7 L842.4,248.0 L842.5,249.3 L842.9,250.5 L842.6,251.8 L842.8,253.1 L842.6,254.4 L843.3,255.6 L843.2,256.9 L843.4,258.2 L843.6,259.4 L843.3,260.7 L843.4,262.0 L843.2,263.3 L844.0,264.4 L843.9,265.7 L843.8,266.9 L844.5,268.1 L844.6,269.3 L844.8,270.5 L845.1,271.7 L844.8,270.4 L845.7,269.1 L845.6,267.8 L845.6,266.5 L845.4,265.1 L846.0,263.9 L846.6,262.7 L845.9,261.2 L846.4,260.0 L847.1,258.7 L847.4,257.3 L847.7,255.9 L847.1,254.4 L847.6,253.0 L847.4,251.7 L848.1,250.6 L848.0,249.3 L848.4,248.1 L849.0,247.0 L848.8,245.7 L848.8,244.4 L849.1,243.2 L849.4,242.0 L849.4,240.8 L849.6,242.2 L849.7,243.5 L849.5,245.0 L851.1,246.1 L850.9,247.5 L851.2,248.9 L850.6,250.3 L850.3,251.8 L851.3,253.0 L851.4,254.2 L851.1,255.5 L852.5,256.6 L851.9,257.9 L852.8,259.0 L852.0,260.3 L852.4,261.5 L852.5,262.8 L852.5,264.0 L852.3,262.7 L852.9,261.4 L852.5,260.1 L852.7,258.8 L853.4,257.5 L852.4,256.2 L852.9,255.0 L852.3,253.7 L853.1,252.4 L853.0,251.1 L852.7,249.8 L853.0,248.5 L853.3,247.2 L853.2,245.9 L852.7,244.6 L852.7,243.3 L853.1,242.0 L852.2,240.7 L852.5,239.4 L852.9,238.2 L853.0,236.9 L853.5,235.6 L853.4,234.3 L852.9,233.0 L852.9,231.7 L852.4,230.4 L852.9,229.1 L853.2,227.9 L853.1,226.6 L853.3,225.3 L853.6,224.0 L853.1,222.7 L853.3,221.4 L853.0,220.1 L854.2,218.9 L853.4,217.5 L853.3,216.2 L854.1,215.0 L854.1,213.7 L854.7,212.4 L854.4,211.0 L855.5,209.8 L855.2,208.4 L855.1,207.0 L855.3,205.7 L855.4,204.3 L855.9,203.1 L856.1,201.7 L855.9,200.4 L855.8,199.1 L856.7,198.0 L857.0,196.8 L856.3,195.4 L856.8,194.2 L856.9,192.9 L857.6,191.7 L857.4,193.0 L858.0,194.3 L858.2,195.7 L857.6,197.1 L858.8,198.3 L857.9,199.7 L858.3,201.0 L857.6,202.4 L858.0,203.7 L858.7,205.0 L858.7,206.4 L858.8,207.7 L859.1,209.0 L858.9,210.4 L858.9,211.7 L858.6,210.3 L859.3,209.0 L860.1,207.8 L860.0,206.4 L859.7,205.0 L859.9,203.7 L860.0,202.4 L859.9,201.0 L861.2,199.8 L860.9,198.5 L860.8,197.1 L861.1,195.8 L861.6,197.1 L861.9,198.5 L861.2,200.0 L862.2,201.2 L862.2,202.6 L862.0,204.0 L862.4,205.3 L862.9,206.6 L863.3,208.0 L862.7,209.4 L863.2,210.7 L863.7,212.0 L863.8,213.3 L864.3,214.6 L864.5,216.0 L864.9,217.3 L864.3,218.7 L864.6,220.0 L865.5,220.9 L866.2,221.8 L866.6,220.4 L866.5,219.1 L866.2,217.8 L866.9,216.6 L867.2,215.3 L867.1,214.0 L867.4,212.7 L866.9,211.4 L866.8,210.1 L867.7,208.9 L867.1,207.6 L867.5,206.3 L867.5,205.0 L867.9,206.3 L868.4,207.6 L868.9,208.9 L869.8,210.1 L868.9,211.9 L870.0,213.0 L869.4,211.6 L869.8,210.3 L869.8,209.0 L870.0,207.7 L869.5,206.3 L870.6,205.0 L871.1,203.7 L870.5,202.3 L870.9,201.0 L870.9,199.7 L870.3,198.3 L871.3,197.0 L870.3,195.6 L870.8,194.3 L870.9,193.0 L871.6,191.7 L871.3,190.3 L871.3,189.0 L871.8,190.3 L871.7,191.6 L872.0,192.9 L871.9,194.3 L871.9,195.6 L872.4,196.9 L872.8,198.2 L873.1,199.5 L873.1,200.8 L873.3,202.1 L873.4,203.4 L872.8,204.7 L873.0,206.0 L873.4,207.2 L873.7,208.5 L873.9,209.8 L873.4,211.1 L874.0,212.4 L873.5,213.7 L874.2,214.9 L874.0,216.3 L873.9,217.5 L874.1,218.8 L874.1,220.1 L874.1,221.4 L874.7,222.7 L874.8,224.0 L874.5,225.3 L873.8,226.6 L874.6,227.8 L874.9,229.1 L874.9,230.4 L874.7,231.7 L874.6,233.0 L875.5,234.0 L875.4,235.3 L875.8,236.5 L876.3,237.6 L876.8,238.7 L876.7,240.0 L877.2,241.3 L877.0,242.7 L878.1,243.9 L877.4,245.4 L877.8,246.7 L878.2,248.0 L879.5,247.8 L880.1,246.8 L880.8,247.9 L880.4,249.2 L880.4,250.5 L881.0,251.7 L881.4,252.9 L881.0,254.3 L881.1,255.5 L881.7,256.7 L881.7,258.0 L882.1,259.2 L882.4,260.4 L882.4,261.7 L882.2,263.0 L883.4,264.1 L883.2,265.4 L883.1,266.7 L883.3,268.0 L883.4,269.3 L883.2,270.6 L883.9,271.9 L884.0,273.2 L884.2,274.5 L884.2,275.8 L883.7,277.2 L883.6,278.5 L884.1,279.8 L884.2,281.1 L883.9,282.4 L883.9,283.7 L884.2,285.0 L884.8,286.3 L884.4,287.5 L885.0,288.8 L884.3,290.1 L884.6,291.4 L884.6,292.6 L884.0,293.9 L884.1,295.2 L884.4,296.5 L884.5,297.7 L884.5,299.0 L884.8,300.3 L884.7,301.5 L884.2,302.8 L885.0,304.1 L885.0,305.4 L884.8,306.6 L884.6,307.9 L884.7,309.2 L885.2,310.4 L885.0,311.7 L885.0,313.0 L884.9,311.7 L885.5,310.4 L885.6,309.1 L886.2,307.9 L886.3,306.6 L886.2,305.2 L886.7,304.0 L888.3,304.0 L888.8,305.2 L889.0,306.5 L888.9,307.9 L889.5,309.1 L890.2,310.3 L890.1,311.7 L889.9,313.0 L889.7,314.3 L890.7,315.4 L890.7,316.7 L890.8,318.0 L891.2,319.2 L890.9,320.5 L891.2,321.7 L891.3,323.0 L892.2,321.9 L891.9,320.5 L892.5,319.3 L892.9,318.0 L892.9,316.7 L894.2,315.9 L893.9,317.3 L894.3,318.5 L894.6,319.7 L895.0,320.9 L894.7,322.1 L894.9,323.4 L894.6,324.6 L895.2,325.8 L895.5,327.1 L896.0,328.2 L896.4,329.4 L896.9,330.6 L897.1,331.8 L897.5,333.0 L897.6,334.3 L897.8,335.5 L898.3,336.7 L898.8,337.9 L898.8,339.3 L898.9,340.5 L899.6,341.7 L899.6,340.4 L899.7,339.1 L899.7,337.9 L899.7,336.6 L899.6,335.3 L899.7,334.0 L900.1,332.7 L900.2,331.5 L899.5,330.2 L899.3,328.9 L900.0,327.6 L899.7,326.3 L899.8,325.0 L899.6,323.7 L900.1,322.5 L900.0,321.2 L899.9,319.9 L900.3,318.6 L900.7,317.4 L900.5,316.1 L900.5,314.8 L900.2,313.5" fill="none" stroke="#e05c68" stroke-width="2.8" stroke-linejoin="round" stroke-linecap="round"/>
</g>
<g class="ticks"><line x1="49.8" y1="464.6" x2="49.8" y2="475.2" /><line x1="142.1" y1="464.6" x2="142.1" y2="475.2" /><line x1="234.5" y1="464.6" x2="234.5" y2="475.2" /><line x1="326.8" y1="464.6" x2="326.8" y2="475.2" /><line x1="419.1" y1="464.6" x2="419.1" y2="475.2" /><line x1="511.4" y1="464.6" x2="511.4" y2="475.2" /><line x1="603.8" y1="464.6" x2="603.8" y2="475.2" /><line x1="696.1" y1="464.6" x2="696.1" y2="475.2" /><line x1="788.4" y1="464.6" x2="788.4" y2="475.2" /><line x1="880.8" y1="464.6" x2="880.8" y2="475.2" /></g>
<g class="ax"><text x="919.22" y="6.8" textLength="16.33" lengthAdjust="spacingAndGlyphs">175</text><text x="918.60" y="72.8" textLength="20.00" lengthAdjust="spacingAndGlyphs">150</text><text x="918.70" y="138.7" textLength="18.00" lengthAdjust="spacingAndGlyphs">125</text><text x="918.84" y="204.6" textLength="20.64" lengthAdjust="spacingAndGlyphs">100</text><text x="919.16" y="270.5" textLength="13.09" lengthAdjust="spacingAndGlyphs">75</text><text x="918.70" y="336.5" textLength="15.50" lengthAdjust="spacingAndGlyphs">50</text><text x="919.16" y="402.4" textLength="13.74" lengthAdjust="spacingAndGlyphs">25</text><text x="919.8" y="469.0" textLength="8.7" lengthAdjust="spacingAndGlyphs" style="letter-spacing:0;stroke:#6b6b6b;stroke-width:0.5">—</text><text x="36.40" y="487.8" textLength="26.09" lengthAdjust="spacingAndGlyphs">2016</text><text x="128.96" y="487.8" textLength="26.76" lengthAdjust="spacingAndGlyphs">2017</text><text x="220.96" y="487.8" textLength="26.98" lengthAdjust="spacingAndGlyphs">2018</text><text x="314.16" y="487.8" textLength="26.09" lengthAdjust="spacingAndGlyphs">2019</text><text x="404.16" y="487.8" textLength="30.59" lengthAdjust="spacingAndGlyphs">2020</text><text x="498.10" y="487.8" textLength="26.80" lengthAdjust="spacingAndGlyphs">2021</text><text x="588.96" y="487.8" textLength="29.51" lengthAdjust="spacingAndGlyphs">2022</text><text x="681.40" y="487.8" textLength="29.82" lengthAdjust="spacingAndGlyphs">2023</text><text x="773.90" y="487.8" textLength="29.12" lengthAdjust="spacingAndGlyphs">2024</text><text x="865.96" y="487.8" textLength="29.51" lengthAdjust="spacingAndGlyphs">2025</text></g>
<rect x="904.7" y="303.5" width="47.4" height="23" rx="3.5" fill="#e0606c"/>
<text class="tag" x="928.3" y="319.6" text-anchor="middle" textLength="40" lengthAdjust="spacingAndGlyphs">$56.30</text>
<g>
<path d="M14.3,521.6 H32.5 L31.7,527 H15.1 Z" fill="url(#lg)"/>
<rect x="13.9" y="520.9" width="19" height="2.5" rx="1.2" fill="#e0606c"/>
<circle cx="23.4" cy="522.3" r="4.6" fill="#e0606c"/>
<text class="legend" x="38.7" y="528">NYSE:SIG Total Chg: -55.4% (CAGR: -8.0%)</text>
</g>
<line x1="38.5" y1="111.9" x2="612" y2="545" stroke="#ec4224" stroke-width="4.0"/>
<polygon points="23.3,100.4 44.2,104.6 32.9,119.2" fill="#ec4224"/>
<rect x="3.8" y="0" width="2.5" height="540" fill="#0a0a0a"/>
<rect x="951.8" y="0" width="2.4" height="540" fill="#0a0a0a"/>
</svg>
</body>
</html>
